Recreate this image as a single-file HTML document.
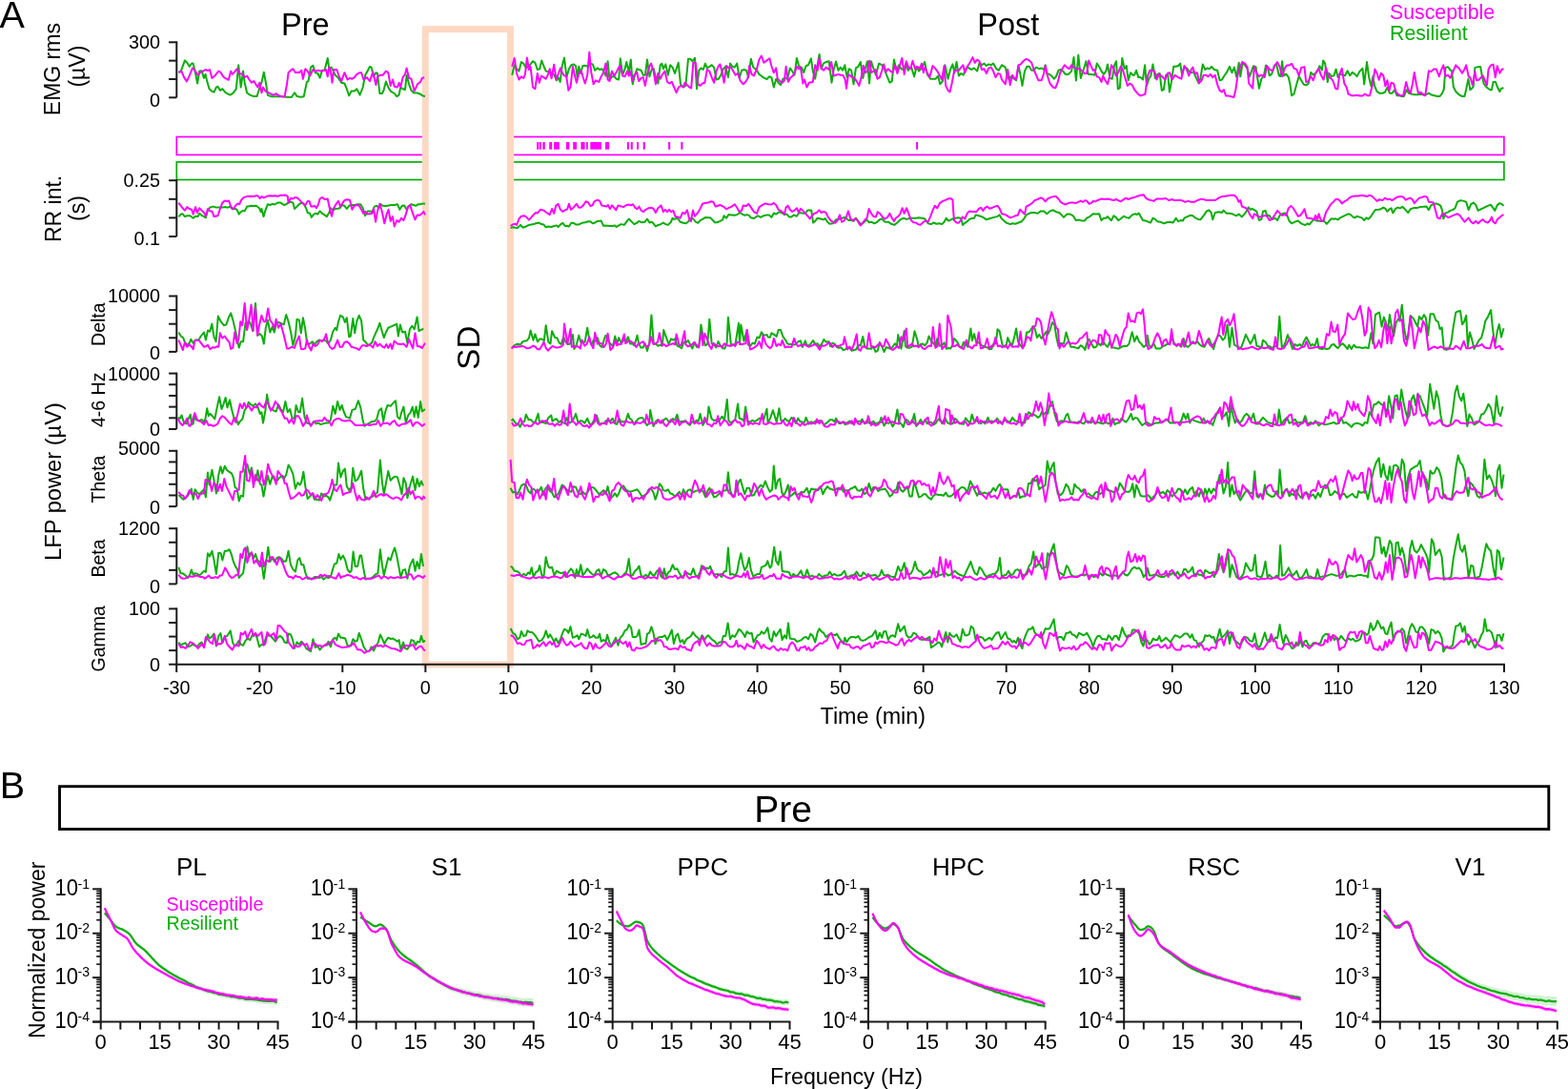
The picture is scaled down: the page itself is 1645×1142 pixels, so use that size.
<!DOCTYPE html>
<html><head><meta charset="utf-8"><title>Figure</title>
<style>html,body{margin:0;padding:0;background:#fff;}svg{display:block;}</style>
</head><body>
<svg width="1645" height="1142" viewBox="0 0 1645 1142" font-family="'Liberation Sans', Arial, sans-serif">
<rect width="1645" height="1142" fill="#fff"/>
<text x="-0.60" y="28.90" font-size="39.5" text-anchor="start" fill="#000">A</text>
<text x="320.30" y="36.50" font-size="32.5" text-anchor="middle" fill="#000">Pre</text>
<text x="1057.80" y="36.50" font-size="32.5" text-anchor="middle" fill="#000">Post</text>
<text x="1458.00" y="19.90" font-size="21.3" text-anchor="start" fill="#ff00ff">Susceptible</text>
<text x="1458.00" y="41.50" font-size="21.3" text-anchor="start" fill="#0aad0a">Resilient</text>
<text x="63.30" y="72.60" font-size="23" text-anchor="middle" fill="#000" transform="rotate(-90 63.30 72.60)">EMG rms</text>
<text x="89.30" y="69.60" font-size="23" text-anchor="middle" fill="#000" transform="rotate(-90 89.30 69.60)">(µV)</text>
<text x="63.60" y="218.90" font-size="23" text-anchor="middle" fill="#000" transform="rotate(-90 63.60 218.90)">RR int.</text>
<text x="89.30" y="218.50" font-size="23" text-anchor="middle" fill="#000" transform="rotate(-90 89.30 218.50)">(s)</text>
<text x="63.80" y="505.00" font-size="23.7" text-anchor="middle" fill="#000" transform="rotate(-90 63.80 505.00)">LFP power (µV)</text>
<rect x="185.3" y="143.5" width="1392.6" height="18.9" fill="none" stroke="#ff00ff" stroke-width="1.7"/>
<rect x="185.3" y="169.9" width="1392.6" height="18.6" fill="none" stroke="#0aad0a" stroke-width="1.7"/>
<rect x="563.1" y="149.0" width="2.1" height="7.7" fill="#ff00ff"/>
<rect x="565.7" y="149.0" width="2.2" height="7.7" fill="#ff00ff"/>
<rect x="569.3" y="149.0" width="2.5" height="7.7" fill="#ff00ff"/>
<rect x="576.2" y="149.0" width="3.0" height="7.7" fill="#ff00ff"/>
<rect x="581.0" y="149.0" width="5.9" height="7.7" fill="#ff00ff"/>
<rect x="594.0" y="149.0" width="3.4" height="7.7" fill="#ff00ff"/>
<rect x="601.2" y="149.0" width="3.9" height="7.7" fill="#ff00ff"/>
<rect x="609.4" y="149.0" width="4.2" height="7.7" fill="#ff00ff"/>
<rect x="614.9" y="149.0" width="1.9" height="7.7" fill="#ff00ff"/>
<rect x="619.3" y="149.0" width="11.7" height="7.7" fill="#ff00ff"/>
<rect x="635.0" y="149.0" width="4.2" height="7.7" fill="#ff00ff"/>
<rect x="657.9" y="149.0" width="2.1" height="7.7" fill="#ff00ff"/>
<rect x="661.7" y="149.0" width="2.1" height="7.7" fill="#ff00ff"/>
<rect x="668.1" y="149.0" width="1.9" height="7.7" fill="#ff00ff"/>
<rect x="674.7" y="149.0" width="2.1" height="7.7" fill="#ff00ff"/>
<rect x="701.1" y="149.0" width="2.1" height="7.7" fill="#ff00ff"/>
<rect x="714.3" y="149.0" width="2.1" height="7.7" fill="#ff00ff"/>
<rect x="961.1" y="149.0" width="2.0" height="7.7" fill="#ff00ff"/>
<rect x="446.3" y="30.6" width="89.3" height="666.3" fill="#fff" stroke="#fdd9c4" stroke-width="7"/>
<text x="503.40" y="364.70" font-size="33" text-anchor="middle" fill="#000" transform="rotate(-90 503.40 364.70)">SD</text>
<line x1="185.30" y1="43.30" x2="185.30" y2="102.30" stroke="#1a1a1a" stroke-width="2"/>
<line x1="177.10" y1="44.30" x2="185.30" y2="44.30" stroke="#1a1a1a" stroke-width="2"/>
<line x1="177.10" y1="63.63" x2="185.30" y2="63.63" stroke="#1a1a1a" stroke-width="2"/>
<line x1="177.10" y1="82.97" x2="185.30" y2="82.97" stroke="#1a1a1a" stroke-width="2"/>
<line x1="177.10" y1="102.30" x2="185.30" y2="102.30" stroke="#1a1a1a" stroke-width="2"/>
<text x="168.00" y="51.30" font-size="19.8" text-anchor="end" fill="#000">300</text>
<text x="168.00" y="112.40" font-size="19.8" text-anchor="end" fill="#000">0</text>
<line x1="185.30" y1="188.20" x2="185.30" y2="248.00" stroke="#1a1a1a" stroke-width="2"/>
<line x1="177.10" y1="189.20" x2="185.30" y2="189.20" stroke="#1a1a1a" stroke-width="2"/>
<line x1="177.10" y1="208.80" x2="185.30" y2="208.80" stroke="#1a1a1a" stroke-width="2"/>
<line x1="177.10" y1="228.40" x2="185.30" y2="228.40" stroke="#1a1a1a" stroke-width="2"/>
<line x1="177.10" y1="248.00" x2="185.30" y2="248.00" stroke="#1a1a1a" stroke-width="2"/>
<text x="168.00" y="195.50" font-size="19.8" text-anchor="end" fill="#000">0.25</text>
<text x="168.00" y="257.00" font-size="19.8" text-anchor="end" fill="#000">0.1</text>
<line x1="185.30" y1="309.50" x2="185.30" y2="368.90" stroke="#1a1a1a" stroke-width="2"/>
<line x1="177.10" y1="310.50" x2="185.30" y2="310.50" stroke="#1a1a1a" stroke-width="2"/>
<line x1="177.10" y1="325.10" x2="185.30" y2="325.10" stroke="#1a1a1a" stroke-width="2"/>
<line x1="177.10" y1="339.70" x2="185.30" y2="339.70" stroke="#1a1a1a" stroke-width="2"/>
<line x1="177.10" y1="354.30" x2="185.30" y2="354.30" stroke="#1a1a1a" stroke-width="2"/>
<line x1="177.10" y1="368.90" x2="185.30" y2="368.90" stroke="#1a1a1a" stroke-width="2"/>
<text x="168.00" y="316.60" font-size="19.8" text-anchor="end" fill="#000">10000</text>
<text x="168.00" y="377.00" font-size="19.8" text-anchor="end" fill="#000">0</text>
<text x="110.20" y="340.15" font-size="19.5" text-anchor="middle" fill="#000" transform="rotate(-90 110.20 340.15)">Delta</text>
<line x1="185.30" y1="390.60" x2="185.30" y2="450.00" stroke="#1a1a1a" stroke-width="2"/>
<line x1="177.10" y1="391.60" x2="185.30" y2="391.60" stroke="#1a1a1a" stroke-width="2"/>
<line x1="177.10" y1="403.28" x2="185.30" y2="403.28" stroke="#1a1a1a" stroke-width="2"/>
<line x1="177.10" y1="414.96" x2="185.30" y2="414.96" stroke="#1a1a1a" stroke-width="2"/>
<line x1="177.10" y1="426.64" x2="185.30" y2="426.64" stroke="#1a1a1a" stroke-width="2"/>
<line x1="177.10" y1="438.32" x2="185.30" y2="438.32" stroke="#1a1a1a" stroke-width="2"/>
<line x1="177.10" y1="450.00" x2="185.30" y2="450.00" stroke="#1a1a1a" stroke-width="2"/>
<text x="168.00" y="399.00" font-size="19.8" text-anchor="end" fill="#000">10000</text>
<text x="168.00" y="456.70" font-size="19.8" text-anchor="end" fill="#000">0</text>
<text x="110.20" y="419.25" font-size="19.5" text-anchor="middle" fill="#000" transform="rotate(-90 110.20 419.25)">4-6 Hz</text>
<line x1="185.30" y1="471.80" x2="185.30" y2="531.10" stroke="#1a1a1a" stroke-width="2"/>
<line x1="177.10" y1="472.80" x2="185.30" y2="472.80" stroke="#1a1a1a" stroke-width="2"/>
<line x1="177.10" y1="484.46" x2="185.30" y2="484.46" stroke="#1a1a1a" stroke-width="2"/>
<line x1="177.10" y1="496.12" x2="185.30" y2="496.12" stroke="#1a1a1a" stroke-width="2"/>
<line x1="177.10" y1="507.78" x2="185.30" y2="507.78" stroke="#1a1a1a" stroke-width="2"/>
<line x1="177.10" y1="519.44" x2="185.30" y2="519.44" stroke="#1a1a1a" stroke-width="2"/>
<line x1="177.10" y1="531.10" x2="185.30" y2="531.10" stroke="#1a1a1a" stroke-width="2"/>
<text x="168.00" y="476.80" font-size="19.8" text-anchor="end" fill="#000">5000</text>
<text x="168.00" y="539.00" font-size="19.8" text-anchor="end" fill="#000">0</text>
<text x="110.20" y="502.50" font-size="19.5" text-anchor="middle" fill="#000" transform="rotate(-90 110.20 502.50)">Theta</text>
<line x1="185.30" y1="553.20" x2="185.30" y2="612.40" stroke="#1a1a1a" stroke-width="2"/>
<line x1="177.10" y1="554.20" x2="185.30" y2="554.20" stroke="#1a1a1a" stroke-width="2"/>
<line x1="177.10" y1="568.75" x2="185.30" y2="568.75" stroke="#1a1a1a" stroke-width="2"/>
<line x1="177.10" y1="583.30" x2="185.30" y2="583.30" stroke="#1a1a1a" stroke-width="2"/>
<line x1="177.10" y1="597.85" x2="185.30" y2="597.85" stroke="#1a1a1a" stroke-width="2"/>
<line x1="177.10" y1="612.40" x2="185.30" y2="612.40" stroke="#1a1a1a" stroke-width="2"/>
<text x="168.00" y="561.30" font-size="19.8" text-anchor="end" fill="#000">1200</text>
<text x="168.00" y="622.00" font-size="19.8" text-anchor="end" fill="#000">0</text>
<text x="110.20" y="585.45" font-size="19.5" text-anchor="middle" fill="#000" transform="rotate(-90 110.20 585.45)">Beta</text>
<line x1="185.30" y1="637.40" x2="185.30" y2="696.70" stroke="#1a1a1a" stroke-width="2"/>
<line x1="177.10" y1="638.40" x2="185.30" y2="638.40" stroke="#1a1a1a" stroke-width="2"/>
<line x1="177.10" y1="652.98" x2="185.30" y2="652.98" stroke="#1a1a1a" stroke-width="2"/>
<line x1="177.10" y1="667.55" x2="185.30" y2="667.55" stroke="#1a1a1a" stroke-width="2"/>
<line x1="177.10" y1="682.12" x2="185.30" y2="682.12" stroke="#1a1a1a" stroke-width="2"/>
<line x1="177.10" y1="696.70" x2="185.30" y2="696.70" stroke="#1a1a1a" stroke-width="2"/>
<text x="168.00" y="644.60" font-size="19.8" text-anchor="end" fill="#000">100</text>
<text x="168.00" y="704.20" font-size="19.8" text-anchor="end" fill="#000">0</text>
<text x="110.20" y="669.75" font-size="19.5" text-anchor="middle" fill="#000" transform="rotate(-90 110.20 669.75)">Gamma</text>
<line x1="184.30" y1="696.70" x2="1578.90" y2="696.70" stroke="#1a1a1a" stroke-width="2"/>
<line x1="185.20" y1="696.70" x2="185.20" y2="705.00" stroke="#1a1a1a" stroke-width="2"/>
<text x="185.20" y="728.40" font-size="19.8" text-anchor="middle" fill="#000">-30</text>
<line x1="272.25" y1="696.70" x2="272.25" y2="705.00" stroke="#1a1a1a" stroke-width="2"/>
<text x="272.25" y="728.40" font-size="19.8" text-anchor="middle" fill="#000">-20</text>
<line x1="359.30" y1="696.70" x2="359.30" y2="705.00" stroke="#1a1a1a" stroke-width="2"/>
<text x="359.30" y="728.40" font-size="19.8" text-anchor="middle" fill="#000">-10</text>
<line x1="446.35" y1="696.70" x2="446.35" y2="705.00" stroke="#1a1a1a" stroke-width="2"/>
<text x="446.35" y="728.40" font-size="19.8" text-anchor="middle" fill="#000">0</text>
<line x1="533.40" y1="696.70" x2="533.40" y2="705.00" stroke="#1a1a1a" stroke-width="2"/>
<text x="533.40" y="728.40" font-size="19.8" text-anchor="middle" fill="#000">10</text>
<line x1="620.45" y1="696.70" x2="620.45" y2="705.00" stroke="#1a1a1a" stroke-width="2"/>
<text x="620.45" y="728.40" font-size="19.8" text-anchor="middle" fill="#000">20</text>
<line x1="707.50" y1="696.70" x2="707.50" y2="705.00" stroke="#1a1a1a" stroke-width="2"/>
<text x="707.50" y="728.40" font-size="19.8" text-anchor="middle" fill="#000">30</text>
<line x1="794.55" y1="696.70" x2="794.55" y2="705.00" stroke="#1a1a1a" stroke-width="2"/>
<text x="794.55" y="728.40" font-size="19.8" text-anchor="middle" fill="#000">40</text>
<line x1="881.60" y1="696.70" x2="881.60" y2="705.00" stroke="#1a1a1a" stroke-width="2"/>
<text x="881.60" y="728.40" font-size="19.8" text-anchor="middle" fill="#000">50</text>
<line x1="968.65" y1="696.70" x2="968.65" y2="705.00" stroke="#1a1a1a" stroke-width="2"/>
<text x="968.65" y="728.40" font-size="19.8" text-anchor="middle" fill="#000">60</text>
<line x1="1055.70" y1="696.70" x2="1055.70" y2="705.00" stroke="#1a1a1a" stroke-width="2"/>
<text x="1055.70" y="728.40" font-size="19.8" text-anchor="middle" fill="#000">70</text>
<line x1="1142.75" y1="696.70" x2="1142.75" y2="705.00" stroke="#1a1a1a" stroke-width="2"/>
<text x="1142.75" y="728.40" font-size="19.8" text-anchor="middle" fill="#000">80</text>
<line x1="1229.80" y1="696.70" x2="1229.80" y2="705.00" stroke="#1a1a1a" stroke-width="2"/>
<text x="1229.80" y="728.40" font-size="19.8" text-anchor="middle" fill="#000">90</text>
<line x1="1316.85" y1="696.70" x2="1316.85" y2="705.00" stroke="#1a1a1a" stroke-width="2"/>
<text x="1316.85" y="728.40" font-size="19.8" text-anchor="middle" fill="#000">100</text>
<line x1="1403.90" y1="696.70" x2="1403.90" y2="705.00" stroke="#1a1a1a" stroke-width="2"/>
<text x="1403.90" y="728.40" font-size="19.8" text-anchor="middle" fill="#000">110</text>
<line x1="1490.95" y1="696.70" x2="1490.95" y2="705.00" stroke="#1a1a1a" stroke-width="2"/>
<text x="1490.95" y="728.40" font-size="19.8" text-anchor="middle" fill="#000">120</text>
<line x1="1578.00" y1="696.70" x2="1578.00" y2="705.00" stroke="#1a1a1a" stroke-width="2"/>
<text x="1578.00" y="728.40" font-size="19.8" text-anchor="middle" fill="#000">130</text>
<text x="915.80" y="758.90" font-size="23.3" text-anchor="middle" fill="#000">Time (min)</text>
<polyline points="187.4,76.2 189.8,74.6 193.9,63.4 196.3,65.8 198.7,69.8 201.1,66.6 202.7,66.6 205.1,77.0 207.1,87.5 209.2,74.6 211.6,74.2 214.0,81.9 215.6,77.9 217.2,85.1 219.6,93.2 222.1,95.6 224.5,96.7 226.9,91.5 228.5,90.8 230.9,94.8 233.3,93.2 236.6,97.2 241.4,99.6 244.6,97.7 247.8,93.2 250.2,68.2 252.7,91.5 255.1,74.6 256.7,86.7 259.1,97.2 262.3,99.6 265.6,100.9 269.6,100.9 272.0,93.2 274.4,86.7 276.8,75.8 279.2,88.3 280.9,99.9 284.9,101.2 289.7,101.2 294.5,101.2 297.8,101.5 301.0,101.7 305.8,102.0 309.0,97.2 311.5,100.9 315.5,101.7 318.7,101.2 321.9,85.9 323.5,85.1 326.0,70.6 328.4,68.7 330.8,76.2 333.2,76.7 335.6,81.6 338.0,73.8 340.5,73.8 343.7,60.9 345.3,72.2 347.7,70.6 349.3,73.8 351.7,78.7 355.0,81.9 358.2,86.7 361.4,87.5 363.8,93.2 366.2,100.4 368.6,95.6 371.9,95.6 374.3,93.2 377.5,99.6 380.7,91.5 383.1,78.7 385.6,74.6 388.0,69.8 389.6,70.6 392.0,80.3 394.4,76.2 396.0,77.0 398.4,98.0 400.9,98.0 402.5,94.8 404.9,85.4 407.3,91.5 409.7,95.6 413.8,98.0 416.2,101.2 418.6,99.6 420.2,91.5 422.6,93.2 425.0,94.0 426.6,78.7 429.1,88.3 431.5,94.8 433.9,97.2 437.9,97.5 441.1,98.8 443.6,100.4 446.0,100.9" fill="none" stroke="#0aad0a" stroke-width="2" stroke-linejoin="round"/>
<polyline points="537.2,78.7 539.7,68.2 542.1,72.2 544.5,74.6 546.9,65.0 549.3,66.6 551.8,71.4 554.2,69.8 556.6,67.4 559.0,64.2 561.4,65.8 563.8,73.0 566.2,72.2 568.2,63.4 570.3,69.0 572.7,74.6 575.9,75.4 578.3,76.2 581.5,78.7 584.0,84.3 585.6,81.1 587.7,85.9 589.6,69.8 592.0,60.6 594.4,81.1 596.9,72.2 599.3,68.2 601.7,67.4 604.1,69.0 605.7,81.9 607.3,69.8 608.9,77.0 611.4,69.0 613.8,68.7 617.0,69.8 619.4,66.6 621.8,67.4 624.2,73.8 626.7,71.4 629.1,73.0 631.5,72.2 633.1,74.6 635.5,79.5 637.6,64.2 639.5,83.5 642.0,80.3 644.4,80.3 646.8,82.7 649.2,83.5 650.8,61.3 653.2,78.7 655.6,72.2 657.3,65.0 659.7,75.4 661.8,62.5 663.7,88.3 666.1,78.7 668.2,72.2 670.1,73.0 672.6,73.8 674.7,78.7 676.9,78.7 679.0,62.5 681.4,80.3 683.9,72.2 685.9,72.2 687.9,81.1 690.3,87.5 692.7,68.2 694.3,66.6 695.9,72.2 698.3,67.4 700.8,78.7 703.2,68.2 705.6,70.6 708.0,77.0 711.7,65.8 714.0,88.3 716.9,91.5 719.3,89.9 722.0,61.8 724.1,61.8 726.5,64.2 729.0,60.9 731.0,93.2 733.3,73.8 735.4,71.4 737.8,73.0 739.9,66.6 741.8,71.4 744.3,69.8 746.7,68.2 749.1,70.6 751.5,83.5 753.9,82.7 756.3,78.7 758.8,72.2 761.2,69.8 763.9,81.1 766.0,66.6 768.4,69.8 770.8,70.6 773.2,66.6 775.7,81.9 778.1,73.8 780.5,73.0 782.9,73.8 785.3,81.1 787.8,61.8 790.2,70.6 794.0,73.8 796.4,77.9 799.7,80.3 802.1,81.9 804.5,83.2 806.9,80.3 809.3,81.1 811.8,91.5 814.2,82.7 816.6,86.7 819.0,89.1 821.4,82.7 823.8,81.9 826.2,82.7 828.7,71.4 831.1,74.6 833.5,78.7 835.9,60.9 838.3,69.8 840.8,70.6 843.2,76.2 845.6,69.0 848.0,68.2 850.9,61.3 852.8,74.6 855.2,82.7 857.3,69.8 859.6,56.9 861.7,72.2 863.8,66.6 866.5,65.0 869.7,64.2 872.5,86.7 874.6,73.0 877.0,64.5 879.4,73.8 881.8,70.6 884.2,73.8 886.3,68.2 888.6,81.1 890.7,72.2 893.1,73.8 895.5,88.3 897.9,71.4 900.4,69.8 902.8,65.0 905.2,81.9 907.6,72.2 910.0,64.2 912.0,87.5 914.0,64.2 916.5,72.2 918.9,78.7 922.1,66.6 925.3,68.2 927.7,72.2 930.1,78.7 933.4,86.7 935.8,85.1 937.9,62.5 940.6,73.8 943.0,68.2 945.5,72.2 947.9,73.0 950.3,67.4 952.7,73.8 955.9,69.8 959.1,80.3 961.6,69.8 964.0,74.6 967.2,71.4 970.1,65.0 972.8,77.9 976.1,82.7 979.3,82.7 981.7,82.7 984.1,79.5 986.2,88.3 989.0,85.1 991.4,68.2 994.6,82.7 997.0,73.0 999.4,67.4 1001.4,76.2 1003.5,65.0 1005.9,79.5 1008.3,77.0 1010.7,78.7 1013.1,72.2 1015.5,70.6 1018.8,73.0 1022.0,71.4 1025.2,74.6 1027.6,65.8 1030.0,68.2 1032.5,66.6 1034.9,69.0 1037.3,67.4 1039.7,68.2 1042.1,66.6 1045.3,72.2 1047.8,73.8 1051.0,68.2 1054.8,70.6 1056.4,78.7 1058.0,82.7 1060.5,80.3 1062.9,81.9 1066.1,84.3 1068.5,69.0 1070.1,76.2 1072.5,89.9 1075.0,74.6 1077.4,69.8 1079.8,69.8 1082.2,73.8 1084.6,73.8 1087.0,70.6 1088.7,71.4 1090.3,72.2 1092.7,71.4 1095.1,73.0 1096.7,68.2 1098.3,77.0 1100.8,77.9 1103.2,79.5 1105.6,82.7 1108.0,80.3 1110.4,73.8 1112.8,73.0 1115.2,74.6 1117.7,77.9 1120.9,77.9 1124.1,74.6 1126.5,60.1 1128.9,84.3 1131.3,57.7 1133.8,81.9 1137.0,72.2 1139.4,64.2 1141.8,77.9 1145.0,77.9 1148.3,78.7 1150.7,66.6 1153.1,69.8 1155.5,74.6 1157.9,77.9 1160.3,74.6 1162.0,67.4 1164.4,81.9 1166.8,82.7 1169.2,68.2 1171.1,64.2 1172.8,93.2 1174.8,92.4 1177.3,60.9 1179.7,72.2 1181.8,69.0 1183.7,84.3 1186.1,76.2 1188.5,78.7 1190.2,78.7 1192.1,73.8 1194.2,81.1 1196.6,81.1 1199.0,83.5 1201.1,68.2 1203.0,89.9 1205.5,81.9 1207.1,80.3 1209.5,67.4 1211.9,81.9 1214.3,77.9 1216.7,77.0 1218.8,94.8 1220.8,94.0 1223.2,78.7 1225.3,78.7 1226.9,96.4 1228.8,86.7 1231.2,69.8 1233.7,69.8 1236.1,69.0 1238.2,66.6 1240.1,78.7 1242.5,69.8 1244.9,71.4 1247.3,74.6 1249.8,76.2 1252.2,75.4 1254.6,81.1 1257.8,87.5 1259.4,81.9 1261.8,67.4 1264.3,73.0 1266.7,71.4 1269.1,72.2 1271.0,69.8 1273.9,73.0 1277.1,73.8 1279.6,84.3 1282.0,83.5 1284.4,79.5 1286.8,76.2 1290.0,69.8 1292.5,76.2 1294.9,70.6 1297.3,81.1 1299.7,65.8 1301.3,80.3 1303.7,65.8 1306.1,68.2 1308.6,72.2 1311.0,80.3 1312.5,75.9 1315.0,69.2 1317.5,70.1 1319.2,81.8 1320.9,92.7 1323.4,82.6 1325.9,79.3 1328.0,68.4 1330.1,70.9 1331.7,79.3 1334.2,77.6 1336.8,69.2 1339.2,67.6 1341.8,79.3 1343.4,80.1 1345.1,64.2 1346.8,79.3 1349.3,77.6 1351.8,81.0 1353.5,88.5 1355.1,100.2 1357.6,98.5 1360.2,88.5 1362.7,80.1 1365.2,84.3 1367.7,88.5 1370.2,89.3 1372.7,87.6 1375.2,75.9 1377.7,78.5 1380.2,76.8 1382.7,73.4 1384.4,69.2 1386.9,73.4 1388.2,63.4 1390.2,66.8 1392.8,86.0 1394.4,76.8 1396.9,80.1 1399.4,79.3 1401.6,72.6 1403.6,81.0 1406.1,77.6 1408.6,78.5 1411.1,79.3 1413.6,74.3 1416.2,79.3 1418.7,75.9 1421.2,77.6 1423.7,80.1 1426.2,75.1 1429.5,71.8 1431.2,88.5 1434.0,65.1 1436.2,81.0 1438.4,90.2 1440.4,80.1 1442.1,90.2 1444.6,96.0 1447.1,97.7 1450.4,97.7 1452.9,96.8 1455.4,91.8 1457.9,97.7 1460.5,97.7 1463.0,94.3 1465.5,100.2 1468.0,100.2 1470.5,101.0 1473.0,101.0 1475.5,94.3 1478.0,97.7 1480.5,98.5 1483.8,99.3 1487.2,99.3 1490.5,98.8 1493.0,99.3 1495.6,99.3 1498.9,97.7 1501.4,99.3 1504.8,100.2 1508.1,101.0 1510.6,101.0 1513.1,97.7 1514.8,93.5 1516.5,70.9 1519.0,70.1 1521.5,73.4 1523.1,74.3 1524.8,91.0 1527.3,96.0 1530.7,99.3 1534.0,101.0 1536.5,101.0 1538.2,93.5 1540.4,82.6 1542.4,94.3 1544.0,92.7 1545.7,91.0 1547.4,70.9 1550.7,70.1 1553.2,70.1 1554.9,80.1 1556.6,87.6 1559.9,91.8 1563.3,94.3 1564.9,94.3 1566.6,86.0 1569.1,86.0 1570.8,91.0 1573.3,96.0 1575.0,92.7 1577.5,92.2" fill="none" stroke="#0aad0a" stroke-width="2" stroke-linejoin="round"/>
<polyline points="187.4,227.4 189.8,224.6 191.4,224.2 193.9,227.1 196.3,226.2 199.5,226.2 202.7,228.7 205.1,226.7 207.6,227.1 209.2,223.8 211.6,225.8 214.0,227.1 215.9,228.3 218.0,220.6 220.4,217.4 223.7,216.6 226.1,217.4 230.1,217.4 233.3,217.4 236.6,217.1 239.0,217.7 241.4,216.6 243.8,219.3 246.2,218.7 248.6,219.8 250.7,224.6 252.7,222.2 255.1,220.9 256.7,221.4 259.1,216.6 260.7,216.6 263.1,215.8 265.6,216.1 268.8,215.8 272.0,218.2 273.6,222.2 274.4,219.0 276.5,227.1 278.4,220.6 280.9,214.2 283.3,215.0 285.7,213.8 288.1,214.5 291.3,212.6 294.5,212.6 297.8,215.0 300.2,214.2 302.6,212.6 305.8,211.8 307.4,212.6 309.0,219.0 311.5,216.6 313.9,214.2 316.3,212.6 318.7,213.8 321.1,218.2 322.7,223.0 325.1,223.8 326.8,227.9 329.2,224.6 331.6,223.8 333.2,224.6 335.6,221.4 338.0,223.8 340.5,225.4 342.9,227.1 345.3,223.0 346.9,218.2 349.3,220.6 351.7,219.0 354.1,218.7 356.6,218.2 359.0,215.0 361.4,215.8 363.8,219.0 366.2,215.8 368.6,215.0 371.9,215.0 375.1,214.2 378.3,214.2 380.7,218.2 383.1,226.2 385.6,221.4 388.0,221.4 390.4,222.2 392.8,216.6 395.2,215.8 397.6,218.2 399.3,214.2 401.7,215.8 404.9,216.1 408.1,215.4 410.5,215.0 413.8,215.0 417.0,214.2 419.4,219.8 421.8,215.8 424.2,215.4 426.6,219.8 429.1,215.8 431.5,214.2 433.9,215.0 436.3,215.8 438.7,214.2 441.1,214.2 443.6,213.4 446.0,213.8" fill="none" stroke="#0aad0a" stroke-width="2" stroke-linejoin="round"/>
<polyline points="535.6,239.1 538.0,238.3 540.5,238.7 542.9,239.1 546.1,235.9 548.5,238.7 551.8,237.5 555.0,235.9 557.4,235.4 559.8,235.1 562.2,234.3 565.4,233.5 567.9,235.1 570.3,235.4 572.7,238.3 575.1,237.5 578.3,238.0 581.5,237.0 584.0,236.4 585.6,238.0 588.0,235.4 590.4,233.8 592.8,237.0 594.4,236.7 596.9,237.5 599.3,233.8 601.7,233.8 604.1,235.4 607.3,235.4 610.5,233.8 613.8,233.2 617.0,232.2 619.4,232.2 621.8,234.3 624.2,233.5 626.7,231.9 630.7,231.6 633.1,236.7 635.5,236.4 639.5,237.0 642.8,237.0 644.7,236.4 646.8,238.0 649.2,236.4 651.6,235.1 654.9,235.9 657.3,232.7 659.7,229.5 662.1,231.9 665.3,235.1 668.5,233.5 670.1,231.9 673.4,233.2 676.6,232.7 679.0,229.5 681.4,233.5 683.9,232.7 685.5,234.3 687.9,237.5 690.3,235.9 692.7,235.4 695.9,233.5 698.3,235.1 700.8,235.9 704.0,232.7 705.6,228.7 707.2,229.9 708.8,229.5 710.4,228.3 713.6,232.7 716.9,233.8 719.8,234.3 722.5,231.9 724.9,229.0 727.3,229.5 729.8,232.7 732.2,233.8 734.6,231.1 737.0,229.9 740.2,227.9 742.6,228.3 745.1,228.3 747.5,230.6 749.9,233.2 752.3,233.2 755.5,231.9 758.0,230.6 759.6,226.2 762.0,228.7 764.4,225.1 767.6,225.4 770.8,225.8 773.2,225.1 776.5,223.0 778.9,224.6 781.3,225.8 783.7,225.1 786.1,226.2 787.8,228.3 791.0,229.0 794.8,226.2 798.0,227.9 801.3,226.2 804.5,225.4 806.9,225.4 809.3,227.9 811.8,223.5 814.2,224.6 817.4,222.2 819.8,223.0 823.0,225.1 825.4,224.6 827.9,227.4 830.3,227.4 832.7,225.4 835.9,226.7 838.3,223.0 841.5,223.5 844.8,223.8 847.2,220.6 851.2,220.6 853.1,233.5 855.2,231.9 857.7,228.7 860.9,229.5 864.1,230.3 865.7,229.0 868.1,232.7 870.5,234.8 873.8,234.3 877.0,230.3 880.2,229.9 883.4,228.7 885.9,227.9 888.3,229.5 890.7,231.1 893.1,231.1 895.5,231.9 897.9,228.7 900.4,231.9 902.8,235.1 906.0,233.5 909.2,230.3 911.6,233.2 914.0,232.7 917.3,234.3 919.7,233.2 922.9,230.3 925.3,229.5 928.5,232.7 931.8,232.7 935.0,234.8 938.2,235.9 941.4,233.5 944.6,230.3 947.9,228.7 951.1,229.9 954.3,229.0 957.5,228.7 960.8,228.7 964.0,228.3 967.2,228.7 970.4,229.5 973.6,234.3 976.9,235.1 979.3,233.5 982.5,234.8 985.7,234.3 988.1,235.1 990.6,232.7 992.7,228.7 994.9,231.6 997.8,230.3 1001.0,229.0 1005.1,228.3 1008.3,228.7 1009.9,235.9 1012.3,233.8 1014.7,232.2 1017.1,229.9 1019.6,229.0 1022.0,228.7 1023.6,225.4 1026.8,226.2 1030.0,227.1 1032.5,228.7 1034.9,230.3 1037.3,229.5 1039.7,228.7 1042.9,227.9 1046.1,227.1 1048.6,225.4 1051.0,229.5 1055.6,233.5 1059.7,235.1 1062.1,234.3 1065.3,234.8 1068.5,233.5 1071.8,232.2 1074.2,229.5 1076.6,225.4 1079.8,223.8 1082.2,223.0 1085.4,223.0 1088.7,223.8 1091.9,221.4 1095.1,221.4 1098.3,224.2 1101.5,221.4 1104.8,220.3 1108.0,222.2 1111.2,223.0 1113.6,225.4 1116.0,227.9 1119.3,224.6 1122.5,224.6 1125.7,226.2 1128.9,231.1 1132.2,230.6 1135.4,231.6 1137.8,231.6 1140.2,228.7 1143.4,227.1 1146.7,224.2 1149.9,224.6 1153.1,224.2 1155.5,231.1 1157.9,228.7 1160.3,228.7 1162.0,227.1 1164.4,229.9 1166.0,231.1 1168.4,226.2 1170.8,227.9 1173.2,231.1 1175.7,229.5 1178.9,226.7 1181.3,227.9 1184.5,228.7 1187.7,225.4 1191.0,224.2 1192.6,225.1 1194.7,223.5 1196.9,227.4 1199.0,231.1 1202.2,231.6 1204.7,232.7 1207.1,233.5 1209.5,228.7 1211.9,229.9 1214.3,232.2 1217.5,232.7 1220.8,234.3 1224.0,233.2 1227.2,232.7 1230.4,233.5 1232.0,231.6 1233.7,228.7 1236.1,232.2 1238.5,231.1 1240.9,231.6 1242.5,228.7 1245.7,227.1 1249.0,225.8 1251.4,226.2 1253.8,228.3 1257.0,229.9 1259.4,230.3 1262.7,226.2 1265.9,221.4 1268.3,220.3 1270.7,223.0 1272.3,230.3 1274.7,223.0 1278.8,222.2 1282.0,223.0 1283.6,220.6 1286.8,223.8 1290.0,223.8 1292.5,224.2 1294.9,225.4 1297.3,226.2 1299.7,224.6 1302.9,227.4 1306.1,223.8 1307.8,221.4 1309.7,217.4 1311.8,219.8 1313.7,218.8 1315.8,220.1 1318.4,221.8 1320.9,231.0 1323.4,229.8 1325.0,221.8 1327.5,220.9 1329.2,225.9 1331.7,225.9 1334.2,230.1 1337.6,228.8 1340.1,231.0 1342.6,225.9 1345.1,224.3 1347.6,223.4 1350.1,225.1 1352.6,231.8 1355.1,234.3 1358.5,232.6 1361.8,231.5 1364.3,233.8 1366.8,235.1 1369.3,236.0 1371.8,234.3 1373.5,235.5 1376.0,232.6 1378.5,230.1 1381.0,231.5 1384.4,231.8 1386.9,232.1 1389.4,232.1 1391.9,234.8 1394.4,231.8 1396.9,229.3 1399.4,229.8 1401.1,229.3 1403.6,230.4 1406.1,228.4 1408.6,227.1 1411.1,225.9 1414.5,224.3 1417.0,225.1 1419.5,227.6 1421.2,228.4 1423.7,226.8 1426.2,227.6 1428.7,228.4 1431.2,231.0 1433.4,228.4 1435.4,229.8 1437.9,227.6 1440.4,223.4 1442.9,220.1 1446.2,219.8 1448.8,219.2 1451.3,217.6 1453.8,219.2 1455.4,221.8 1457.9,219.2 1459.6,218.4 1461.3,223.4 1463.8,219.2 1466.3,217.6 1468.8,218.4 1471.3,216.8 1473.8,219.2 1477.2,223.1 1479.7,219.2 1483.0,218.1 1486.4,218.1 1489.7,217.1 1493.0,216.8 1496.4,216.4 1498.9,220.1 1501.4,215.1 1503.9,214.2 1506.4,213.4 1508.9,214.2 1511.4,215.9 1513.1,220.9 1514.3,229.3 1516.5,223.4 1519.0,222.6 1521.5,220.9 1524.0,220.1 1526.5,218.4 1529.0,211.7 1532.3,210.1 1535.7,210.9 1538.2,211.7 1540.7,220.1 1543.2,214.2 1545.7,212.6 1548.2,214.7 1550.7,220.9 1554.1,219.2 1557.4,217.6 1560.8,215.9 1564.1,214.7 1566.6,218.4 1568.3,220.9 1570.8,215.1 1573.3,213.1 1575.8,214.2 1577.5,215.9" fill="none" stroke="#0aad0a" stroke-width="2" stroke-linejoin="round"/>
<polyline points="187.4,348.5 189.8,352.5 192.2,354.1 193.9,359.0 196.3,361.4 198.7,359.8 200.3,355.8 202.7,359.8 205.1,356.6 208.4,356.6 210.8,352.5 214.0,348.5 215.9,356.6 218.0,346.6 220.1,347.7 222.4,339.6 224.5,353.3 226.6,358.2 228.8,331.6 231.7,337.2 234.9,341.2 237.4,340.4 239.8,333.2 242.2,328.4 244.6,336.4 247.0,346.9 249.1,356.6 250.7,364.6 252.7,358.2 255.1,358.2 257.5,338.8 259.9,338.0 262.3,338.0 265.2,346.9 268.0,317.9 270.1,351.7 272.8,350.1 274.9,352.5 276.8,360.6 278.8,343.7 280.9,335.6 283.3,348.5 285.7,342.9 287.8,348.5 289.7,339.6 292.1,338.0 294.5,338.8 297.8,340.4 300.2,330.0 302.6,337.2 305.0,347.7 307.4,362.2 309.9,352.5 311.5,334.8 313.9,335.6 315.8,349.3 317.9,333.2 320.0,343.7 322.2,360.6 325.1,360.6 327.6,358.2 330.0,361.4 332.4,358.2 334.8,356.6 337.2,357.4 339.6,356.6 342.1,357.4 344.5,360.6 346.9,356.6 349.3,347.7 351.7,343.7 353.3,346.1 355.0,337.2 357.1,330.8 359.8,332.4 361.9,338.0 363.8,333.2 366.2,353.3 367.8,352.5 370.3,334.0 372.2,349.3 374.3,337.2 376.7,330.8 379.1,336.4 381.2,356.6 383.1,358.2 385.6,361.4 388.0,361.4 390.4,359.0 392.0,354.1 394.1,349.3 396.0,345.3 398.4,338.8 400.9,347.7 402.8,354.1 404.9,348.5 407.3,343.7 410.5,342.4 413.8,340.8 416.2,339.6 417.8,352.5 419.9,340.4 422.1,348.5 425.0,347.7 427.4,359.8 429.9,345.3 432.3,341.7 434.7,345.3 437.6,332.4 439.5,347.2 442.8,345.3 444.4,345.3" fill="none" stroke="#0aad0a" stroke-width="2" stroke-linejoin="round"/>
<polyline points="537.0,364.6 539.2,362.5 541.5,361.1 543.7,360.7 546.0,361.6 548.2,358.4 550.5,357.5 552.8,357.2 555.0,354.4 556.6,346.6 559.5,356.7 561.4,350.4 564.0,358.4 566.3,355.4 568.5,355.5 570.8,357.3 572.7,341.2 575.3,358.7 577.5,360.4 579.1,347.2 582.1,353.9 584.3,354.2 586.6,359.4 588.8,361.0 591.2,353.3 593.3,358.5 595.6,361.0 597.9,360.8 600.9,350.9 602.4,366.0 604.6,362.5 607.3,351.7 609.1,358.5 611.4,358.5 613.6,358.8 616.2,343.7 618.1,355.3 620.4,361.6 622.7,356.5 624.9,357.8 626.7,354.1 629.4,362.4 631.7,364.2 633.9,355.5 635.5,351.7 638.5,358.0 640.7,360.8 643.0,363.1 645.2,352.6 647.5,360.3 649.2,354.1 652.0,360.3 654.2,355.9 656.5,358.9 658.9,353.3 661.0,360.4 663.3,360.3 665.5,362.4 668.5,351.7 670.0,359.9 672.3,364.5 674.5,364.5 676.8,360.3 679.0,368.0 681.3,359.4 683.4,330.4 685.8,360.5 688.1,360.6 690.3,362.7 692.6,361.8 694.8,362.6 696.2,346.1 699.3,354.8 701.6,360.9 704.0,355.3 706.1,356.6 708.4,355.2 710.6,362.7 712.9,363.6 715.1,365.2 717.4,358.8 719.6,359.4 721.9,356.9 724.1,361.4 726.4,365.4 728.7,358.9 730.9,363.8 733.2,364.3 735.4,340.4 737.7,354.1 739.9,362.3 742.2,360.9 744.3,334.8 746.7,360.5 749.0,361.4 751.2,364.5 753.5,358.1 755.7,362.2 758.0,365.2 760.2,365.5 762.5,360.8 763.9,332.7 767.0,362.6 769.3,361.6 771.5,360.9 774.9,338.8 776.0,361.1 777.3,340.4 780.5,357.7 783.7,346.1 785.0,361.7 787.3,362.7 789.6,359.7 791.8,360.7 794.4,353.5 796.7,354.3 798.9,348.2 801.2,351.9 804.5,350.9 805.7,353.4 807.9,353.7 809.3,349.3 812.5,351.0 814.7,352.9 816.6,346.1 819.0,346.1 821.5,353.2 824.6,357.4 826.0,360.4 828.2,361.0 830.5,361.0 832.8,361.4 835.0,360.9 837.3,358.3 839.9,357.4 841.8,364.1 844.8,357.4 846.3,361.6 848.5,362.7 850.8,360.1 853.0,357.1 855.3,361.0 857.6,360.2 859.8,363.4 862.1,360.6 864.3,356.0 866.6,358.6 869.7,358.2 871.1,363.2 873.3,359.8 875.6,360.6 877.9,364.0 880.1,364.9 882.4,364.3 884.6,367.2 886.9,366.4 889.1,364.2 891.4,365.1 893.6,367.8 895.9,367.0 898.1,366.6 900.4,361.8 902.7,362.5 905.2,353.0 907.2,363.3 909.4,365.6 911.7,365.4 913.9,365.8 916.2,363.4 918.5,368.9 920.7,367.8 922.9,359.0 925.2,363.2 927.5,369.0 929.7,364.1 932.0,364.8 934.2,365.8 936.5,363.7 938.8,360.3 941.0,362.6 942.2,350.9 945.5,365.7 948.7,346.9 950.0,363.5 952.3,364.8 954.5,364.7 956.8,363.7 959.5,347.2 962.4,356.6 963.6,364.2 965.8,360.9 968.1,360.6 970.3,362.3 972.6,359.4 974.5,352.5 977.1,357.9 979.3,359.8 981.6,363.5 983.3,354.9 986.1,362.9 988.4,362.1 990.6,359.3 992.9,365.8 995.1,365.0 997.4,365.4 999.6,361.3 1001.0,354.9 1004.1,358.3 1006.4,363.0 1008.7,365.1 1010.9,358.8 1013.2,361.1 1015.4,363.8 1018.4,344.5 1019.9,357.1 1022.0,350.1 1024.5,360.2 1026.7,358.8 1029.0,361.5 1031.2,362.9 1033.5,363.9 1035.7,364.3 1038.0,366.2 1040.2,365.9 1042.5,360.1 1044.8,360.2 1046.5,345.3 1048.6,347.2 1051.5,361.3 1053.2,363.8 1055.6,363.0 1057.2,354.1 1059.7,359.8 1062.1,361.4 1064.5,351.7 1066.1,344.5 1068.0,358.2 1070.1,361.4 1072.5,364.6 1075.0,362.2 1077.1,348.5 1079.0,348.5 1081.4,346.1 1083.8,342.1 1085.8,345.3 1087.9,354.1 1090.3,350.9 1092.7,354.9 1095.1,351.7 1097.5,347.7 1099.1,350.9 1101.5,346.1 1104.0,338.0 1106.4,341.2 1108.3,353.3 1110.4,363.0 1112.8,359.8 1116.0,360.6 1118.5,348.5 1120.9,356.6 1123.3,363.8 1125.7,363.8 1128.9,364.6 1131.3,365.4 1133.8,362.2 1136.2,363.8 1138.3,367.0 1140.2,359.8 1142.6,355.8 1145.0,360.6 1147.5,364.6 1149.9,363.8 1152.3,359.8 1154.7,362.2 1157.1,357.4 1159.5,361.4 1162.0,363.8 1164.4,358.2 1166.8,364.6 1169.2,364.6 1171.6,365.4 1174.0,365.4 1176.5,363.8 1178.9,363.0 1182.1,363.0 1184.5,360.6 1187.7,348.2 1190.2,358.2 1192.6,352.5 1195.0,358.2 1197.4,360.6 1199.8,363.8 1202.2,362.2 1203.8,351.7 1205.5,362.2 1207.9,364.6 1210.3,359.8 1212.7,365.4 1215.1,365.4 1217.5,365.4 1220.0,363.0 1222.4,362.2 1224.8,360.6 1227.2,360.6 1229.6,354.9 1232.0,359.8 1234.5,363.0 1236.9,360.6 1239.3,363.8 1241.7,354.9 1244.1,363.0 1246.5,363.8 1249.0,361.4 1251.4,358.2 1253.8,360.6 1256.2,358.2 1258.6,361.4 1261.0,363.0 1263.5,363.8 1265.9,359.0 1268.3,354.9 1270.7,360.6 1273.1,366.2 1275.5,357.4 1278.0,350.9 1280.4,352.5 1282.8,356.6 1285.2,354.1 1287.6,340.4 1290.0,363.8 1292.5,343.7 1294.9,361.4 1297.3,363.0 1299.7,364.6 1302.1,364.6 1304.5,358.2 1307.0,350.9 1309.4,355.8 1311.8,360.6 1314.2,356.0 1316.3,351.0 1318.4,362.7 1320.9,363.5 1323.4,364.3 1325.0,356.8 1327.5,358.5 1330.1,362.7 1332.6,363.5 1335.1,365.2 1337.6,362.7 1340.1,363.5 1342.3,331.8 1344.8,364.3 1347.6,361.8 1351.0,351.0 1353.5,358.5 1356.0,366.0 1358.5,361.0 1361.0,362.7 1363.5,361.0 1366.0,363.5 1367.7,358.5 1370.5,353.5 1372.7,357.7 1375.2,362.7 1376.9,361.0 1379.4,362.7 1381.9,355.1 1383.5,365.2 1386.9,366.0 1389.4,365.2 1391.9,366.0 1394.4,365.5 1396.9,361.8 1399.4,361.0 1401.6,363.5 1403.6,365.2 1406.1,361.8 1408.6,360.2 1411.1,362.7 1413.6,366.0 1415.3,361.8 1417.8,366.0 1420.3,361.8 1422.8,364.3 1426.2,364.3 1429.5,364.9 1432.9,364.3 1435.7,365.2 1438.4,349.3 1440.4,360.2 1442.9,330.1 1445.4,328.4 1447.1,327.6 1449.6,342.6 1451.8,332.6 1453.8,337.6 1455.9,346.8 1457.9,330.1 1460.5,346.0 1462.1,352.6 1464.6,338.4 1467.1,334.2 1468.8,335.1 1470.8,319.7 1473.0,343.4 1475.2,356.0 1477.2,351.8 1479.7,330.9 1483.0,334.2 1485.5,339.3 1487.2,342.6 1488.9,331.8 1491.4,335.1 1493.9,330.1 1495.9,333.4 1498.1,351.8 1500.6,329.2 1503.9,329.2 1506.4,335.9 1508.9,337.6 1510.6,345.1 1512.6,343.4 1514.8,366.0 1517.3,366.9 1519.8,366.0 1522.3,360.2 1524.8,341.8 1527.3,327.6 1529.8,326.4 1532.0,325.9 1534.0,340.1 1536.0,337.6 1538.2,330.9 1539.9,363.5 1542.0,348.5 1544.0,355.1 1546.5,366.0 1549.0,361.8 1551.6,356.8 1554.1,354.3 1556.6,345.1 1558.2,336.8 1560.8,332.6 1564.1,325.1 1565.8,342.6 1568.3,362.7 1570.8,347.6 1572.8,340.1 1575.0,353.5 1577.5,344.3" fill="none" stroke="#0aad0a" stroke-width="2" stroke-linejoin="round"/>
<polyline points="186.6,437.9 189.0,438.7 190.6,435.5 193.1,443.5 195.5,444.4 197.9,438.7 199.8,434.7 201.1,445.1 202.7,444.4 204.0,436.3 205.9,440.3 209.2,441.1 211.6,440.0 214.0,442.7 215.6,438.7 217.2,428.2 218.8,436.3 220.4,433.9 222.9,436.3 225.3,439.5 227.7,427.4 230.1,416.2 232.5,429.0 234.1,425.0 236.6,417.0 238.5,427.4 241.1,419.4 243.0,429.0 245.4,437.9 247.8,438.7 249.8,445.1 251.8,441.9 254.3,439.5 256.7,429.9 259.1,427.4 260.7,421.8 263.1,424.2 265.6,425.8 268.0,423.4 270.4,426.6 272.8,433.9 274.4,432.3 276.0,443.5 278.4,430.6 280.1,413.7 282.5,427.4 284.9,429.0 287.3,430.6 289.7,431.5 292.1,424.2 294.5,429.0 297.0,432.3 299.4,421.0 301.8,432.3 304.2,429.0 306.6,438.7 309.0,438.7 310.6,425.0 313.1,432.3 314.7,432.3 317.1,417.8 319.5,437.1 321.9,443.5 324.4,444.4 326.8,445.1 329.2,441.9 331.6,444.4 334.0,443.5 336.4,445.1 338.9,444.4 342.1,443.5 344.5,443.5 346.9,440.3 349.3,425.8 351.7,433.9 354.1,421.0 356.6,429.9 358.7,425.0 360.6,431.5 363.0,437.1 365.4,437.9 367.0,438.7 369.4,429.9 372.7,429.0 375.9,420.2 378.3,427.4 380.7,441.1 382.3,446.8 384.8,445.1 388.0,443.5 390.4,441.9 392.8,441.9 395.2,439.5 397.6,430.6 400.1,428.2 402.2,441.9 404.1,432.3 406.5,425.0 409.7,425.8 412.5,422.6 415.0,420.2 417.0,437.1 419.4,439.5 421.0,433.1 423.4,426.6 425.8,443.5 428.2,435.5 430.7,432.3 432.8,426.6 434.7,437.1 436.6,426.6 438.7,437.9 441.1,421.0 442.8,431.5 446.0,429.0" fill="none" stroke="#0aad0a" stroke-width="2" stroke-linejoin="round"/>
<polyline points="536.6,441.3 538.0,439.5 541.1,444.0 543.4,444.3 545.6,447.8 547.9,442.4 550.1,442.1 551.8,434.7 554.6,440.2 556.9,440.1 559.2,442.6 561.4,443.0 564.6,433.9 565.9,442.2 568.2,443.1 570.4,442.8 572.7,444.2 575.0,438.6 578.3,435.5 579.5,441.7 581.7,440.0 584.0,439.2 586.2,443.0 588.5,441.2 590.7,443.2 593.0,444.3 594.4,437.9 597.5,443.5 599.8,442.3 602.0,438.9 604.1,433.9 606.5,443.1 608.8,441.2 611.0,441.5 613.3,443.7 616.2,438.7 617.8,442.9 620.1,446.6 622.3,442.0 624.6,441.9 625.9,435.5 629.1,445.3 631.3,443.7 633.6,444.2 635.9,441.0 638.1,441.4 640.4,441.9 642.8,438.7 644.9,444.0 647.1,444.9 649.4,438.6 651.6,442.4 653.9,442.1 656.1,442.9 658.9,433.9 660.6,438.8 662.9,440.4 665.2,445.1 667.4,441.6 669.7,439.2 671.9,438.2 674.2,438.3 676.4,441.9 678.7,446.0 681.0,444.0 682.2,429.9 685.5,447.1 687.7,442.3 690.0,440.1 692.2,442.7 694.5,443.5 696.7,440.0 699.1,438.7 701.2,441.8 703.5,442.7 705.8,439.1 708.0,440.6 710.4,434.7 712.5,442.6 714.8,442.0 717.0,441.7 719.3,441.1 721.5,444.1 723.8,445.8 726.1,442.0 728.3,443.6 730.6,440.8 732.8,441.6 734.6,433.9 737.3,445.9 739.6,442.1 741.9,441.5 743.5,426.6 746.4,438.7 748.6,440.9 750.9,440.4 753.1,442.3 755.4,439.6 757.6,436.7 759.9,440.7 762.8,419.1 764.4,440.9 766.7,443.6 768.9,441.9 771.2,440.4 774.1,423.4 775.7,438.7 777.9,439.3 780.2,441.4 782.1,426.6 784.7,442.1 787.0,442.5 789.2,440.7 791.5,442.2 794.4,440.6 796.6,438.7 798.9,438.7 801.1,440.3 804.5,428.7 805.6,443.4 807.9,439.1 810.9,430.3 812.4,435.1 814.7,442.7 817.4,428.2 819.2,440.5 821.4,442.1 823.7,438.9 826.0,441.4 828.2,441.5 830.5,437.8 832.7,440.9 835.0,444.0 837.2,438.6 839.5,442.1 841.7,442.5 844.0,442.7 845.6,437.9 848.5,444.6 850.8,442.2 853.0,443.5 855.3,441.7 857.5,443.2 859.8,440.9 862.0,441.5 864.3,445.5 866.5,444.1 868.8,442.3 870.5,440.3 873.3,440.2 875.6,442.4 877.0,438.7 880.1,444.0 882.3,443.9 884.6,442.9 886.9,445.3 889.1,442.8 891.4,441.6 893.6,444.3 895.9,443.6 898.1,442.5 900.4,441.8 902.6,442.3 904.4,439.5 907.1,444.3 909.4,441.2 911.7,443.5 913.9,444.0 916.2,441.6 918.4,444.4 920.7,443.4 922.9,442.7 924.5,437.9 927.4,446.5 929.7,442.9 932.0,443.9 934.2,442.0 936.5,447.3 938.7,443.7 941.4,429.4 943.2,442.8 945.5,444.5 947.7,448.0 950.0,439.6 952.2,440.9 954.5,443.9 956.8,443.3 959.1,433.9 961.3,446.9 963.5,444.5 965.8,440.0 968.0,443.8 971.2,440.3 972.5,444.3 974.8,442.6 977.1,442.9 979.3,445.5 981.6,443.9 983.8,440.3 986.1,438.8 988.3,444.2 991.4,437.9 992.9,441.7 995.1,444.0 997.4,444.3 999.6,444.3 1001.9,438.8 1004.1,440.8 1006.4,444.3 1008.6,444.6 1010.9,444.8 1013.1,438.4 1015.4,441.5 1017.7,443.7 1019.6,434.7 1022.2,442.2 1024.4,441.4 1026.7,442.4 1028.9,444.2 1031.2,442.1 1033.4,444.4 1036.5,437.9 1038.0,442.5 1040.2,441.5 1042.5,442.4 1044.7,441.1 1046.1,438.7 1049.2,443.5 1051.5,443.5 1054.8,440.3 1057.2,441.6 1059.7,442.7 1062.1,437.9 1064.5,441.1 1066.9,441.9 1069.3,442.7 1072.5,442.7 1075.0,443.5 1077.4,436.3 1079.0,432.3 1081.4,433.9 1083.8,434.7 1086.2,435.5 1088.7,437.9 1091.1,436.3 1093.2,431.5 1095.1,434.7 1097.0,432.3 1099.1,433.9 1101.5,424.2 1104.0,421.0 1106.4,433.9 1108.8,441.9 1111.2,442.7 1113.6,441.1 1116.0,441.9 1118.5,435.5 1120.1,433.9 1122.5,441.9 1124.9,442.7 1127.3,442.7 1129.7,443.5 1132.2,441.9 1134.6,443.5 1137.0,444.4 1139.4,441.1 1141.8,441.9 1144.2,443.5 1146.7,441.9 1149.1,444.4 1151.5,442.7 1153.9,443.5 1157.1,444.4 1160.3,442.7 1162.8,444.4 1165.2,443.5 1167.3,438.7 1169.5,445.1 1172.1,443.5 1174.0,443.5 1176.5,438.7 1178.9,441.1 1181.3,442.7 1183.7,439.5 1186.6,433.9 1188.5,440.3 1191.0,437.9 1193.4,438.7 1195.8,442.7 1198.2,446.0 1200.6,444.4 1203.0,442.7 1205.5,444.4 1207.9,446.0 1210.3,444.4 1212.7,443.5 1215.1,443.5 1217.5,442.7 1220.0,441.9 1222.4,441.1 1224.8,439.5 1227.2,443.5 1229.6,443.2 1232.0,443.5 1234.5,442.7 1236.9,443.5 1239.3,441.1 1241.7,433.6 1244.1,439.5 1246.2,433.9 1248.2,443.5 1250.6,439.5 1253.0,441.1 1255.4,441.9 1257.8,442.7 1260.2,443.2 1262.7,438.7 1265.1,443.5 1267.5,441.9 1269.9,442.7 1272.3,446.0 1274.7,438.7 1277.1,432.3 1279.6,428.2 1282.0,437.1 1284.4,436.3 1286.8,432.3 1289.2,446.8 1291.3,425.0 1293.2,433.9 1295.7,443.5 1298.1,439.5 1300.5,443.5 1302.9,441.1 1305.3,436.3 1307.8,433.9 1310.2,436.3 1312.5,440.4 1315.0,433.7 1317.5,444.6 1320.0,444.6 1322.5,441.2 1325.0,437.9 1327.5,440.4 1330.1,442.9 1332.6,443.8 1335.1,443.8 1337.6,445.4 1340.1,445.4 1341.8,429.5 1344.3,445.4 1346.8,441.2 1350.1,437.9 1352.6,443.8 1355.1,442.9 1358.5,439.6 1361.0,443.8 1363.5,442.9 1366.8,442.9 1369.3,436.2 1371.8,444.6 1375.2,442.9 1377.7,444.6 1380.2,441.2 1383.5,446.3 1386.9,443.8 1390.2,445.4 1393.6,444.6 1396.9,443.8 1399.4,442.9 1401.9,444.6 1404.5,443.8 1407.0,437.9 1409.5,443.8 1412.0,442.9 1415.3,445.4 1417.8,447.9 1420.3,444.6 1423.7,443.8 1427.0,444.6 1429.5,446.3 1432.0,442.9 1434.5,443.8 1436.7,432.1 1438.7,435.4 1441.2,424.5 1443.7,423.7 1446.2,421.2 1448.8,423.7 1451.3,425.4 1453.4,428.7 1455.4,432.1 1457.1,415.3 1459.6,427.0 1461.3,438.7 1463.5,415.3 1465.8,414.5 1468.0,429.5 1470.2,408.6 1472.5,422.0 1474.7,432.1 1476.8,438.7 1478.8,435.4 1480.8,418.7 1483.0,414.5 1485.2,425.4 1487.2,413.7 1489.7,415.3 1492.2,422.0 1494.7,428.7 1497.2,436.2 1500.2,402.8 1502.2,415.3 1504.4,428.7 1506.9,410.3 1509.3,418.7 1511.4,435.4 1513.6,445.4 1516.5,446.3 1519.0,447.1 1521.5,445.4 1524.0,432.1 1526.5,412.0 1528.7,404.5 1530.7,415.3 1533.2,420.4 1535.3,412.8 1537.3,428.7 1539.3,447.1 1541.5,434.6 1544.0,438.7 1546.5,445.4 1549.0,443.8 1551.6,442.1 1554.1,434.6 1556.6,433.7 1559.1,429.5 1561.6,423.7 1564.1,427.9 1567.4,444.6 1570.0,415.3 1572.1,432.1 1574.1,436.2 1576.6,426.2" fill="none" stroke="#0aad0a" stroke-width="2" stroke-linejoin="round"/>
<polyline points="187.4,519.0 189.8,521.4 192.2,523.8 194.7,522.2 197.1,519.8 199.5,515.8 200.8,512.5 202.7,523.8 204.7,513.3 206.8,516.5 209.2,518.2 211.6,515.8 214.0,513.3 215.9,521.4 218.0,495.6 219.6,508.5 222.4,492.7 224.5,503.7 226.9,517.4 229.3,498.0 231.4,489.2 233.3,496.4 235.8,488.8 238.2,493.2 240.6,494.8 243.0,496.4 244.9,501.2 246.5,510.9 248.6,512.5 250.7,525.4 252.7,519.8 255.1,520.6 257.2,492.4 259.4,486.8 262.0,497.2 263.9,490.4 266.4,502.9 268.4,503.7 270.4,493.2 272.8,507.7 274.4,508.5 276.5,520.6 278.8,507.7 280.9,498.8 283.3,507.7 285.7,499.6 288.1,502.9 290.5,504.5 292.9,501.2 295.4,499.6 297.8,502.1 300.2,498.0 302.6,487.6 305.0,491.6 307.4,497.2 309.9,512.5 312.3,506.1 314.7,508.5 316.3,505.3 318.4,494.8 320.3,510.1 322.7,523.0 325.1,520.6 327.6,517.4 330.0,523.8 332.4,523.8 334.8,524.6 337.2,517.4 339.6,520.6 342.1,519.8 344.5,521.4 346.1,524.6 348.5,517.4 350.9,508.5 353.3,508.5 355.0,485.6 357.4,500.4 359.8,494.0 361.9,491.6 363.8,510.1 366.2,514.1 368.6,510.9 370.3,490.8 372.7,504.5 375.1,502.9 377.5,498.0 379.1,493.7 381.2,512.5 383.5,523.8 386.4,523.0 388.8,521.4 391.2,520.6 393.6,518.2 396.0,516.5 398.9,482.4 400.9,505.3 402.8,518.2 404.9,506.9 407.3,494.0 409.7,503.7 412.1,501.2 414.6,499.6 417.0,500.4 419.4,509.3 421.5,518.2 423.4,501.2 425.8,506.9 427.4,522.2 429.9,510.1 433.1,499.6 435.5,514.1 437.6,502.1 439.9,510.1 441.9,504.5 444.0,509.3" fill="none" stroke="#0aad0a" stroke-width="2" stroke-linejoin="round"/>
<polyline points="535.6,511.7 538.0,516.5 540.5,515.8 542.9,518.2 545.3,513.3 546.9,509.3 549.3,507.7 551.8,508.5 554.2,514.9 556.6,517.4 558.2,512.5 560.6,513.3 563.0,516.5 565.4,514.9 567.9,510.9 570.0,519.0 572.2,512.5 574.3,510.1 576.7,514.9 579.1,516.5 581.5,521.4 584.0,519.8 586.4,516.5 589.6,508.5 592.0,510.1 594.4,513.3 596.9,514.9 599.3,515.8 601.7,510.1 604.1,510.9 606.5,516.5 608.9,518.2 611.4,515.8 613.8,518.2 616.2,516.5 618.6,512.5 621.0,510.9 623.4,511.7 625.9,514.9 628.3,518.2 630.7,516.5 633.1,514.1 635.5,518.2 637.6,510.1 640.4,523.0 642.8,520.6 645.2,517.4 647.3,520.6 649.2,517.4 651.6,510.9 654.0,509.3 656.5,513.3 658.9,514.9 661.3,515.8 663.7,514.9 666.1,514.1 668.5,513.3 671.0,516.5 673.4,520.6 675.8,519.8 678.2,518.2 680.6,513.3 683.0,512.5 685.5,516.5 687.5,523.8 689.5,518.2 691.9,507.2 694.3,510.1 695.9,514.1 698.3,514.9 700.8,513.3 703.2,517.4 705.6,518.2 708.0,520.6 710.4,518.2 712.8,515.8 715.3,520.6 716.9,513.3 719.3,518.2 721.7,514.1 724.1,513.3 726.5,516.5 729.8,514.9 733.0,514.1 735.4,513.3 737.8,515.8 740.2,521.4 742.3,514.9 744.3,511.7 746.7,516.5 749.1,521.4 751.5,520.6 753.9,518.2 756.3,516.5 758.8,514.9 762.0,514.1 763.9,495.3 766.0,514.1 768.4,519.8 770.8,519.0 773.2,511.7 774.9,505.3 776.8,502.9 778.9,510.1 781.3,518.2 783.7,511.7 786.1,511.7 788.6,519.8 791.0,519.0 794.0,513.3 796.4,510.9 798.0,508.5 800.5,510.9 802.9,504.5 805.3,510.9 807.7,515.8 810.1,513.3 811.8,488.4 813.8,512.5 816.1,503.7 818.2,502.1 820.3,516.5 822.2,519.8 824.6,514.9 826.7,508.5 828.7,520.6 831.1,519.0 833.5,516.5 835.9,519.0 838.3,518.2 840.8,515.8 843.2,516.5 846.4,511.7 848.8,518.2 851.2,512.5 853.6,513.3 856.0,513.3 858.5,514.1 860.9,510.1 863.3,518.2 865.7,513.3 868.1,510.1 870.5,512.5 873.0,513.3 875.4,514.1 877.8,512.5 880.2,511.7 882.6,511.7 885.0,515.8 887.5,514.1 889.9,514.9 892.3,512.5 894.7,511.7 897.1,510.1 899.5,514.1 902.0,514.9 904.4,512.5 906.8,518.2 909.2,516.5 911.6,506.9 914.0,514.9 916.5,510.9 918.9,510.9 921.3,514.9 923.7,513.3 926.1,513.3 928.5,512.5 931.0,515.8 933.4,520.6 935.8,519.0 938.2,514.1 940.6,513.3 942.2,506.1 944.6,513.3 947.1,515.8 949.5,513.3 951.9,510.1 954.3,520.6 956.7,520.6 959.1,505.3 961.6,513.3 964.0,521.4 966.4,520.6 968.8,518.2 971.2,518.2 973.6,521.4 976.9,523.8 979.3,519.8 981.7,518.2 984.9,519.0 987.3,519.0 989.8,519.8 992.2,516.5 994.6,520.6 997.0,520.6 999.4,519.0 1001.8,516.5 1004.3,516.5 1006.7,512.5 1009.1,510.9 1012.0,511.7 1014.7,516.5 1018.0,504.5 1020.4,509.3 1022.8,514.9 1025.2,519.8 1027.6,514.9 1030.0,518.2 1032.5,516.5 1034.9,517.4 1037.3,518.2 1039.7,515.8 1042.1,511.7 1044.5,514.9 1047.0,510.1 1049.0,507.7 1051.8,513.3 1054.8,513.3 1057.2,513.3 1059.7,523.0 1062.1,521.4 1064.5,519.8 1066.1,520.6 1068.5,515.8 1070.1,522.2 1072.5,520.6 1075.0,520.6 1077.4,517.4 1079.0,506.9 1081.4,506.9 1083.5,502.1 1085.8,504.5 1087.9,502.9 1090.3,513.3 1092.7,510.9 1095.1,510.1 1096.7,508.5 1098.7,483.5 1101.2,495.6 1103.5,489.2 1105.6,485.1 1107.7,506.9 1109.9,518.2 1112.8,519.0 1115.2,516.5 1118.5,507.7 1120.9,510.9 1123.3,518.2 1125.4,518.2 1127.3,507.7 1129.7,510.9 1132.2,512.5 1134.6,515.8 1137.0,513.3 1139.4,518.2 1141.8,517.4 1144.2,519.8 1146.7,520.6 1149.1,516.5 1151.5,515.8 1153.9,518.2 1156.3,516.5 1158.7,513.3 1161.2,512.5 1163.6,514.1 1166.0,514.9 1168.4,516.5 1170.8,513.3 1172.8,514.1 1174.8,506.6 1177.3,510.1 1179.7,514.9 1182.1,515.8 1184.5,515.8 1186.6,513.3 1188.2,507.2 1190.2,521.4 1192.1,508.5 1194.2,513.3 1196.6,519.8 1199.0,520.6 1201.4,520.6 1203.8,519.0 1205.9,520.6 1207.9,523.8 1210.3,520.6 1212.7,518.2 1215.1,513.3 1217.5,517.4 1220.0,515.8 1222.4,518.2 1224.8,514.1 1227.2,516.5 1229.6,520.6 1232.0,518.2 1233.7,516.5 1236.1,512.5 1238.5,513.3 1240.9,518.2 1243.3,513.3 1245.7,518.2 1248.2,513.3 1251.0,510.9 1253.0,518.2 1255.4,514.9 1257.8,520.6 1260.2,513.3 1262.3,520.6 1264.3,512.5 1266.2,518.2 1268.3,512.5 1270.7,517.4 1273.1,512.5 1275.2,514.9 1277.1,508.5 1279.6,498.0 1282.0,506.9 1283.6,517.4 1286.0,510.1 1288.1,485.1 1290.3,520.6 1292.5,508.5 1294.5,518.2 1296.5,514.9 1298.9,519.8 1301.3,524.6 1303.7,520.6 1306.1,516.5 1308.6,513.3 1311.0,516.5 1314.2,517.7 1316.3,494.2 1318.4,520.2 1320.4,521.8 1322.5,518.5 1325.0,520.2 1327.0,508.5 1329.2,517.7 1331.7,519.3 1334.2,521.0 1336.8,520.2 1339.2,515.1 1340.9,518.5 1342.6,492.6 1345.1,519.3 1347.6,515.1 1350.1,512.6 1352.6,520.2 1355.1,517.7 1357.6,519.3 1359.8,513.5 1362.2,518.5 1364.8,521.8 1367.7,519.3 1370.2,516.0 1372.7,518.5 1375.2,520.2 1377.7,518.5 1380.2,522.7 1382.7,516.8 1385.2,521.0 1387.7,513.5 1390.2,508.5 1392.8,510.1 1395.3,519.3 1397.8,518.5 1400.3,515.1 1402.8,516.8 1405.3,519.3 1407.8,518.5 1410.3,517.7 1412.8,521.8 1415.3,520.2 1418.7,517.7 1421.2,521.0 1423.7,521.8 1425.3,515.1 1427.8,516.8 1430.4,516.0 1432.9,515.1 1435.0,523.5 1437.0,515.1 1438.7,504.3 1441.2,492.6 1443.7,485.1 1446.7,480.4 1448.8,500.1 1451.3,486.7 1453.4,498.4 1455.8,503.4 1457.9,489.2 1460.1,503.4 1462.1,488.4 1464.6,487.6 1467.1,490.1 1468.8,500.1 1470.8,481.7 1473.0,486.7 1475.2,515.1 1477.2,500.9 1479.7,492.6 1482.2,490.9 1484.7,489.2 1486.9,488.4 1489.7,483.1 1491.4,495.1 1493.9,498.4 1496.4,503.4 1498.6,513.5 1500.6,493.4 1502.6,496.8 1504.8,495.9 1507.3,490.1 1509.8,493.4 1512.3,501.8 1514.3,520.2 1517.3,522.7 1520.6,522.7 1523.1,523.5 1525.7,504.3 1527.7,488.4 1529.8,477.5 1532.0,485.1 1534.3,487.6 1536.5,494.2 1538.7,511.8 1540.4,520.2 1542.4,506.0 1544.9,508.5 1547.4,513.5 1549.9,520.2 1552.4,521.8 1554.9,518.5 1557.4,481.7 1559.9,502.6 1562.4,498.4 1564.9,503.4 1567.1,510.1 1569.1,520.2 1571.1,493.4 1573.3,487.6 1575.5,511.8 1577.5,497.6" fill="none" stroke="#0aad0a" stroke-width="2" stroke-linejoin="round"/>
<polyline points="187.4,594.7 189.5,601.1 192.2,601.6 194.7,603.5 197.1,606.0 199.5,601.9 200.8,597.4 202.7,602.7 204.7,601.1 206.8,601.6 209.2,603.5 211.6,601.1 214.0,598.7 215.9,600.0 218.0,580.2 220.1,583.4 222.4,577.8 224.5,587.4 226.9,601.9 229.3,579.7 231.7,580.2 233.3,587.4 235.8,577.8 238.2,577.8 240.6,576.2 242.7,581.0 244.9,589.0 247.0,593.9 249.1,597.1 250.7,606.0 252.7,603.5 255.1,601.1 257.5,584.2 259.4,573.3 261.5,584.2 263.9,579.4 266.4,585.0 268.0,581.0 270.1,587.4 272.0,589.0 274.4,589.9 276.8,606.8 278.8,592.3 281.3,573.7 283.3,589.0 285.7,585.0 288.1,589.0 290.5,585.0 292.9,584.2 295.4,585.8 297.8,589.0 300.2,588.2 302.6,577.8 305.0,592.3 307.4,597.1 309.9,599.5 312.3,587.4 314.2,585.0 316.3,592.3 318.4,592.3 320.3,600.3 322.7,606.8 325.1,606.8 327.6,606.8 330.0,605.1 332.4,605.1 334.8,606.0 337.2,605.1 339.6,607.6 342.1,605.1 344.5,606.0 346.9,605.1 349.3,596.3 350.9,591.5 353.3,590.6 355.4,581.0 357.4,586.6 359.8,582.6 362.2,587.4 364.6,597.1 367.0,600.3 368.6,598.7 370.6,578.6 372.7,593.9 375.1,593.9 377.5,582.6 379.1,582.6 381.2,595.5 383.5,607.6 386.4,606.8 388.8,606.8 391.2,605.1 393.6,602.7 396.4,601.1 398.9,576.2 400.9,592.3 402.8,603.5 405.4,592.3 407.3,585.0 409.7,587.4 412.1,579.4 414.1,574.5 416.2,582.6 418.6,595.5 420.5,606.0 422.6,597.9 425.0,597.1 427.4,606.8 429.9,593.9 431.5,589.9 433.4,586.6 435.5,598.7 437.6,589.0 439.9,596.3 441.9,581.0 444.0,593.9" fill="none" stroke="#0aad0a" stroke-width="2" stroke-linejoin="round"/>
<polyline points="535.6,593.9 537.2,594.7 539.7,598.7 542.1,599.0 544.5,600.3 546.9,604.4 549.3,601.9 551.8,603.5 554.2,600.3 555.8,601.9 557.7,595.2 559.8,605.1 562.2,600.0 564.6,598.7 566.2,593.1 568.7,604.4 570.6,603.5 572.7,584.2 575.1,593.9 576.7,595.5 579.1,594.7 581.5,603.5 584.0,598.7 586.4,600.3 588.8,601.1 591.2,600.3 593.6,605.1 596.0,600.3 599.0,596.3 600.9,598.7 603.3,606.0 604.9,597.1 607.0,603.5 609.3,592.3 611.4,603.5 613.8,600.3 616.2,596.3 618.6,599.5 621.0,601.9 623.4,603.5 625.9,598.7 628.3,597.1 630.7,603.5 633.1,597.1 635.5,598.7 637.9,603.5 640.4,602.7 642.8,601.1 645.2,600.3 647.6,601.9 650.0,605.1 652.4,605.1 654.9,601.9 657.3,599.5 659.7,586.1 661.8,603.5 663.7,603.2 666.1,598.7 668.2,597.1 670.5,593.5 672.6,603.5 675.0,605.1 677.4,602.7 679.8,605.1 682.2,599.5 684.3,602.7 686.6,603.5 688.7,599.5 691.1,597.1 693.0,603.5 695.1,606.0 696.7,596.3 698.8,605.1 701.1,600.3 703.2,598.7 705.6,592.3 708.0,597.1 710.4,596.3 712.8,601.1 715.3,605.1 717.7,603.5 720.1,600.3 722.5,601.9 724.9,602.7 727.3,596.3 729.8,603.5 732.2,604.4 734.6,599.5 736.2,593.1 738.6,597.1 741.0,595.5 743.5,596.3 745.1,593.9 747.5,600.3 749.9,602.7 752.3,601.9 754.7,602.7 757.1,605.1 759.6,599.5 762.0,598.7 763.9,574.5 766.0,602.7 768.4,601.9 770.8,603.5 773.2,600.3 775.2,589.0 777.3,580.2 779.4,591.5 781.3,597.9 783.7,593.9 785.8,585.0 787.8,597.9 790.2,604.4 794.8,601.9 797.2,601.9 798.9,594.7 801.3,593.9 803.7,592.3 805.3,588.2 807.7,595.5 809.3,593.9 812.2,573.7 814.2,588.2 816.6,592.3 818.7,578.6 820.6,598.7 823.0,599.5 825.4,599.5 827.9,600.3 830.3,606.0 832.2,601.9 834.3,603.5 836.7,603.9 840.3,598.4 842.4,604.4 844.8,603.5 846.7,597.4 849.3,605.1 852.0,603.5 854.4,605.1 856.9,605.1 859.3,601.9 862.5,605.1 865.7,603.5 868.1,603.5 870.5,599.5 873.0,603.5 875.4,601.9 877.8,603.5 880.2,603.5 882.6,602.7 885.9,598.7 888.3,605.1 890.7,604.4 893.1,603.5 896.3,602.7 898.7,599.5 901.2,603.5 903.6,604.4 905.7,600.3 908.4,602.7 910.8,604.4 913.2,603.5 915.6,603.5 918.1,602.7 920.5,605.1 922.9,603.5 925.0,597.9 926.9,602.7 929.4,603.5 931.8,602.7 934.2,604.4 936.6,605.1 939.0,605.1 942.2,593.9 944.3,598.7 946.3,597.9 948.7,590.3 950.8,601.1 953.5,602.7 955.9,601.1 957.9,596.8 960.0,589.0 962.0,596.3 964.0,598.7 966.4,599.5 968.8,603.5 971.2,601.9 973.6,600.3 975.6,597.9 977.7,601.9 980.1,601.1 982.5,599.5 984.9,603.5 987.3,602.7 989.8,601.9 992.2,601.1 994.6,603.5 997.0,602.7 999.4,600.3 1001.8,598.7 1004.3,601.1 1006.7,602.7 1009.1,603.5 1011.5,604.4 1013.9,598.7 1016.3,593.9 1018.4,589.0 1020.7,596.3 1022.8,601.1 1025.2,602.7 1027.6,594.7 1030.0,597.1 1032.5,601.9 1034.9,605.1 1037.3,603.5 1039.7,602.7 1042.1,601.9 1044.5,601.1 1047.0,597.9 1049.0,585.0 1051.0,606.0 1053.2,603.5 1055.6,602.7 1058.0,598.7 1060.5,603.5 1062.9,601.9 1065.3,597.9 1067.7,597.1 1070.1,599.5 1072.5,602.7 1075.0,603.5 1077.4,599.5 1079.8,593.1 1081.9,590.6 1084.2,578.6 1086.2,594.7 1088.7,592.3 1091.1,591.5 1093.2,596.3 1095.4,595.5 1097.5,594.7 1099.1,580.2 1101.2,582.6 1103.5,576.2 1105.6,570.5 1108.0,587.4 1109.9,599.5 1112.8,601.1 1116.0,603.5 1119.0,593.1 1120.9,595.5 1123.3,601.9 1125.7,604.4 1128.1,604.4 1130.5,604.4 1133.0,603.5 1135.4,602.7 1137.8,603.5 1140.2,601.9 1142.6,604.4 1145.0,603.5 1147.5,605.1 1149.9,604.4 1152.3,603.5 1154.4,601.1 1156.7,603.5 1158.7,601.1 1161.2,602.7 1163.6,603.5 1166.0,604.4 1168.4,603.5 1170.8,603.5 1173.2,605.1 1175.7,602.7 1178.1,600.3 1180.5,602.7 1182.9,603.5 1185.3,600.3 1187.7,596.3 1190.2,594.7 1192.6,596.3 1195.0,595.5 1197.4,598.7 1199.8,605.1 1202.2,601.9 1203.8,595.5 1205.9,603.5 1208.7,603.5 1211.1,602.7 1213.5,602.7 1215.9,604.4 1218.3,605.1 1220.8,605.1 1223.2,603.5 1225.6,601.9 1228.0,602.7 1230.4,600.3 1232.8,603.5 1235.3,599.5 1237.7,603.5 1240.1,602.7 1242.0,597.1 1244.1,597.1 1246.2,600.3 1248.5,598.7 1251.0,594.7 1253.0,603.5 1255.4,601.1 1257.8,602.7 1260.2,602.7 1262.3,604.4 1264.3,597.9 1266.7,599.5 1269.1,601.1 1271.5,600.3 1273.9,605.1 1276.3,597.9 1278.8,581.0 1281.2,592.3 1283.6,600.3 1286.0,592.3 1288.4,576.2 1290.3,605.1 1292.5,592.3 1294.9,598.7 1297.3,605.1 1299.7,606.8 1302.1,605.1 1304.5,601.9 1307.0,590.6 1309.4,594.7 1311.8,598.7 1314.2,597.9 1316.7,582.0 1318.7,604.6 1320.9,604.6 1323.4,605.4 1325.4,599.6 1327.5,588.7 1329.7,605.4 1331.7,602.9 1334.2,605.4 1336.8,606.3 1339.2,603.8 1341.4,604.6 1343.1,572.0 1345.1,603.8 1347.6,602.9 1350.1,598.7 1351.8,595.4 1353.8,599.6 1356.0,603.8 1358.5,601.2 1360.2,598.7 1362.7,605.4 1365.2,606.3 1367.7,602.9 1370.5,597.1 1372.7,604.6 1375.2,604.6 1377.7,606.3 1380.2,605.4 1382.2,597.1 1384.4,605.4 1386.9,604.6 1389.4,604.6 1391.9,603.8 1394.4,602.9 1396.9,602.1 1399.4,602.9 1401.9,603.8 1404.5,603.8 1407.0,602.1 1409.5,598.7 1411.1,597.1 1412.8,605.4 1415.3,603.8 1417.8,603.8 1420.3,604.6 1422.8,603.8 1425.3,602.9 1427.8,602.9 1430.4,603.8 1432.9,603.8 1435.0,605.4 1437.0,587.9 1439.0,587.0 1441.2,582.0 1442.9,563.6 1445.4,563.6 1447.4,564.0 1449.6,580.4 1451.8,573.7 1453.8,583.7 1455.8,576.2 1457.9,567.0 1460.1,570.3 1462.5,597.1 1464.6,569.5 1466.8,568.6 1468.8,582.0 1470.8,574.5 1473.0,582.0 1475.5,600.4 1477.2,598.7 1479.2,576.2 1481.3,567.0 1483.8,577.0 1486.4,579.5 1488.9,576.2 1490.9,571.1 1493.0,575.3 1495.6,580.4 1497.6,585.4 1499.2,600.4 1501.9,565.3 1503.9,569.5 1505.9,582.0 1508.1,578.7 1510.3,576.2 1512.6,583.7 1514.8,607.9 1517.3,607.1 1519.8,606.3 1522.3,605.4 1524.8,585.4 1527.3,572.0 1529.8,560.3 1532.0,575.3 1534.3,578.7 1536.5,572.0 1538.7,585.4 1540.7,606.3 1543.2,592.9 1545.4,593.7 1547.4,606.3 1549.9,605.4 1552.4,604.6 1554.9,593.7 1557.4,579.5 1559.4,570.3 1561.6,575.3 1564.1,577.8 1566.6,595.4 1568.8,606.3 1570.8,577.0 1572.8,578.7 1575.0,597.1 1577.5,584.5" fill="none" stroke="#0aad0a" stroke-width="2" stroke-linejoin="round"/>
<polyline points="187.4,673.5 189.8,676.7 192.2,675.1 194.7,674.3 197.1,678.3 199.5,677.5 201.9,675.9 204.3,676.7 206.8,678.3 209.2,675.1 211.6,673.5 214.0,678.3 215.9,671.9 218.0,665.4 219.6,669.5 222.1,667.9 224.5,664.6 226.9,677.5 229.3,667.0 231.4,664.1 233.3,674.3 235.8,667.4 238.2,667.0 239.8,664.6 241.7,661.4 244.3,674.3 246.2,677.5 248.6,675.1 250.7,671.9 252.7,675.9 255.1,676.7 257.5,671.9 259.9,669.5 262.3,671.1 264.7,666.2 267.2,664.6 269.6,668.7 272.0,678.3 274.4,675.9 276.8,675.9 279.2,667.9 281.7,666.2 284.1,667.0 286.2,669.5 288.9,672.7 291.3,668.7 293.7,666.7 296.2,668.7 298.6,673.5 301.0,674.3 302.6,664.6 305.0,665.4 307.1,671.1 309.0,679.9 311.5,673.5 313.9,675.9 316.3,672.7 318.7,675.1 321.1,679.9 323.5,681.5 326.0,683.2 328.4,670.3 330.8,679.1 333.2,677.5 335.6,681.5 338.0,678.3 340.5,676.7 342.9,676.7 344.5,672.7 346.9,678.3 349.3,670.3 351.7,668.7 353.3,671.1 355.0,664.6 357.4,668.7 359.8,668.7 362.2,669.5 364.6,676.7 367.8,677.5 370.3,670.3 372.7,672.7 374.8,671.9 376.7,663.8 379.1,670.3 381.5,678.3 384.8,683.2 387.7,682.4 389.6,678.3 392.0,682.4 394.4,677.5 396.8,673.5 398.9,665.4 400.9,669.5 403.3,675.1 404.9,671.9 407.3,668.7 409.7,670.0 412.1,669.5 414.6,671.1 417.0,672.7 418.6,671.1 420.5,681.5 423.1,673.5 425.0,679.9 427.4,680.8 429.9,676.7 431.5,671.1 433.9,671.9 436.0,676.7 437.9,672.7 440.3,673.5 441.9,666.7 444.0,673.2 446.0,671.6" fill="none" stroke="#0aad0a" stroke-width="2" stroke-linejoin="round"/>
<polyline points="535.6,659.0 538.0,663.8 540.5,665.4 542.9,670.3 545.3,668.7 546.9,661.9 549.3,667.0 551.8,666.2 553.4,661.4 555.8,663.0 558.2,663.0 560.6,665.4 563.0,668.7 565.4,672.7 568.7,671.1 571.1,667.0 572.7,661.4 575.1,668.7 577.0,665.4 579.1,668.7 581.2,673.2 583.2,669.5 585.6,674.3 587.7,671.1 589.9,664.6 592.0,659.8 594.4,660.6 596.4,663.8 598.5,657.1 600.9,668.7 603.3,667.9 605.7,666.2 607.3,670.3 609.7,664.6 612.2,665.4 614.6,667.0 616.2,660.3 618.6,668.7 621.0,667.9 622.6,666.2 625.0,668.7 627.5,668.7 629.1,664.6 630.7,672.7 633.1,671.1 635.5,672.7 637.1,665.8 639.5,674.3 641.5,677.5 643.6,673.5 646.0,668.7 648.4,676.7 650.8,668.7 653.2,666.2 655.6,661.4 658.1,659.8 659.7,655.0 662.1,658.2 663.7,667.9 666.9,667.9 668.5,667.0 670.5,660.6 672.6,675.9 675.0,675.1 677.4,675.1 679.0,664.6 681.1,663.8 683.4,657.4 685.5,663.8 687.5,675.1 690.3,668.7 692.7,667.9 695.1,667.9 697.5,666.2 700.0,671.1 702.4,666.2 704.8,660.6 706.9,675.1 709.1,667.0 711.2,664.6 713.6,673.5 716.1,671.1 717.7,675.1 720.1,670.3 722.5,668.7 724.9,667.0 726.9,663.0 729.8,667.0 732.2,668.7 734.3,672.2 736.5,666.2 738.6,671.9 741.0,667.9 743.0,666.2 745.1,668.7 747.5,671.1 749.9,672.7 752.3,675.9 754.7,673.5 757.1,673.5 758.8,667.0 761.2,667.0 763.6,653.4 766.0,670.3 768.4,666.2 770.8,667.9 773.2,663.8 775.2,659.8 777.3,661.4 779.7,664.6 781.6,667.9 783.7,662.2 786.1,664.6 788.6,663.8 790.6,673.5 794.8,666.2 797.2,665.4 798.9,662.2 801.0,664.6 802.9,663.0 805.3,658.2 807.4,669.5 809.6,672.7 811.8,662.2 814.2,667.0 816.1,663.8 818.7,659.8 820.6,671.1 823.0,666.2 825.1,669.5 827.0,653.4 828.7,669.5 831.1,670.0 833.5,670.3 835.9,672.7 838.3,672.2 840.8,671.1 843.2,668.7 845.6,667.9 848.0,670.3 850.4,664.6 852.8,667.0 855.2,673.5 857.7,663.0 859.6,659.3 861.7,662.2 864.1,663.8 866.5,667.9 868.9,666.2 871.4,664.6 873.8,665.4 876.2,666.2 877.8,664.6 880.2,668.7 882.6,671.9 885.0,675.1 886.3,668.7 888.3,673.5 890.7,669.5 893.1,667.9 895.5,667.9 897.9,668.7 900.4,667.0 902.8,671.1 905.2,671.9 907.6,671.1 910.0,669.5 912.4,667.9 914.9,667.0 917.3,663.0 918.5,661.4 920.5,670.3 922.9,663.8 925.3,668.7 927.2,662.2 929.4,661.9 931.8,671.1 934.2,667.0 936.6,666.2 939.0,667.9 942.2,654.2 944.3,662.2 946.3,659.8 948.7,656.6 951.1,666.2 953.5,668.7 955.9,667.9 958.3,663.8 960.8,664.6 963.2,668.7 965.6,670.3 968.0,671.1 970.4,670.3 972.8,669.5 975.3,667.9 976.9,679.1 979.3,677.5 981.7,675.9 984.1,673.5 986.2,674.3 988.1,678.3 990.6,668.7 992.2,663.0 994.3,673.5 996.2,663.8 998.6,667.0 1001.0,667.9 1003.5,665.4 1005.9,670.3 1007.5,672.7 1009.9,659.8 1012.3,666.2 1014.7,666.2 1016.8,665.1 1018.8,656.6 1021.2,659.0 1023.6,671.1 1026.0,667.4 1028.4,667.9 1030.8,668.7 1033.2,671.9 1035.7,670.3 1038.1,668.7 1040.5,671.1 1042.9,667.0 1045.3,663.8 1047.8,663.0 1050.2,670.3 1054.8,663.0 1057.2,669.5 1059.7,670.3 1062.1,673.5 1063.7,671.9 1066.1,674.3 1068.0,668.7 1070.1,675.9 1072.5,679.9 1074.2,671.1 1076.6,664.6 1079.0,659.8 1081.4,659.8 1083.5,657.4 1085.4,663.0 1087.4,665.4 1089.5,666.2 1091.9,668.7 1094.3,665.4 1096.7,659.0 1099.1,659.8 1101.2,659.0 1103.5,654.2 1105.6,649.3 1107.2,662.2 1108.8,670.3 1111.2,667.9 1113.6,667.9 1116.0,671.1 1118.5,663.8 1120.9,663.8 1122.8,662.2 1124.9,665.4 1127.3,666.2 1129.7,668.7 1131.8,663.8 1133.8,664.6 1136.2,666.2 1138.6,665.4 1140.2,663.8 1142.6,667.9 1145.0,672.7 1146.7,678.3 1149.1,671.1 1151.5,667.0 1153.9,667.0 1156.3,670.3 1158.7,670.3 1161.2,671.1 1162.8,666.2 1164.7,667.9 1166.8,671.1 1169.2,667.0 1171.6,667.0 1173.7,671.1 1175.7,664.6 1177.3,658.2 1179.7,664.6 1181.8,667.9 1183.7,666.2 1186.1,667.0 1188.2,660.6 1190.5,660.6 1192.6,662.2 1195.0,663.8 1197.4,673.5 1199.5,677.5 1201.4,669.5 1203.8,671.9 1205.9,675.9 1207.9,673.5 1209.8,669.5 1211.9,671.1 1214.3,671.1 1216.2,667.0 1218.3,672.7 1220.8,671.1 1223.2,668.7 1225.6,671.1 1228.0,673.5 1230.4,669.5 1232.8,666.2 1235.3,667.0 1237.7,668.7 1240.1,667.0 1242.5,664.6 1245.7,664.6 1248.5,668.7 1250.6,665.4 1252.7,671.1 1254.9,671.9 1257.8,678.3 1260.2,674.3 1262.7,671.9 1264.3,666.2 1266.7,667.0 1269.1,666.2 1271.5,668.7 1273.1,667.9 1275.5,674.3 1277.5,667.9 1279.6,659.8 1281.7,668.7 1283.6,667.0 1286.0,664.6 1288.1,661.4 1290.0,675.1 1292.0,663.8 1294.5,670.3 1296.5,672.7 1298.9,674.3 1301.3,676.7 1303.7,671.9 1306.1,667.9 1308.6,668.7 1311.0,671.9 1312.5,672.6 1314.2,672.6 1316.3,664.3 1318.4,675.1 1320.4,679.3 1322.5,676.8 1325.0,669.3 1327.0,663.4 1329.2,671.8 1331.7,671.0 1333.4,665.9 1335.9,672.6 1338.1,668.5 1340.1,669.3 1342.6,655.1 1344.8,668.5 1346.4,675.1 1348.8,665.9 1351.0,670.1 1353.5,676.8 1355.5,680.1 1357.6,679.3 1359.8,673.5 1362.2,676.8 1364.3,671.0 1366.5,678.5 1368.5,672.6 1370.5,671.8 1372.7,676.8 1375.2,677.6 1377.7,674.3 1380.2,674.3 1382.7,675.1 1385.2,674.3 1387.7,667.6 1390.2,665.1 1392.8,665.1 1395.3,669.3 1397.8,666.8 1399.9,671.0 1402.3,668.5 1404.5,671.0 1407.0,666.8 1409.5,670.1 1412.0,672.6 1414.5,669.3 1417.0,671.0 1419.5,669.8 1422.0,672.6 1424.5,671.8 1427.0,670.1 1429.5,662.6 1431.7,663.4 1433.7,665.9 1435.7,664.3 1437.9,653.4 1440.4,660.9 1442.9,657.6 1445.1,650.9 1447.1,654.2 1449.1,659.2 1451.3,657.6 1453.4,664.3 1455.4,665.1 1457.4,658.4 1459.6,652.6 1461.8,671.8 1463.8,664.3 1466.3,662.6 1468.8,662.6 1470.8,659.2 1473.0,661.8 1475.2,674.3 1477.2,667.6 1479.2,658.4 1481.3,654.2 1483.5,657.6 1485.5,662.6 1487.5,663.4 1489.7,657.6 1492.2,657.6 1494.7,660.9 1497.2,666.8 1499.2,675.1 1501.4,660.1 1503.9,660.9 1505.9,664.3 1508.1,661.8 1510.6,664.3 1512.6,669.3 1514.3,683.5 1516.5,679.3 1519.0,679.3 1521.5,678.5 1524.0,676.8 1525.7,665.1 1527.3,656.8 1529.8,655.9 1532.0,653.4 1534.3,662.6 1536.5,656.8 1538.7,670.1 1540.7,676.0 1543.2,671.0 1545.4,675.1 1547.4,679.3 1549.4,675.1 1551.6,672.6 1554.1,665.9 1556.1,662.6 1557.7,649.2 1559.9,661.8 1562.4,660.9 1564.9,663.4 1567.4,671.8 1569.1,679.3 1570.8,665.9 1573.3,665.9 1575.5,671.8 1577.5,664.3" fill="none" stroke="#0aad0a" stroke-width="2" stroke-linejoin="round"/>
<polyline points="187.4,75.4 190.6,75.1 193.1,81.1 195.9,85.4 198.7,79.5 201.9,71.4 204.3,73.8 207.6,78.7 210.0,76.2 213.2,74.6 215.6,73.0 218.0,74.2 220.1,73.0 222.4,81.9 226.1,78.7 229.3,74.6 231.7,76.2 234.1,80.3 236.6,82.2 239.8,83.8 242.2,74.6 243.8,77.9 246.2,75.4 248.6,72.2 251.1,77.0 254.3,77.4 256.7,81.1 259.1,79.5 261.5,83.5 263.9,86.7 266.4,85.1 268.8,89.1 270.4,91.5 272.3,86.7 274.4,97.2 276.0,91.5 278.4,95.6 281.7,97.2 284.1,98.3 286.5,99.6 289.7,98.3 292.9,100.4 296.2,101.2 298.6,101.2 301.0,88.3 302.6,76.2 305.0,73.8 307.4,72.2 309.9,76.2 312.3,75.8 313.9,76.2 316.3,73.8 317.9,82.7 320.3,72.2 322.7,74.6 325.1,79.5 328.4,73.0 330.8,74.6 334.0,73.8 337.2,74.6 340.5,73.8 342.1,73.0 343.7,80.3 345.3,70.6 346.9,74.6 348.5,86.7 350.1,73.0 353.3,73.0 355.8,80.3 358.2,85.1 361.4,76.2 364.6,83.5 367.0,81.9 369.4,82.7 371.9,81.1 374.3,77.9 377.5,76.2 379.1,76.2 381.5,83.5 384.8,81.1 388.0,85.1 391.2,75.4 394.4,89.1 396.0,80.3 399.3,78.7 401.7,78.7 404.9,74.6 407.3,76.2 409.7,89.9 412.1,83.5 413.8,90.8 417.0,91.5 418.6,86.7 420.2,91.5 422.6,81.1 425.0,77.9 426.6,71.4 429.1,81.9 431.5,82.7 434.7,95.6 437.9,88.3 441.1,85.9 442.8,81.9 445.2,81.1" fill="none" stroke="#ff00ff" stroke-width="2" stroke-linejoin="round"/>
<polyline points="537.2,69.8 539.7,60.9 542.1,77.0 544.5,83.5 546.9,80.3 549.3,81.9 550.9,77.9 552.9,60.6 555.0,73.0 556.6,69.8 559.0,91.5 561.4,93.2 563.8,77.0 565.8,86.7 567.9,79.5 570.3,81.1 572.7,82.7 575.1,77.9 576.7,72.2 578.6,82.2 581.2,67.7 583.5,83.5 585.6,77.9 588.0,71.4 589.9,76.2 592.0,79.5 594.1,79.5 596.4,94.8 598.5,91.5 600.9,69.8 603.3,80.3 604.9,86.7 607.3,77.0 609.7,73.8 611.4,80.3 613.8,87.5 616.2,78.7 618.3,54.8 620.2,75.4 622.6,88.3 625.0,84.3 628.3,85.9 630.7,80.3 633.1,76.2 635.5,66.6 637.6,83.5 639.5,85.1 642.0,74.6 644.4,79.5 646.8,75.4 649.2,70.6 650.8,69.0 653.2,79.5 655.6,80.3 658.1,74.6 659.7,79.5 661.3,74.6 663.4,85.1 665.3,78.7 668.2,75.8 670.1,85.1 672.6,81.9 674.7,81.1 676.9,89.9 679.0,77.9 681.4,69.8 683.0,66.6 685.5,73.8 687.9,88.3 690.3,77.0 692.7,82.7 695.1,77.9 697.5,74.6 700.0,85.9 702.4,87.5 704.8,85.9 707.2,91.5 709.6,97.2 712.0,91.5 714.5,89.9 716.9,91.5 718.5,86.7 720.9,89.1 723.3,91.5 725.2,92.4 727.3,65.8 729.8,65.8 732.2,88.3 734.6,89.9 737.0,87.5 739.4,86.7 741.8,73.0 744.3,74.6 746.7,81.1 749.1,86.7 751.5,74.6 753.9,69.0 755.5,67.4 757.5,75.4 759.6,86.7 762.0,69.0 764.4,71.4 766.8,70.6 769.2,74.6 771.6,78.7 774.1,77.0 776.5,84.3 779.7,88.3 782.1,85.9 784.5,81.9 786.1,69.0 788.6,77.9 791.0,79.5 794.0,72.2 796.4,62.5 798.9,58.5 801.3,65.8 804.5,63.4 807.4,61.3 809.3,69.0 811.8,76.2 814.2,71.4 815.8,82.7 818.2,85.1 820.6,86.7 823.0,84.3 824.6,69.8 827.0,85.9 829.5,81.1 831.9,79.5 834.3,74.6 835.9,69.8 838.3,72.2 839.9,70.6 842.4,87.5 844.0,83.5 846.4,91.5 848.8,86.7 852.8,85.9 855.2,68.2 857.7,73.8 859.6,60.9 861.7,71.4 864.1,73.8 866.5,70.6 869.7,73.0 872.2,65.0 874.6,79.5 877.0,78.7 879.4,77.9 881.8,78.7 884.2,78.7 886.7,83.5 888.0,92.8 889.9,77.9 893.1,80.3 896.3,81.9 898.7,85.1 901.2,89.9 903.6,81.1 905.7,68.7 907.9,76.2 910.0,74.6 912.1,63.8 914.0,76.2 916.5,74.6 918.5,73.0 920.5,82.7 922.9,81.1 925.3,73.8 927.2,67.4 929.4,75.4 931.8,72.2 934.2,74.6 936.6,76.2 939.0,68.2 941.4,77.0 943.9,69.0 946.3,60.9 948.7,77.9 950.8,64.2 953.0,70.6 955.1,72.2 957.5,63.8 960.0,72.2 962.4,69.8 964.8,72.2 966.9,66.6 968.8,76.2 970.4,70.6 972.8,76.2 975.3,81.1 978.5,69.0 980.9,71.4 983.3,74.6 985.7,78.7 988.1,83.5 990.6,69.0 992.2,89.9 994.6,94.8 996.5,96.4 998.6,87.5 1001.0,74.6 1003.5,73.8 1005.9,73.8 1008.3,70.6 1010.4,68.2 1012.3,76.2 1014.7,69.8 1017.1,66.6 1020.4,60.1 1022.8,65.8 1025.2,62.5 1027.6,64.2 1030.0,73.0 1032.5,72.2 1034.9,77.0 1037.3,71.4 1039.7,70.6 1042.1,74.6 1044.5,81.1 1047.0,77.0 1049.4,77.9 1051.0,83.5 1054.8,88.3 1057.2,73.0 1059.7,89.1 1062.1,78.7 1064.5,82.7 1066.1,82.2 1068.5,68.2 1070.9,67.4 1073.4,64.2 1076.6,61.8 1079.8,63.4 1082.2,65.8 1084.6,73.0 1087.0,78.7 1089.5,84.3 1092.7,84.3 1095.1,77.0 1096.7,69.0 1099.1,80.3 1101.5,87.5 1104.8,91.5 1107.2,92.4 1109.6,86.7 1112.0,77.0 1114.4,72.2 1116.8,68.2 1119.3,70.6 1121.7,72.2 1124.1,68.2 1126.5,70.6 1129.7,72.2 1133.0,72.2 1135.4,74.6 1137.8,77.0 1140.2,77.0 1142.2,63.4 1144.2,68.2 1146.7,73.8 1148.3,73.0 1150.7,80.3 1153.1,81.1 1155.5,85.9 1157.1,79.5 1159.5,84.3 1162.0,88.3 1164.4,78.7 1166.0,68.2 1168.4,72.2 1170.8,79.5 1173.2,76.2 1175.7,69.8 1178.1,73.8 1180.5,81.9 1182.9,89.9 1185.3,87.5 1187.7,89.1 1190.2,94.0 1194.2,98.8 1196.6,100.4 1199.0,99.6 1201.4,98.8 1203.8,80.3 1206.3,73.8 1208.7,73.8 1211.1,74.6 1213.5,83.5 1215.9,77.9 1219.2,80.3 1222.4,83.5 1224.8,77.0 1227.2,76.2 1229.6,83.5 1232.8,78.7 1236.1,81.1 1239.3,82.7 1242.5,69.0 1244.9,73.0 1247.3,79.5 1249.8,73.0 1251.4,70.6 1253.3,77.0 1255.9,76.2 1258.1,86.7 1260.2,85.1 1262.7,78.7 1265.1,78.7 1267.5,80.3 1269.9,77.9 1272.3,81.1 1274.7,78.7 1277.1,88.3 1279.6,94.8 1282.0,96.4 1283.9,94.0 1286.0,100.4 1288.4,100.4 1291.6,101.2 1294.5,102.0 1296.5,93.2 1298.9,76.2 1301.3,69.8 1303.2,65.0 1306.1,66.6 1308.6,70.6 1310.2,87.5 1314.2,92.7 1315.8,70.1 1318.4,76.8 1320.9,80.1 1323.4,78.5 1326.7,81.0 1329.2,69.2 1331.7,72.6 1335.1,74.3 1337.6,68.4 1340.1,65.1 1342.6,70.1 1345.1,80.1 1347.6,71.8 1350.1,68.4 1352.6,68.4 1355.1,66.8 1357.6,71.8 1360.2,72.6 1362.7,79.3 1365.2,70.9 1368.5,70.1 1370.2,86.0 1372.7,85.1 1375.2,80.1 1377.7,84.3 1380.2,76.8 1383.5,71.8 1386.1,79.3 1388.6,83.5 1391.1,70.9 1393.6,80.1 1396.1,81.8 1398.6,85.1 1401.1,92.7 1403.3,93.5 1405.3,77.6 1407.8,71.8 1410.3,87.6 1412.8,91.8 1414.5,98.5 1417.8,100.2 1420.3,100.2 1423.7,99.8 1427.0,100.5 1429.5,100.5 1432.0,98.5 1434.5,100.2 1437.0,100.2 1439.6,90.2 1442.4,72.6 1444.6,76.8 1446.7,83.8 1448.8,76.8 1451.3,79.3 1453.4,90.2 1455.4,84.3 1457.4,95.2 1459.6,86.8 1462.1,87.6 1464.6,96.8 1467.1,99.3 1469.7,100.2 1472.2,100.2 1475.2,86.0 1477.2,93.5 1479.7,97.7 1481.8,88.5 1483.8,75.9 1485.9,88.5 1488.0,97.7 1490.5,96.8 1493.0,99.3 1495.2,100.2 1497.2,86.8 1498.9,74.3 1501.4,75.1 1503.9,72.6 1506.9,72.6 1509.8,80.1 1512.3,72.6 1514.3,68.4 1516.5,80.1 1519.0,78.5 1521.5,81.8 1524.0,75.9 1527.3,68.4 1530.7,71.8 1534.0,76.8 1536.5,72.6 1538.2,68.4 1540.7,80.1 1542.7,81.8 1544.9,89.3 1547.4,75.1 1549.0,84.3 1551.6,83.5 1554.1,81.0 1555.7,79.3 1558.2,85.1 1559.9,89.3 1561.6,72.6 1564.1,68.4 1566.6,67.6 1568.8,81.0 1570.8,69.2 1573.3,76.8 1575.8,72.6 1577.5,72.6" fill="none" stroke="#ff00ff" stroke-width="2" stroke-linejoin="round"/>
<polyline points="187.4,212.6 189.8,215.8 192.2,219.0 193.9,220.6 196.3,217.1 198.7,219.0 201.1,219.8 202.7,224.6 205.1,217.1 206.8,223.0 209.2,218.2 211.6,220.6 214.0,223.0 215.9,226.2 218.0,219.0 220.4,221.4 222.4,221.4 224.5,227.1 228.5,226.2 230.9,219.0 233.3,212.6 235.8,210.6 238.2,210.9 240.1,210.6 242.2,216.6 244.6,219.3 247.0,215.8 249.4,213.4 251.1,214.2 253.5,209.3 255.9,206.9 259.1,206.1 262.3,205.8 265.6,206.1 268.8,205.3 270.4,205.3 272.8,208.0 274.4,206.1 276.8,207.4 280.1,205.8 283.3,205.3 286.5,205.6 288.9,205.3 291.3,205.8 294.5,204.8 297.8,204.8 299.7,204.5 301.8,206.1 302.6,212.6 305.0,207.7 307.4,208.5 309.9,206.9 312.3,207.7 314.7,210.1 317.1,212.6 320.3,215.4 322.7,210.9 324.4,210.9 326.4,216.6 328.4,216.6 330.0,215.8 331.9,218.2 334.0,214.2 335.6,208.5 338.0,206.9 340.5,209.0 343.7,208.5 345.8,218.2 348.0,226.7 350.1,218.2 352.5,214.2 355.0,210.9 357.1,216.6 359.0,213.4 361.4,210.1 363.8,209.3 367.0,209.7 369.4,219.8 371.9,215.8 374.3,215.0 376.7,215.8 379.1,219.8 381.2,223.8 383.1,221.9 385.6,224.6 388.0,224.2 390.4,223.8 392.0,219.0 394.1,232.7 396.0,221.4 398.4,213.8 400.9,222.2 403.3,234.3 405.7,224.6 407.6,219.8 409.7,231.9 411.8,227.1 413.8,237.5 416.2,231.1 418.6,232.7 421.0,228.7 423.4,231.1 425.8,224.6 428.2,216.6 430.2,215.4 433.1,223.8 435.5,230.3 437.9,225.4 440.3,225.8 442.8,223.8 444.4,221.9 446.0,225.4" fill="none" stroke="#ff00ff" stroke-width="2" stroke-linejoin="round"/>
<polyline points="535.6,237.0 538.0,235.4 540.5,234.8 542.1,235.9 544.5,229.5 546.9,226.7 550.1,226.2 552.5,227.9 555.0,230.6 557.4,227.9 559.8,225.1 562.2,223.0 563.8,223.5 567.0,219.8 570.3,220.6 573.5,223.0 576.7,225.1 579.1,219.0 581.2,223.8 583.2,215.8 585.6,213.8 588.0,219.8 590.4,221.9 592.8,220.3 595.2,219.3 596.9,213.8 599.0,219.8 601.7,217.7 604.9,213.8 607.3,217.7 609.7,217.4 612.2,215.0 614.6,211.3 617.0,212.2 619.4,216.1 621.8,215.0 623.4,211.3 626.7,209.7 629.1,210.6 631.2,215.4 633.9,216.1 636.3,216.6 637.9,215.0 639.9,219.0 642.0,215.4 644.4,218.2 646.3,220.3 648.4,215.4 650.8,216.1 654.0,217.1 657.3,215.0 659.7,214.5 662.1,215.4 664.0,214.2 666.1,217.4 668.2,219.3 670.5,216.6 672.6,220.6 675.0,222.2 677.4,219.8 680.6,218.2 683.0,217.7 685.5,218.7 687.9,223.0 690.3,218.2 693.5,215.4 695.9,222.2 697.9,219.8 700.0,222.2 702.0,219.8 704.0,222.2 706.4,220.9 708.5,227.1 710.8,227.4 713.6,228.7 716.1,223.0 718.5,224.2 720.9,220.3 723.3,230.3 724.9,232.2 726.9,220.6 729.0,226.7 732.2,223.0 734.6,218.7 737.0,213.8 739.4,212.9 742.6,212.6 745.9,211.3 748.3,211.8 750.7,216.6 753.1,215.8 755.5,215.0 758.8,216.6 762.0,219.3 765.2,217.7 767.6,216.6 770.8,214.2 773.2,217.7 775.7,222.2 778.1,220.9 779.7,215.4 782.9,216.1 785.3,213.8 787.8,217.4 791.0,222.2 794.0,223.8 796.4,217.4 799.7,215.0 802.9,213.4 806.1,214.2 809.3,214.5 811.8,212.9 814.2,215.0 816.6,219.8 819.8,221.4 823.0,224.6 824.6,217.4 826.7,215.8 828.7,219.8 831.1,221.9 833.5,220.6 835.9,218.2 838.0,223.0 839.9,218.7 842.4,220.9 844.8,223.8 847.2,226.2 849.6,229.5 852.0,226.2 854.4,223.8 856.9,223.0 859.3,220.3 861.7,223.0 864.1,221.9 866.5,223.0 868.9,227.9 871.4,231.1 873.8,232.7 876.2,233.8 878.6,231.1 881.0,225.4 883.1,232.7 885.0,231.9 887.5,228.7 889.9,221.4 892.3,229.5 894.7,231.1 897.1,229.5 899.5,231.1 901.2,234.3 902.8,236.4 905.2,233.5 907.6,230.3 909.5,228.7 911.6,219.0 914.0,223.8 916.5,227.1 918.9,227.4 920.8,222.2 923.7,224.6 926.1,227.9 928.5,229.5 931.0,227.9 933.4,223.8 935.8,228.7 937.9,231.9 939.8,228.7 943.0,226.2 944.6,223.8 946.6,218.2 948.7,223.8 951.1,218.2 953.5,224.6 955.9,231.1 958.3,233.2 960.8,233.5 963.2,235.1 965.6,235.9 968.8,232.7 971.2,231.6 973.6,232.7 976.1,227.1 978.5,220.6 980.9,215.8 983.3,218.2 985.7,213.4 989.0,210.9 992.2,209.7 994.6,208.5 997.0,208.0 999.4,209.3 1000.2,222.2 1001.0,231.1 1003.5,233.5 1005.9,233.8 1008.3,230.3 1009.9,227.4 1012.3,229.5 1014.7,223.8 1017.1,221.4 1019.6,221.9 1022.0,221.9 1024.4,222.2 1026.8,219.0 1029.2,217.7 1031.3,220.9 1033.2,218.2 1035.7,216.6 1038.1,218.7 1041.3,217.7 1043.7,216.6 1046.5,215.8 1048.6,218.7 1051.0,224.2 1054.8,225.1 1057.2,226.7 1059.7,228.3 1062.9,227.4 1065.3,226.2 1067.7,225.8 1070.1,219.8 1072.5,222.2 1075.0,224.6 1076.6,216.6 1079.8,215.0 1083.0,212.9 1085.4,210.1 1088.7,209.0 1091.9,207.4 1094.3,208.5 1096.7,211.3 1099.1,208.5 1102.4,206.9 1105.6,206.1 1108.0,206.1 1110.4,208.5 1112.8,211.8 1115.2,213.4 1117.7,214.5 1120.1,213.4 1122.5,212.6 1125.7,212.6 1128.9,212.9 1131.3,211.8 1133.8,210.6 1136.2,211.8 1138.6,210.1 1140.2,210.6 1142.6,213.8 1145.0,212.9 1146.7,210.9 1149.1,211.3 1152.3,209.7 1155.5,208.5 1158.7,209.0 1162.0,208.5 1165.2,209.3 1168.4,210.1 1170.8,209.0 1173.2,210.1 1175.7,211.3 1178.1,209.7 1181.3,207.7 1183.7,209.0 1186.9,207.7 1190.2,206.9 1193.4,205.8 1196.6,204.8 1199.8,204.2 1202.2,207.7 1204.7,209.3 1207.9,210.1 1210.3,210.9 1213.5,208.5 1216.7,208.5 1220.0,208.5 1223.2,208.0 1226.4,210.1 1229.6,209.0 1232.0,210.1 1235.3,210.1 1238.5,210.1 1240.9,210.6 1243.3,211.8 1246.5,210.9 1249.8,211.8 1253.0,211.8 1256.2,210.1 1259.4,209.0 1262.7,209.0 1265.9,210.1 1269.1,210.1 1272.3,210.1 1275.5,209.7 1278.8,207.4 1282.0,206.1 1285.2,205.8 1288.4,205.3 1291.6,204.8 1294.9,204.8 1297.3,206.9 1299.7,211.8 1301.3,210.1 1302.9,216.6 1306.1,217.7 1308.6,219.3 1311.0,224.6 1314.2,229.3 1315.8,224.3 1318.4,225.9 1320.9,227.6 1324.2,227.1 1326.7,225.9 1329.2,226.8 1331.7,231.0 1334.2,230.1 1337.6,225.1 1340.1,220.9 1342.6,223.4 1345.1,225.9 1347.6,225.1 1349.3,225.9 1351.8,218.4 1354.3,215.9 1356.8,218.4 1359.3,222.6 1361.8,226.8 1364.3,225.9 1366.0,223.4 1368.5,219.2 1371.0,228.4 1373.5,228.8 1376.0,229.3 1378.5,230.1 1380.2,225.9 1381.9,231.0 1383.5,224.3 1386.1,231.8 1388.6,231.0 1391.1,222.6 1393.6,218.4 1396.1,214.2 1398.6,212.1 1401.1,209.2 1403.6,208.7 1406.1,210.9 1407.8,213.4 1410.3,211.4 1412.8,210.1 1415.3,207.6 1418.7,205.9 1422.0,205.4 1425.3,205.4 1428.7,204.7 1432.0,205.4 1434.5,205.9 1437.0,204.7 1439.6,205.9 1442.1,208.4 1444.6,210.9 1447.1,209.2 1450.4,210.1 1452.9,207.6 1455.4,209.2 1457.9,208.7 1460.5,210.1 1463.0,208.4 1466.3,206.4 1469.7,205.9 1472.2,206.7 1474.7,209.7 1477.2,208.4 1479.7,207.6 1482.2,209.7 1483.8,213.1 1486.4,210.1 1488.9,207.6 1492.2,206.7 1494.7,205.9 1497.2,206.7 1498.9,211.7 1501.4,212.1 1503.9,212.6 1505.6,219.2 1508.1,228.4 1510.6,229.3 1513.1,224.3 1515.3,224.3 1517.3,226.8 1519.8,228.1 1522.3,226.8 1525.7,225.4 1529.0,224.3 1531.5,225.9 1534.0,229.3 1536.5,232.6 1539.0,230.1 1540.7,228.4 1543.2,232.6 1545.7,234.3 1548.2,231.8 1550.7,234.3 1553.2,231.8 1555.7,230.1 1558.2,232.6 1560.8,233.5 1563.3,231.0 1564.9,227.6 1566.6,232.6 1568.8,234.3 1570.8,230.1 1573.3,228.1 1575.8,225.9 1577.5,225.1" fill="none" stroke="#ff00ff" stroke-width="2" stroke-linejoin="round"/>
<polyline points="187.4,356.6 189.8,362.2 191.8,367.0 193.9,359.0 196.3,363.8 198.7,361.4 201.1,363.8 202.7,366.2 204.3,357.4 206.8,356.6 209.2,357.4 211.6,360.6 214.0,363.8 216.4,363.0 218.0,361.7 220.4,366.2 222.9,364.3 225.3,364.6 227.7,363.3 229.3,363.8 230.9,349.3 233.3,354.6 235.8,352.5 238.2,356.2 240.6,359.0 242.2,365.9 244.3,364.6 246.2,348.5 248.6,359.8 250.2,356.6 252.3,337.2 254.3,341.2 256.7,317.9 259.1,346.1 260.7,339.6 263.6,319.5 265.6,346.9 268.0,322.7 270.1,351.7 272.0,341.2 274.4,330.8 276.8,337.2 278.8,337.2 281.2,323.5 283.3,335.6 285.7,338.8 287.8,344.5 289.7,334.8 292.1,343.7 294.5,339.6 297.0,348.5 299.4,358.2 301.0,365.4 303.4,365.4 305.8,363.8 309.0,364.9 311.5,357.4 313.9,352.5 315.8,365.9 317.9,366.2 320.3,365.4 321.9,356.6 324.4,363.8 326.4,367.5 328.4,360.6 330.8,363.0 333.2,361.4 335.6,356.6 338.0,358.2 340.5,354.9 342.1,350.4 343.7,358.2 346.1,363.8 348.5,365.9 350.9,364.6 354.1,356.6 356.6,363.8 359.0,363.8 361.4,359.0 363.8,358.2 366.2,359.8 368.6,363.8 371.9,364.6 374.3,365.4 376.7,367.0 379.9,362.2 382.3,362.2 384.8,363.0 388.0,361.4 391.2,364.6 393.6,358.2 396.0,363.0 398.4,360.6 400.9,363.3 403.3,364.6 405.4,361.1 407.3,364.9 409.7,360.6 411.3,365.9 413.8,357.4 417.0,360.6 420.2,361.1 423.4,360.6 426.6,363.8 429.1,355.8 431.1,360.6 433.1,365.4 435.5,349.3 437.9,363.3 440.3,363.3 442.8,364.9 446.0,359.8" fill="none" stroke="#ff00ff" stroke-width="2" stroke-linejoin="round"/>
<polyline points="536.6,365.5 538.9,363.6 541.2,364.1 543.4,363.2 545.7,363.4 547.9,362.9 550.2,363.6 552.4,365.3 554.7,365.0 557.0,364.2 559.2,362.6 561.5,363.5 563.7,366.1 566.0,366.4 568.2,363.1 570.5,358.7 572.7,365.0 575.0,367.7 577.2,365.2 579.5,363.0 581.8,363.9 584.0,364.4 586.3,364.3 588.5,363.6 590.8,361.8 592.0,339.6 595.3,360.6 598.5,344.9 599.8,363.8 602.1,363.7 604.3,363.0 606.6,363.4 608.8,365.5 610.5,356.6 613.3,362.7 615.6,360.8 618.3,353.3 620.1,360.9 622.4,365.2 624.2,348.8 626.9,360.7 629.1,359.6 631.4,360.4 633.6,364.0 635.9,360.5 637.6,349.8 640.4,366.9 642.6,365.0 646.0,356.6 647.2,362.3 649.4,360.8 651.7,360.9 654.9,350.4 656.2,360.1 658.4,358.4 660.7,357.3 663.0,358.9 665.2,360.0 667.5,364.1 669.7,360.4 672.0,359.6 675.0,358.2 676.5,361.6 678.7,364.0 681.0,361.5 683.0,353.3 685.5,360.9 687.8,360.6 690.0,358.6 691.9,349.3 694.5,362.4 696.8,361.1 699.0,363.2 701.3,361.9 703.5,361.1 705.8,360.2 708.1,361.4 709.6,350.4 712.6,362.0 714.8,361.7 718.2,347.2 719.3,361.1 721.6,363.3 723.9,362.5 726.1,361.1 728.4,359.0 730.6,361.6 732.9,364.5 736.2,347.7 737.4,362.1 739.4,349.8 741.0,353.3 744.1,362.4 746.4,365.9 748.6,359.9 750.9,361.9 753.2,363.4 755.4,362.7 757.7,363.8 759.9,360.2 762.2,361.9 764.4,362.6 766.7,362.7 769.0,361.1 771.2,363.1 773.5,358.6 775.7,359.6 778.0,361.4 780.2,360.5 782.5,360.2 783.7,346.1 787.0,366.4 789.2,365.7 791.5,364.4 794.3,362.2 796.4,358.2 798.9,365.0 800.5,351.7 803.4,360.6 805.6,363.3 807.9,365.3 810.1,362.8 811.8,354.9 814.6,362.9 816.9,360.8 819.1,362.3 820.6,356.9 823.7,364.4 825.9,363.6 828.2,363.7 830.4,363.9 833.2,354.9 834.9,360.1 837.2,363.1 839.5,362.1 841.7,362.5 844.0,361.0 846.2,362.6 848.5,363.7 850.7,362.8 853.0,362.0 854.4,360.6 857.5,362.9 859.8,366.8 862.0,362.2 864.3,362.8 867.3,361.4 868.8,359.5 871.0,359.9 873.3,363.9 875.5,361.7 877.8,363.0 880.0,363.0 882.3,361.6 884.6,361.0 885.9,353.3 889.1,366.4 891.3,363.5 893.6,366.7 895.8,361.4 898.7,350.4 900.3,366.1 902.6,367.8 904.9,363.3 907.1,363.8 909.4,364.5 911.6,349.3 913.9,363.5 916.1,363.6 918.4,364.2 920.6,362.0 922.9,359.9 925.1,363.3 927.4,362.9 929.4,355.8 931.9,360.3 934.2,364.9 936.4,367.1 938.7,365.4 940.9,363.2 943.2,364.9 945.5,353.3 947.7,357.0 950.8,344.5 952.2,363.7 954.5,362.1 956.7,360.5 959.0,363.3 961.2,362.5 963.5,363.8 965.8,361.9 968.0,365.3 970.3,366.1 972.5,363.9 974.8,362.6 977.0,362.9 978.8,342.9 981.5,364.8 983.8,362.8 985.7,339.6 988.3,366.1 990.6,363.4 992.8,363.5 994.3,330.8 997.8,343.7 999.6,363.2 1001.8,363.1 1004.1,361.3 1006.4,363.6 1008.6,364.6 1010.9,366.2 1013.9,356.6 1015.4,362.1 1017.6,363.9 1019.9,365.3 1022.1,362.2 1024.4,362.2 1026.8,348.5 1028.9,365.4 1031.2,364.7 1033.4,362.5 1035.7,354.9 1037.9,365.5 1040.2,362.6 1042.4,362.9 1044.2,354.1 1046.9,363.2 1049.2,362.5 1051.5,364.2 1054.8,362.2 1057.2,365.4 1059.7,360.6 1062.1,363.8 1066.1,363.3 1068.5,363.8 1070.6,347.7 1072.9,365.4 1075.0,360.6 1077.4,353.3 1079.8,354.1 1081.4,357.4 1083.8,342.9 1086.2,342.1 1087.9,333.7 1090.3,334.8 1092.2,338.8 1094.3,353.3 1096.7,361.4 1099.1,346.9 1101.2,335.6 1103.2,327.2 1105.6,334.8 1108.0,343.7 1109.9,345.3 1111.5,365.4 1113.6,360.6 1116.0,363.8 1118.5,360.6 1120.9,358.2 1123.3,360.6 1125.7,359.8 1128.1,360.6 1130.5,359.0 1133.0,354.9 1135.4,354.1 1137.8,350.9 1140.2,348.5 1141.8,365.4 1144.2,359.8 1146.7,356.6 1149.1,357.4 1151.5,360.6 1153.1,350.9 1155.5,351.7 1157.1,361.4 1159.5,346.1 1162.0,350.9 1163.6,351.7 1166.0,364.6 1168.4,358.2 1170.5,350.9 1172.4,353.3 1174.8,363.0 1177.3,353.3 1179.7,345.3 1181.8,342.9 1183.7,328.4 1186.1,337.2 1188.5,336.4 1190.5,338.0 1192.6,328.4 1195.0,327.6 1196.9,329.2 1199.0,324.3 1200.6,338.8 1202.2,358.2 1204.7,366.2 1207.1,364.3 1209.5,361.4 1211.9,354.1 1214.3,349.3 1216.7,354.1 1219.2,363.0 1220.8,357.4 1223.2,355.8 1225.6,360.6 1227.2,361.4 1229.1,345.3 1231.2,360.6 1233.7,362.2 1236.1,360.6 1238.5,363.0 1240.6,355.8 1242.5,363.8 1244.9,356.6 1246.9,348.5 1249.0,360.6 1251.4,359.8 1253.8,359.8 1255.4,358.2 1257.8,346.9 1260.2,354.1 1262.3,362.2 1264.3,361.4 1266.7,356.6 1269.1,361.4 1271.5,363.8 1273.9,359.8 1275.5,357.4 1278.0,351.7 1280.4,338.8 1281.7,332.4 1283.3,350.9 1285.5,338.0 1288.1,334.8 1290.0,341.2 1292.5,336.4 1294.5,329.2 1296.5,346.9 1298.9,366.2 1301.3,365.4 1303.7,366.2 1306.1,365.4 1308.6,365.4 1311.0,364.6 1313.3,363.5 1316.7,365.2 1320.0,366.5 1323.4,364.3 1326.7,365.2 1330.1,364.3 1333.4,366.0 1335.9,366.9 1338.1,353.5 1340.1,365.2 1343.4,366.0 1346.8,365.2 1350.1,360.2 1353.1,354.8 1356.0,360.2 1358.5,366.0 1361.8,366.5 1365.2,364.3 1368.5,363.5 1370.5,358.2 1373.2,365.2 1376.0,364.9 1379.4,364.3 1382.7,363.8 1386.1,364.3 1389.4,363.8 1391.9,350.1 1394.4,351.8 1396.6,337.6 1398.6,347.6 1401.1,348.1 1403.3,340.4 1405.3,361.0 1407.8,355.1 1411.1,350.1 1414.0,328.4 1417.0,332.6 1419.5,335.1 1422.0,334.2 1424.5,326.7 1427.0,320.9 1429.5,335.1 1431.7,351.8 1433.7,346.8 1435.7,322.6 1437.9,326.7 1440.1,353.5 1442.4,365.2 1444.6,362.7 1446.7,356.8 1449.1,364.3 1451.3,346.8 1453.4,337.6 1455.4,360.2 1457.9,342.6 1459.6,360.2 1461.8,349.3 1464.1,328.4 1466.3,324.7 1468.5,336.8 1470.8,335.1 1473.0,357.7 1475.2,362.7 1477.2,353.5 1479.7,331.8 1481.8,346.0 1483.8,365.2 1486.4,353.5 1488.5,343.4 1490.5,348.5 1493.0,336.8 1495.6,341.8 1498.6,366.9 1501.4,365.2 1504.8,363.5 1508.1,365.2 1511.4,363.5 1514.8,365.2 1518.1,365.2 1521.5,365.5 1524.8,366.0 1527.3,362.7 1529.8,364.3 1532.3,366.5 1535.7,357.7 1538.2,365.2 1541.5,365.2 1544.0,364.3 1547.4,362.7 1551.6,362.7 1554.9,361.0 1557.4,364.3 1560.8,365.2 1563.3,365.2 1566.6,352.6 1568.8,365.2 1571.6,363.5 1573.3,362.7 1575.0,366.5 1577.5,365.5" fill="none" stroke="#ff00ff" stroke-width="2" stroke-linejoin="round"/>
<polyline points="186.6,438.7 189.0,443.5 191.4,446.0 193.9,443.2 196.3,438.7 197.9,446.0 199.5,446.8 201.9,441.1 204.3,433.1 206.8,440.3 209.2,441.6 211.6,442.7 214.0,445.1 216.4,441.1 218.8,446.0 221.2,445.5 223.7,446.8 226.1,446.0 228.5,444.4 230.9,438.7 233.3,436.3 235.8,437.9 238.2,440.6 240.6,443.5 243.0,445.1 245.4,438.7 247.0,442.7 249.4,433.9 251.8,423.4 254.3,428.2 256.2,422.6 258.3,427.4 260.7,425.0 263.9,430.6 266.4,426.6 268.8,427.4 272.0,422.6 274.4,425.8 276.8,427.4 279.2,421.0 281.7,424.2 284.1,430.6 286.5,427.4 288.9,421.0 291.3,424.2 293.7,429.0 296.2,433.1 298.6,438.7 301.0,438.7 303.4,443.5 305.8,439.5 308.2,444.4 310.6,436.3 313.1,436.3 315.5,440.3 317.9,446.8 320.3,443.5 321.9,435.5 323.5,441.1 326.0,446.8 328.4,443.5 330.8,441.6 333.2,441.6 335.6,441.1 338.0,441.6 340.5,437.9 342.9,441.1 345.3,441.6 347.7,446.4 350.1,441.1 352.5,439.5 355.8,438.7 359.0,441.1 362.2,441.6 365.4,441.1 367.8,441.1 370.3,443.5 372.7,446.0 375.1,446.0 378.3,446.0 381.5,446.0 384.8,445.1 388.0,446.0 391.2,445.1 394.4,445.1 396.8,441.1 399.3,446.8 401.7,443.5 404.1,443.9 406.5,443.5 408.9,445.5 411.3,442.7 413.8,441.1 416.2,445.1 418.6,446.8 421.0,445.1 423.4,444.4 425.8,444.4 428.2,442.7 430.7,440.3 433.1,446.8 435.5,443.5 437.9,442.7 440.3,444.4 442.8,446.8 446.0,444.4" fill="none" stroke="#ff00ff" stroke-width="2" stroke-linejoin="round"/>
<polyline points="537.0,443.1 539.2,446.6 541.5,446.1 543.7,444.6 546.1,438.7 548.2,444.2 550.5,446.8 552.8,445.8 555.0,447.0 557.3,446.9 559.5,444.5 561.8,442.8 564.0,445.0 566.3,443.4 568.5,441.3 570.8,441.7 573.5,441.1 575.3,444.5 577.5,444.8 579.8,444.2 582.1,446.7 584.3,444.2 586.6,445.8 588.8,445.2 591.2,430.6 593.3,443.8 595.6,446.3 597.7,423.4 600.1,441.5 602.4,442.8 604.6,445.7 606.9,442.8 609.1,443.8 611.4,446.6 613.6,447.0 615.9,446.0 618.1,448.6 620.4,445.4 622.7,443.9 624.2,434.7 627.2,443.8 629.4,445.8 631.7,444.0 633.9,443.6 636.2,444.9 637.9,438.7 640.7,443.8 643.0,442.9 645.2,443.1 647.6,430.6 649.7,442.0 652.0,445.6 654.2,446.6 656.5,441.1 658.8,442.6 661.0,443.4 663.3,442.5 665.5,444.9 667.8,443.1 670.0,443.5 672.3,443.8 674.5,441.9 676.8,443.3 678.2,434.7 681.3,444.4 683.5,443.1 685.8,444.6 688.1,444.1 691.1,440.3 692.6,443.6 694.8,440.6 697.1,445.4 699.3,446.9 701.6,443.6 703.9,440.0 706.1,442.2 708.4,445.0 710.6,439.4 712.9,445.9 715.1,443.4 717.4,442.4 719.6,442.1 721.9,443.8 724.1,444.4 725.7,434.7 728.7,444.3 730.9,442.6 733.2,444.4 735.4,443.4 737.7,443.3 739.4,437.9 742.2,444.8 744.5,445.3 746.7,447.3 749.0,443.7 751.2,444.3 753.1,436.3 755.7,446.3 758.0,442.7 760.2,440.7 762.5,442.2 764.8,446.0 767.0,445.3 769.3,441.4 771.6,440.3 773.8,443.2 776.0,442.5 778.3,447.0 780.5,446.0 782.9,432.3 785.0,445.5 787.3,443.5 789.6,444.7 791.8,443.9 794.4,444.1 796.6,445.0 799.7,433.9 801.1,444.4 803.4,445.1 805.7,443.8 807.9,442.9 810.2,444.2 812.4,444.9 814.7,443.9 816.9,444.3 819.2,444.1 821.4,441.1 823.7,445.1 826.0,446.4 828.2,442.6 830.5,447.0 832.7,437.9 835.0,443.2 837.2,444.5 839.5,446.5 841.7,443.4 844.0,445.8 846.2,444.9 848.5,442.8 850.8,444.5 853.0,443.6 855.3,444.4 856.9,439.5 859.8,444.1 862.0,441.3 864.3,446.2 866.5,447.6 868.8,447.5 871.1,445.0 873.3,445.3 875.6,445.4 877.8,441.4 880.1,442.4 882.3,443.7 884.6,442.2 886.9,443.4 889.1,444.6 891.4,443.4 893.6,441.2 895.9,445.5 897.1,438.7 900.4,444.4 902.6,444.8 904.9,441.4 907.1,443.3 909.4,443.8 910.8,436.3 913.9,446.0 916.2,443.9 918.4,446.2 920.7,445.6 922.9,443.1 925.2,442.7 928.5,436.3 929.7,443.8 931.8,437.9 934.2,443.0 936.5,442.2 938.7,443.4 941.0,444.1 943.2,444.4 944.6,433.9 947.1,434.7 950.0,441.1 952.2,445.0 954.5,445.1 956.8,440.4 959.0,443.6 961.3,445.7 963.5,443.8 965.8,443.5 968.0,445.2 970.3,440.4 973.6,437.9 974.8,444.8 977.1,446.5 979.3,444.1 981.6,440.4 984.9,425.8 986.1,441.4 988.3,442.1 990.6,444.5 992.2,429.0 996.2,430.6 997.4,445.0 998.6,435.5 1001.9,443.6 1004.1,442.2 1006.4,443.4 1008.6,443.7 1010.9,442.1 1013.1,442.5 1015.4,446.5 1017.7,443.9 1019.9,444.5 1022.2,443.6 1025.2,437.1 1026.7,443.9 1028.9,440.9 1031.2,442.6 1033.4,442.2 1035.7,443.3 1038.0,441.5 1040.2,443.8 1042.5,442.4 1044.7,440.5 1047.0,443.9 1049.2,441.7 1051.5,444.9 1054.0,437.9 1056.4,442.7 1058.9,443.5 1061.3,444.4 1063.7,443.5 1066.1,445.1 1067.7,443.5 1069.7,433.9 1071.8,446.4 1074.2,442.7 1076.1,433.9 1078.2,439.5 1080.6,435.5 1083.0,436.3 1085.1,429.9 1087.0,421.0 1089.5,430.6 1091.6,422.3 1093.5,429.0 1095.9,446.0 1098.0,432.3 1100.3,412.6 1102.4,425.8 1104.5,425.0 1106.4,432.3 1108.3,433.9 1110.4,446.4 1112.8,443.5 1115.2,442.7 1117.7,441.6 1120.9,442.7 1123.3,442.7 1125.7,443.2 1128.9,443.5 1131.3,443.9 1133.8,441.9 1137.0,433.1 1139.4,441.9 1141.8,443.5 1144.2,441.9 1145.8,437.9 1148.3,443.9 1150.7,442.7 1153.1,435.5 1155.5,442.7 1157.6,434.7 1159.5,443.5 1161.2,435.5 1163.6,433.9 1165.2,446.8 1167.6,441.1 1170.0,440.0 1172.4,439.5 1174.8,442.7 1177.3,439.5 1179.7,429.0 1181.8,420.7 1184.5,419.7 1186.9,429.9 1189.3,429.0 1191.4,414.5 1193.7,427.4 1195.8,425.0 1197.9,429.0 1200.1,424.2 1202.2,444.4 1204.7,446.4 1207.1,446.0 1209.5,443.9 1211.1,437.1 1213.5,439.5 1215.9,438.7 1218.3,443.5 1220.8,441.9 1223.2,439.5 1225.6,441.1 1228.5,427.4 1230.4,441.1 1232.8,443.5 1235.3,442.7 1237.7,446.0 1240.1,442.7 1242.5,442.7 1244.9,442.2 1247.3,441.9 1249.8,440.3 1253.0,437.9 1256.2,436.3 1259.4,437.9 1261.8,443.5 1264.3,443.5 1266.7,441.1 1269.1,444.4 1271.5,439.5 1273.9,437.1 1275.5,433.9 1278.0,433.1 1280.0,427.4 1282.0,439.5 1284.4,421.8 1286.8,424.2 1289.2,432.3 1291.3,416.2 1293.2,426.6 1295.7,433.9 1298.1,441.9 1300.5,444.4 1302.9,446.8 1305.3,446.0 1307.8,442.7 1310.2,437.9 1313.3,442.9 1316.7,443.8 1320.0,442.9 1323.4,445.4 1325.9,446.3 1328.4,444.6 1330.9,445.4 1333.4,446.8 1335.1,447.1 1337.1,434.6 1339.2,445.4 1341.8,446.3 1344.3,445.1 1346.8,445.4 1350.1,438.7 1352.6,435.4 1354.8,434.6 1356.8,445.4 1359.3,443.4 1361.8,447.1 1364.3,444.6 1366.8,443.8 1369.3,440.4 1371.8,446.3 1375.2,444.6 1378.5,443.4 1381.9,442.9 1385.2,443.8 1388.6,444.6 1391.1,437.1 1393.6,438.7 1395.6,429.5 1397.8,436.2 1400.3,432.1 1402.8,433.7 1404.5,443.8 1407.0,437.9 1409.5,437.1 1412.0,429.5 1413.6,420.4 1416.2,426.2 1418.7,430.4 1420.0,421.2 1422.0,429.5 1424.5,423.7 1426.2,430.4 1428.7,433.7 1431.2,436.2 1432.9,431.2 1435.0,415.3 1437.4,421.2 1439.6,437.1 1442.1,441.2 1443.7,443.8 1445.7,434.6 1447.9,446.3 1450.1,431.2 1452.1,422.0 1454.1,437.1 1456.3,429.5 1458.8,442.9 1460.8,429.5 1463.0,418.7 1465.1,418.7 1467.1,428.7 1469.7,422.0 1471.8,437.1 1473.8,446.3 1476.3,441.2 1478.5,420.4 1480.8,425.4 1483.0,435.4 1485.5,433.7 1487.5,412.8 1489.7,428.7 1492.2,436.2 1494.7,434.6 1497.2,438.7 1499.7,446.3 1502.2,442.9 1504.8,444.6 1507.3,442.9 1510.6,440.4 1514.0,445.4 1517.3,447.1 1520.6,446.3 1524.0,444.6 1527.3,440.4 1529.8,441.2 1532.3,443.8 1535.7,443.8 1539.0,444.6 1542.4,442.9 1545.7,443.8 1549.0,442.1 1552.4,442.1 1555.7,444.6 1559.1,446.3 1562.4,445.4 1565.8,446.3 1568.3,444.6 1570.8,444.6 1573.3,445.4 1575.8,447.1" fill="none" stroke="#ff00ff" stroke-width="2" stroke-linejoin="round"/>
<polyline points="187.4,515.8 189.8,519.0 192.2,519.8 194.3,523.0 196.3,519.8 198.7,514.1 201.1,518.2 203.5,517.4 205.9,518.2 207.6,523.0 210.0,518.2 212.4,517.4 214.0,517.4 215.6,502.9 218.0,503.7 220.1,504.5 222.1,514.9 224.5,506.1 226.9,509.3 228.5,514.9 230.9,507.7 233.0,514.9 235.3,502.1 237.4,510.1 239.8,514.9 242.2,519.8 244.3,524.3 246.2,514.9 248.6,514.9 250.7,513.3 252.3,494.8 254.6,494.8 257.2,477.9 259.1,503.7 261.5,504.5 263.9,492.4 265.9,510.9 268.0,498.0 270.4,503.7 272.3,505.3 274.4,494.0 276.8,508.5 279.2,500.4 281.2,486.8 283.3,494.0 285.7,498.8 287.3,499.6 289.7,507.7 291.6,494.0 294.5,498.0 297.0,499.6 298.6,506.9 300.7,506.9 302.6,514.9 305.0,523.0 307.4,522.2 310.6,519.8 313.9,516.5 316.3,519.8 318.7,519.0 321.1,513.3 323.5,514.9 326.0,519.0 328.4,517.4 330.8,523.0 332.9,519.0 334.8,521.4 337.2,524.9 339.6,518.2 342.1,518.2 344.5,516.5 346.9,510.1 348.5,502.9 350.9,513.3 353.3,514.9 355.8,510.1 357.4,508.5 359.8,519.0 362.2,517.4 365.4,516.5 367.8,515.8 370.3,506.9 372.7,517.4 374.8,524.6 376.7,519.8 379.1,523.8 382.3,524.6 384.8,521.4 387.2,523.8 389.6,520.6 392.0,514.9 394.4,521.4 397.6,519.0 400.1,518.2 402.5,519.8 405.4,518.2 408.1,520.6 410.5,522.2 412.9,523.0 415.4,521.4 418.3,522.2 421.0,524.6 423.4,519.8 426.6,516.5 428.6,511.7 430.7,518.2 433.1,514.9 435.5,523.0 437.9,520.6 440.3,521.4 442.8,523.8 444.4,520.6 446.0,523.0" fill="none" stroke="#ff00ff" stroke-width="2" stroke-linejoin="round"/>
<polyline points="535.6,481.9 537.2,505.3 539.7,506.1 541.6,522.2 544.2,522.2 546.1,516.5 548.5,523.8 550.9,509.3 552.9,502.9 555.0,508.5 557.4,510.9 559.3,524.6 561.4,518.2 563.8,513.3 566.2,523.0 568.7,518.2 571.1,514.9 572.7,523.8 574.8,508.5 577.5,513.3 579.1,514.9 581.2,502.1 583.2,519.8 585.6,523.8 588.0,516.5 590.4,510.1 592.8,511.7 596.0,519.0 598.5,506.1 600.9,513.3 603.3,519.8 605.7,521.4 607.3,516.5 609.3,510.1 611.4,519.8 613.8,523.8 616.2,515.8 618.3,506.6 620.2,513.3 622.6,526.2 625.0,520.6 627.5,521.4 629.9,518.2 632.3,519.0 634.7,514.9 637.1,519.0 639.5,525.4 642.0,514.9 644.4,513.3 646.3,508.5 648.9,506.1 651.1,508.5 653.7,512.5 656.0,514.9 658.1,515.8 660.2,520.6 661.8,517.4 663.7,526.2 666.1,522.2 668.5,522.2 671.0,523.0 673.4,521.4 675.0,523.8 677.4,518.2 679.8,516.5 681.8,512.5 683.9,510.9 686.3,512.5 688.7,510.9 691.1,512.5 693.5,514.1 695.9,522.2 699.1,523.8 702.4,523.8 705.6,522.2 708.8,520.6 711.2,518.2 713.6,523.8 716.1,516.5 718.2,523.8 720.1,516.5 722.5,520.6 724.9,521.4 726.9,510.9 729.0,503.7 731.4,508.5 733.8,516.5 736.2,513.3 737.8,508.8 739.8,516.5 741.8,520.6 744.3,516.5 746.7,513.3 749.1,517.4 752.0,516.5 754.7,514.9 757.1,520.6 759.6,508.5 762.0,508.5 764.4,516.5 766.8,518.2 769.2,521.4 770.8,520.6 772.5,503.7 774.9,519.0 777.3,517.4 779.7,521.4 781.6,524.6 783.7,519.8 786.1,520.6 788.6,516.5 791.0,506.9 794.0,511.7 796.4,519.8 798.9,512.5 801.3,519.8 803.7,523.8 806.1,522.2 809.3,520.6 812.5,519.5 815.0,520.6 816.6,523.8 819.0,521.4 821.4,519.8 823.8,521.4 826.2,522.2 827.4,524.6 829.5,510.1 831.6,514.1 833.5,511.7 835.9,519.8 838.0,523.8 840.3,516.5 842.4,520.6 844.8,520.6 847.2,521.4 848.8,519.8 851.2,527.0 852.8,523.0 854.4,515.8 856.9,514.1 859.3,511.7 861.7,510.1 864.1,507.2 866.5,506.1 868.9,506.1 871.4,504.5 873.8,505.3 875.4,511.7 877.0,519.8 879.4,512.5 881.8,513.3 883.8,508.5 885.9,514.1 887.5,520.6 889.9,514.1 892.3,521.4 894.4,523.0 896.3,520.6 898.7,521.4 901.2,520.6 903.6,521.4 906.0,514.1 908.4,510.9 910.8,518.2 913.2,520.6 915.6,514.9 918.1,510.9 920.5,512.5 922.9,511.7 925.3,510.1 927.2,502.9 929.4,505.3 931.4,510.9 934.2,513.3 936.6,515.8 939.0,516.5 941.4,516.5 943.9,505.3 946.3,507.7 948.7,511.7 951.1,510.9 953.5,511.7 955.6,504.5 957.9,503.7 960.4,508.5 962.7,504.5 965.3,504.5 967.2,508.5 969.6,506.9 972.0,509.3 974.5,508.5 976.9,519.0 978.8,510.9 980.9,518.2 983.3,508.5 985.7,495.6 987.8,503.7 990.1,507.7 992.2,504.5 994.3,499.6 996.5,503.7 998.6,510.1 1000.7,508.5 1002.3,522.2 1004.3,514.1 1007.2,525.4 1009.1,521.4 1011.5,518.2 1013.9,515.8 1016.3,518.2 1018.8,510.9 1021.2,510.1 1023.3,511.7 1025.2,509.3 1027.6,518.2 1030.0,518.2 1032.5,520.6 1034.9,523.0 1037.3,516.5 1039.4,521.4 1041.6,520.6 1043.7,519.8 1046.1,523.0 1048.6,518.2 1050.7,510.9 1054.8,522.2 1057.2,516.5 1059.7,523.0 1062.1,520.6 1064.5,519.8 1066.1,521.4 1068.5,512.5 1070.9,511.7 1073.4,514.1 1075.8,519.8 1078.2,518.2 1080.6,520.6 1083.0,506.1 1085.4,501.2 1087.9,498.8 1090.3,506.9 1092.2,499.6 1094.3,511.7 1096.7,526.2 1099.1,513.3 1101.2,498.8 1103.5,495.6 1105.6,498.0 1108.0,507.7 1109.9,515.8 1112.0,525.4 1114.4,523.8 1116.8,524.6 1119.3,523.8 1121.7,523.8 1124.1,521.4 1126.5,524.6 1128.9,523.8 1131.3,524.6 1133.8,520.6 1136.2,518.2 1138.3,513.3 1140.2,520.6 1142.6,521.4 1145.0,523.0 1147.5,521.4 1149.6,523.0 1151.5,523.8 1153.4,511.7 1155.5,508.2 1157.6,521.4 1159.5,506.1 1162.0,514.1 1164.4,514.9 1166.3,526.2 1168.4,523.0 1170.5,510.9 1172.4,516.5 1174.8,523.8 1177.3,518.2 1179.7,516.5 1181.8,504.5 1183.7,498.0 1186.1,502.1 1188.5,502.9 1190.5,498.8 1192.6,504.5 1194.7,506.1 1196.6,500.4 1199.0,498.8 1201.1,492.4 1203.0,524.6 1205.5,526.2 1207.9,524.6 1210.3,523.0 1212.4,518.2 1214.3,510.9 1216.7,519.0 1219.2,522.2 1221.6,521.4 1223.7,518.2 1225.6,525.4 1227.2,519.8 1229.6,511.7 1232.0,519.0 1234.5,522.2 1236.1,523.0 1238.2,526.2 1240.1,514.9 1242.5,523.8 1244.9,523.8 1247.3,522.2 1249.8,523.8 1252.2,519.8 1254.6,520.6 1257.0,511.7 1259.4,513.3 1261.8,518.2 1263.9,526.2 1265.9,519.8 1268.3,526.2 1270.7,524.6 1273.1,519.8 1275.2,523.0 1277.1,505.3 1279.6,506.9 1281.7,492.4 1283.6,506.1 1286.0,502.9 1288.1,506.9 1290.3,503.7 1292.5,500.4 1294.9,500.4 1297.3,516.5 1299.7,514.9 1301.3,520.6 1303.7,508.5 1306.1,511.7 1308.6,514.9 1311.0,518.2 1314.2,523.5 1316.3,505.1 1318.4,516.8 1320.4,520.2 1322.5,517.7 1324.7,523.5 1326.7,515.1 1329.2,511.0 1331.4,508.8 1333.4,508.5 1335.9,515.1 1338.4,516.0 1340.9,520.2 1343.4,522.7 1345.9,520.2 1348.5,513.5 1351.0,515.1 1353.5,516.8 1356.0,512.6 1358.1,516.8 1359.8,523.5 1362.2,510.1 1364.3,508.5 1366.5,522.7 1368.5,516.8 1371.0,517.7 1373.2,523.5 1375.5,515.1 1378.2,513.5 1380.2,515.1 1383.2,504.3 1385.6,511.0 1388.2,510.1 1391.1,511.8 1393.6,506.8 1396.1,502.6 1398.6,505.1 1401.1,499.3 1403.6,511.8 1405.6,523.5 1407.8,518.5 1410.3,508.5 1412.3,500.9 1414.5,493.4 1417.0,497.6 1418.7,504.3 1420.7,498.4 1422.8,502.6 1425.3,501.8 1427.8,495.9 1429.5,495.9 1431.7,516.8 1433.7,503.4 1435.7,490.9 1437.9,493.4 1440.1,515.1 1442.4,526.0 1444.6,526.0 1446.7,521.8 1448.8,527.7 1451.3,516.8 1453.4,504.3 1455.4,523.5 1457.4,506.8 1459.6,526.9 1461.8,510.1 1464.1,498.4 1466.3,491.8 1468.5,500.1 1470.8,505.1 1473.0,523.5 1475.2,526.9 1477.2,508.5 1479.7,496.8 1481.8,516.0 1483.8,523.5 1486.4,508.5 1488.5,494.2 1490.5,510.1 1492.2,495.1 1494.7,503.4 1496.9,513.5 1498.9,526.9 1501.4,524.3 1503.9,522.7 1505.9,511.8 1508.1,511.8 1510.6,520.2 1513.1,522.7 1515.6,518.5 1518.1,522.7 1520.6,523.5 1523.1,524.3 1525.7,518.5 1528.2,515.1 1530.7,516.8 1533.2,516.8 1535.7,516.0 1538.2,507.6 1540.4,500.9 1542.4,511.8 1544.9,513.5 1547.4,511.8 1549.9,516.0 1552.4,516.8 1554.9,521.8 1557.4,520.2 1559.9,519.3 1562.4,518.5 1564.9,516.0 1567.4,513.5 1569.5,511.0 1571.6,518.5 1574.1,522.7 1576.6,524.3" fill="none" stroke="#ff00ff" stroke-width="2" stroke-linejoin="round"/>
<polyline points="187.4,602.7 189.8,606.0 192.2,606.8 194.7,606.4 197.1,605.1 199.5,604.4 202.7,604.8 205.1,603.5 207.6,603.9 210.0,605.1 212.4,604.8 214.8,606.8 217.2,605.1 218.8,603.5 221.2,606.0 223.7,606.0 226.1,605.1 228.5,606.0 230.9,603.5 233.0,603.2 234.9,598.7 236.2,595.5 238.2,598.7 240.6,603.5 243.0,606.0 245.4,605.1 247.8,602.7 250.2,602.7 252.3,581.0 254.3,585.0 255.9,576.2 257.5,574.5 259.4,589.9 262.0,581.0 263.9,579.4 266.4,590.6 268.8,587.4 271.2,591.5 272.8,593.9 274.9,579.4 276.8,593.9 279.2,587.4 281.7,589.0 284.1,584.2 286.2,584.2 288.1,587.4 290.5,592.3 292.6,585.0 294.5,586.6 297.0,591.5 299.4,598.7 301.8,603.5 303.4,605.1 305.8,605.1 307.4,606.8 309.9,603.5 312.3,605.1 314.7,605.1 317.1,607.6 319.5,606.4 321.9,605.1 324.4,606.0 326.8,607.6 329.2,606.8 331.6,606.0 334.0,605.1 336.4,602.7 338.9,604.4 340.5,602.7 342.9,604.4 345.3,603.9 347.7,605.1 350.1,606.0 352.5,606.8 355.4,601.1 357.4,606.0 359.8,604.4 362.2,603.9 364.6,602.7 367.0,603.5 369.4,604.4 371.1,606.0 373.5,605.1 375.9,606.8 378.3,607.6 380.7,606.0 383.1,606.8 385.6,606.8 388.0,606.8 390.4,606.4 392.8,605.5 395.2,604.4 397.6,603.5 400.1,606.8 402.5,604.4 404.9,605.1 407.3,606.8 409.7,605.1 412.1,606.0 414.6,606.0 417.0,605.1 420.2,606.0 423.4,605.5 426.6,605.1 429.1,601.9 431.5,602.7 433.9,607.6 436.3,605.1 438.7,603.5 441.1,604.4 443.6,606.0 446.0,603.5" fill="none" stroke="#ff00ff" stroke-width="2" stroke-linejoin="round"/>
<polyline points="535.6,603.2 539.7,603.9 542.9,602.7 546.1,603.5 549.3,605.1 552.5,606.0 555.8,606.8 559.0,605.1 562.2,606.4 565.4,605.1 568.7,606.0 571.9,605.1 575.1,606.4 578.3,605.1 581.5,604.4 584.8,605.1 588.0,606.4 590.4,605.1 592.8,599.5 595.2,605.1 597.7,603.5 600.1,602.7 602.5,604.4 605.7,603.5 608.9,604.4 612.2,605.1 615.4,605.1 618.6,604.8 621.8,605.1 625.0,602.7 627.5,601.9 629.9,603.5 632.3,606.8 634.7,605.1 637.9,603.9 641.2,606.0 644.4,607.6 647.6,605.1 650.8,605.1 654.0,603.9 657.3,601.9 660.5,603.5 663.7,606.8 666.9,606.8 670.1,605.1 673.4,605.1 676.6,606.8 679.8,605.1 683.0,606.0 686.3,605.1 689.5,606.8 691.9,595.5 694.3,601.1 696.7,606.8 699.1,606.8 702.4,604.4 705.6,605.1 708.8,603.5 711.2,606.8 713.6,605.1 716.9,606.0 718.8,598.7 720.9,604.4 723.3,606.8 725.7,605.1 728.1,605.1 730.6,604.4 733.3,606.8 735.4,598.7 737.8,593.9 739.4,595.5 741.8,600.3 744.3,602.7 746.7,597.9 749.1,603.5 751.5,606.0 753.9,602.7 757.1,601.9 759.6,603.5 762.0,605.1 764.4,606.0 766.8,606.8 770.0,605.1 773.2,603.5 775.7,604.8 778.1,605.1 780.5,601.1 782.1,605.1 784.2,598.7 786.1,606.8 788.6,606.8 791.0,606.0 794.3,605.3 796.6,605.8 799.7,602.7 801.1,607.3 803.4,606.3 805.6,605.4 807.9,603.7 810.1,604.3 811.8,601.9 814.6,606.7 816.9,606.8 819.1,606.9 820.6,601.9 823.6,604.6 825.9,605.0 828.2,606.6 830.4,604.9 832.7,604.7 834.9,604.8 837.2,604.4 839.4,605.1 841.7,605.7 843.2,606.0 846.2,604.5 848.5,605.6 850.7,607.6 853.0,606.5 855.2,604.5 857.5,605.9 859.7,607.0 862.0,606.5 864.2,606.2 866.5,605.4 868.8,605.8 871.0,604.5 873.3,605.9 875.5,607.5 877.8,606.6 880.0,607.5 882.3,607.2 884.5,606.3 886.8,604.5 889.0,606.7 891.3,606.6 893.6,604.0 895.8,607.1 897.9,602.7 900.3,608.0 902.6,608.2 904.8,606.4 907.1,606.1 909.4,605.3 910.8,601.9 913.9,606.1 916.1,608.3 918.4,606.0 920.6,606.7 922.9,607.9 925.1,606.8 927.4,605.9 929.6,604.8 931.0,603.5 934.2,607.7 936.4,608.4 938.7,606.2 940.9,607.9 943.2,607.4 945.5,600.3 947.7,606.9 950.0,605.7 951.1,595.5 954.5,607.2 956.7,606.1 959.0,606.1 961.2,606.2 963.5,606.5 965.7,607.6 968.0,605.6 970.2,606.2 972.5,605.5 974.8,605.8 977.0,605.3 979.3,595.5 981.5,605.0 983.8,604.2 986.2,584.2 989.0,598.7 990.5,604.8 992.2,586.6 994.6,595.5 997.0,588.2 999.6,606.1 1001.8,604.1 1004.1,606.5 1006.3,605.7 1008.6,609.0 1010.8,605.7 1013.1,604.9 1015.4,605.6 1017.6,604.5 1019.9,606.1 1022.1,607.5 1024.4,608.1 1026.6,606.8 1028.9,605.7 1031.1,607.2 1033.4,607.5 1035.7,605.9 1037.9,605.0 1040.2,604.5 1042.4,605.6 1043.7,602.7 1046.9,606.4 1049.2,607.0 1051.4,604.6 1053.2,606.0 1056.4,606.0 1058.9,603.5 1061.3,606.0 1063.7,604.4 1066.1,606.0 1068.5,605.1 1070.6,597.4 1072.9,607.6 1075.0,603.5 1077.4,601.9 1079.8,597.1 1082.2,602.7 1084.6,593.9 1087.0,583.4 1089.5,590.6 1091.6,587.4 1093.2,580.2 1095.1,597.1 1097.0,607.6 1099.1,595.5 1101.2,583.4 1103.5,579.4 1105.6,581.0 1108.0,590.6 1109.9,598.7 1112.0,607.6 1114.4,605.1 1117.7,606.0 1120.9,605.1 1124.1,604.4 1127.3,605.1 1130.5,605.1 1133.8,602.7 1136.2,602.7 1138.3,593.1 1140.2,601.1 1142.6,607.6 1145.0,602.7 1147.5,603.5 1149.9,602.7 1151.8,606.0 1153.9,596.3 1156.0,593.9 1157.9,602.7 1160.3,595.5 1162.8,596.3 1164.7,598.7 1166.8,607.6 1168.9,598.7 1170.8,593.9 1172.8,606.8 1175.3,603.5 1178.1,599.5 1180.5,598.7 1182.4,584.2 1184.0,578.6 1186.1,589.0 1188.5,588.2 1191.0,581.0 1193.0,589.0 1195.0,583.4 1196.9,588.2 1199.0,582.6 1201.1,583.4 1203.0,606.8 1205.5,608.4 1207.9,606.8 1210.3,605.1 1212.7,601.9 1214.6,597.9 1216.7,602.7 1219.2,602.7 1221.6,601.9 1223.2,598.7 1225.6,605.1 1227.2,599.5 1229.6,597.9 1231.2,599.5 1233.7,603.5 1236.1,606.8 1238.2,604.4 1240.1,603.5 1242.5,601.1 1244.9,605.1 1247.3,606.8 1249.8,604.4 1252.2,603.5 1254.6,604.4 1257.0,598.7 1259.4,597.9 1261.8,601.1 1264.3,606.8 1266.7,605.1 1269.1,605.1 1271.5,603.5 1273.1,599.5 1275.5,601.9 1278.0,597.1 1279.6,589.9 1282.0,583.4 1283.9,599.5 1286.0,587.4 1288.4,576.2 1290.8,577.8 1292.9,582.6 1294.9,584.2 1297.3,595.5 1299.4,606.8 1301.3,607.6 1303.7,606.0 1306.1,605.1 1308.6,604.4 1311.0,606.8 1313.3,607.1 1316.7,606.3 1320.0,607.9 1323.4,606.8 1326.7,607.1 1330.1,606.3 1333.4,607.1 1336.8,605.8 1340.1,605.4 1343.4,607.9 1346.8,607.1 1350.1,604.6 1352.6,602.1 1355.1,604.6 1357.6,607.1 1360.2,607.9 1363.5,607.1 1366.8,606.8 1370.2,605.4 1373.5,606.3 1376.9,606.3 1380.2,606.8 1383.5,606.3 1386.9,607.9 1389.4,605.4 1391.9,596.2 1394.4,586.2 1396.6,591.2 1398.6,592.0 1401.1,588.7 1403.3,592.0 1405.6,606.3 1407.8,605.4 1410.3,598.7 1412.3,589.5 1414.5,582.0 1417.0,585.4 1419.0,587.0 1421.2,575.3 1423.3,589.5 1425.3,586.2 1427.8,582.0 1430.0,587.0 1432.0,599.6 1434.0,594.6 1435.7,587.9 1437.9,589.5 1440.1,597.1 1442.1,605.4 1444.6,607.1 1447.1,600.1 1449.6,607.9 1451.8,602.1 1453.8,589.5 1455.8,600.4 1457.9,582.0 1460.5,607.9 1462.5,595.4 1464.6,585.4 1467.1,584.5 1469.7,586.2 1471.8,592.0 1473.8,605.4 1476.3,604.6 1478.8,588.7 1480.5,582.0 1482.5,591.2 1484.7,606.3 1486.9,593.7 1488.5,582.9 1490.5,595.4 1492.2,584.5 1494.7,590.4 1497.2,597.1 1499.7,607.9 1502.2,607.1 1505.6,606.3 1508.9,606.3 1512.3,606.8 1515.6,606.3 1519.0,607.1 1522.3,607.4 1525.7,606.3 1529.0,606.3 1532.3,606.8 1535.7,606.3 1539.0,605.8 1542.4,606.3 1545.7,606.3 1549.0,607.1 1552.4,606.8 1555.7,607.4 1559.1,607.4 1562.4,607.9 1565.8,607.1 1569.1,607.4 1571.6,605.4 1574.1,607.1 1576.6,607.9" fill="none" stroke="#ff00ff" stroke-width="2" stroke-linejoin="round"/>
<polyline points="187.4,675.1 189.8,679.1 192.2,678.3 194.7,679.9 197.1,676.7 199.5,673.2 202.7,674.8 205.1,676.7 207.6,679.9 210.0,677.5 211.6,675.1 214.0,679.1 215.9,667.9 218.0,670.3 220.4,673.5 222.9,675.1 224.9,665.4 227.2,676.7 229.3,675.1 231.7,675.4 233.7,673.2 235.8,667.0 238.2,675.1 240.6,678.3 243.8,681.5 246.2,676.7 248.6,676.7 250.7,677.5 252.7,663.8 255.1,665.4 257.2,662.2 259.4,669.5 261.5,664.6 263.9,659.8 265.9,667.0 268.0,663.8 270.4,667.0 272.8,664.6 274.4,663.0 276.5,676.7 278.4,675.1 280.4,663.0 283.3,667.0 285.7,665.4 287.3,664.1 289.7,671.1 291.6,656.1 293.7,656.1 296.2,659.0 298.6,662.2 300.7,663.8 302.6,673.5 305.0,676.7 307.4,679.9 309.9,676.7 312.3,678.3 314.7,677.5 317.1,674.3 319.5,676.7 321.9,675.1 324.4,681.5 326.8,679.1 328.7,674.3 330.8,675.1 333.2,677.5 335.6,676.7 338.0,678.3 340.5,676.7 342.9,675.1 345.3,675.9 347.7,672.7 349.3,671.1 351.7,675.9 355.0,677.5 359.0,679.1 363.0,678.6 365.4,678.3 368.6,676.7 371.1,674.3 373.5,678.3 375.1,681.2 377.5,681.2 379.9,682.4 382.3,684.8 384.8,683.2 387.2,682.8 389.6,680.8 392.0,678.3 394.4,676.7 396.8,677.5 399.3,676.7 401.7,678.3 404.1,676.7 407.3,678.3 410.5,679.9 413.8,680.3 417.0,681.5 420.2,683.2 423.4,678.3 426.6,676.7 429.9,677.5 433.1,675.9 436.3,681.2 439.5,678.3 441.9,677.5 444.4,681.2 446.0,682.4" fill="none" stroke="#ff00ff" stroke-width="2" stroke-linejoin="round"/>
<polyline points="535.6,666.2 538.0,667.0 540.5,670.3 542.9,675.1 545.3,674.3 547.7,675.9 550.1,675.9 552.5,671.9 555.0,671.6 557.4,671.1 559.3,679.9 561.9,678.3 563.8,675.9 565.8,678.0 568.3,675.1 570.3,673.2 572.7,677.5 575.1,674.3 577.0,672.7 579.1,675.9 581.2,673.5 583.2,678.3 585.6,677.5 587.7,673.5 589.9,668.7 592.0,673.5 594.4,676.7 596.4,675.9 598.5,672.7 600.9,675.9 603.3,678.3 605.7,676.7 608.1,675.9 609.7,674.3 611.8,678.3 613.8,679.9 616.2,679.9 618.3,673.5 620.2,675.1 622.3,680.8 624.7,675.1 626.7,679.1 629.1,679.9 631.5,678.3 633.9,675.9 636.3,673.5 638.7,677.5 640.8,678.3 642.8,675.9 645.2,673.5 647.3,672.2 649.5,671.1 651.6,673.5 654.0,675.1 656.5,672.7 658.5,678.3 660.5,673.5 662.9,681.5 665.3,682.4 667.7,679.1 670.1,679.9 672.6,679.9 675.0,679.1 677.4,678.3 679.8,676.7 681.8,674.3 683.9,671.9 685.9,672.2 687.9,669.5 690.3,671.9 692.7,671.1 695.1,673.5 696.7,678.3 699.1,678.3 701.6,680.8 704.0,680.8 706.4,680.3 708.8,679.9 711.2,681.2 713.6,676.7 716.1,679.1 718.5,678.3 720.1,680.8 722.5,681.5 724.9,682.4 727.3,675.9 729.8,673.5 732.2,672.2 733.8,676.7 735.4,670.3 737.5,667.4 739.4,673.5 741.8,677.5 744.3,674.3 746.7,676.7 749.1,677.5 751.5,677.5 753.9,677.5 756.3,676.7 758.8,672.7 761.2,673.5 763.6,676.7 766.0,678.3 768.4,678.3 770.8,676.7 772.5,671.9 774.5,678.3 776.5,676.7 778.9,678.3 781.3,680.8 783.7,675.1 786.1,677.5 788.6,678.3 791.0,679.9 794.0,671.9 796.4,675.1 798.9,679.9 801.0,675.9 802.9,678.3 805.3,679.9 807.7,680.8 810.1,678.3 811.8,677.5 814.2,680.8 816.6,682.4 819.0,679.9 821.4,681.5 823.8,680.8 826.2,682.4 828.7,675.9 831.1,673.5 833.5,675.9 835.9,681.5 838.0,682.4 839.9,679.1 842.4,679.1 844.5,677.5 846.4,681.5 848.3,679.1 850.4,682.4 852.8,681.5 855.2,678.3 857.7,676.7 860.1,674.3 862.5,675.1 864.9,672.7 867.3,671.9 869.7,666.2 872.2,663.8 874.6,670.3 877.0,675.9 878.9,679.9 881.0,673.5 883.4,672.7 885.9,675.1 888.3,675.9 890.7,675.9 893.1,679.1 895.5,679.9 897.9,678.3 900.4,678.3 902.8,680.8 905.2,677.5 907.6,676.7 910.0,675.9 912.4,674.3 914.4,679.1 916.5,678.3 918.5,673.5 920.5,675.1 922.9,672.7 925.3,672.7 927.7,673.5 930.1,674.3 932.6,672.7 935.0,674.3 937.4,675.1 939.8,676.7 942.2,675.9 944.3,671.9 946.3,669.5 948.7,676.7 951.1,672.7 953.5,671.1 955.9,672.7 958.3,670.3 960.8,668.7 962.7,667.0 964.8,670.3 966.9,667.9 969.1,669.5 971.2,671.1 973.6,671.1 976.1,671.9 978.2,674.3 980.1,669.5 982.5,671.9 984.9,661.4 987.3,668.7 989.8,673.5 992.2,668.7 994.6,667.9 997.0,669.5 999.1,675.1 1001.8,675.9 1004.3,677.5 1006.7,677.5 1009.1,679.1 1011.5,678.3 1013.9,678.3 1016.3,679.1 1018.8,676.7 1021.2,674.3 1023.6,672.7 1025.2,665.4 1027.6,673.5 1030.0,677.5 1032.5,679.9 1034.9,679.1 1037.3,678.3 1039.7,676.7 1042.1,680.8 1044.5,679.9 1047.0,679.9 1049.4,676.7 1051.8,672.7 1054.8,675.9 1057.2,672.7 1059.7,676.7 1062.1,678.3 1064.5,677.5 1066.1,679.9 1068.5,676.7 1070.1,670.3 1072.5,676.7 1075.0,673.5 1077.4,675.1 1079.0,676.7 1081.4,674.3 1083.8,670.3 1086.2,666.2 1088.7,665.4 1090.6,667.9 1092.2,663.0 1094.3,674.3 1096.7,679.9 1099.1,671.9 1101.2,663.8 1103.2,664.6 1105.6,667.0 1107.7,663.0 1109.9,673.5 1112.0,682.4 1114.4,679.1 1116.8,679.9 1119.3,679.9 1121.7,679.1 1124.1,680.8 1126.5,677.5 1128.9,681.5 1131.3,679.9 1133.8,675.9 1136.2,675.9 1138.6,673.2 1141.0,675.1 1143.4,678.3 1145.8,680.8 1148.3,679.1 1150.7,681.5 1153.1,675.9 1155.5,676.7 1157.6,681.5 1159.5,674.3 1162.0,675.1 1164.4,674.3 1166.3,682.4 1168.4,678.3 1170.8,675.9 1173.2,677.5 1175.7,678.3 1178.1,676.7 1180.5,673.5 1182.9,668.7 1185.3,666.2 1187.7,665.4 1190.2,663.0 1192.6,661.4 1194.2,660.6 1196.6,666.2 1199.0,671.9 1201.1,662.2 1203.0,679.1 1205.5,679.9 1207.9,678.3 1210.3,676.7 1212.7,676.7 1215.1,675.9 1217.5,679.1 1220.0,678.3 1222.4,675.9 1224.8,679.9 1227.2,679.1 1228.8,674.3 1231.2,679.1 1233.7,681.5 1236.1,681.5 1238.5,681.5 1240.1,676.7 1242.5,678.3 1244.9,677.5 1247.3,676.7 1249.8,679.1 1252.2,677.5 1254.6,679.1 1256.2,676.7 1258.6,674.3 1261.0,676.7 1263.5,681.5 1265.9,679.9 1268.3,682.4 1270.7,679.1 1273.1,679.1 1275.5,679.9 1277.1,672.7 1279.6,670.3 1282.0,670.3 1283.9,676.7 1286.0,668.7 1288.4,664.6 1290.8,663.0 1293.2,663.8 1295.7,671.9 1298.1,678.3 1300.5,679.9 1302.9,671.1 1305.3,667.9 1307.8,672.7 1310.2,675.1 1312.5,676.8 1314.2,678.5 1316.3,675.1 1318.4,680.1 1320.9,681.0 1323.4,680.1 1325.0,681.0 1327.5,677.6 1330.1,673.5 1332.6,672.6 1333.7,665.1 1335.9,671.8 1338.4,672.6 1340.1,679.3 1342.6,680.1 1345.1,681.0 1347.6,676.0 1350.1,675.1 1352.6,676.0 1355.1,673.5 1357.6,678.5 1360.2,676.8 1362.2,674.3 1363.8,663.1 1366.0,674.3 1368.5,676.0 1371.0,677.6 1373.5,680.1 1376.0,677.6 1378.5,675.1 1381.0,674.3 1383.5,676.0 1386.1,676.8 1388.6,676.0 1390.2,671.0 1392.8,673.5 1393.9,665.1 1396.1,671.8 1398.6,665.9 1401.1,667.6 1403.3,671.0 1405.3,681.8 1407.8,679.3 1410.3,678.5 1412.3,673.5 1414.5,665.9 1416.7,662.6 1418.7,663.4 1421.2,662.6 1423.7,669.3 1426.2,662.6 1428.7,661.8 1431.2,664.3 1432.9,674.3 1435.0,674.3 1437.0,666.8 1439.0,673.5 1441.2,680.1 1443.7,681.0 1445.7,681.8 1447.4,677.6 1449.6,681.8 1451.3,681.0 1453.4,672.6 1455.4,678.5 1457.4,671.0 1459.6,675.1 1461.8,670.1 1464.1,665.1 1466.3,661.8 1468.8,661.8 1470.8,663.4 1473.0,678.5 1475.2,682.7 1477.2,674.3 1479.2,666.8 1481.3,673.5 1483.8,679.3 1486.4,678.5 1488.0,663.4 1490.2,670.1 1492.2,663.4 1494.7,665.1 1496.9,671.8 1498.9,681.8 1501.4,681.8 1503.9,676.8 1505.9,672.6 1508.1,673.5 1510.6,674.3 1513.1,676.0 1515.6,679.3 1518.1,677.6 1520.6,680.1 1523.1,680.1 1525.7,679.3 1528.2,676.8 1530.7,674.3 1533.2,671.8 1535.7,673.5 1537.7,670.1 1539.9,665.1 1542.4,668.5 1544.9,672.6 1547.4,670.1 1549.9,674.3 1552.4,677.6 1554.9,678.5 1557.4,679.3 1559.9,681.0 1562.4,681.0 1564.9,680.1 1567.4,677.6 1569.1,672.6 1571.1,678.5 1573.3,676.8 1575.8,680.1 1577.5,679.3" fill="none" stroke="#ff00ff" stroke-width="2" stroke-linejoin="round"/>
<text x="-0.30" y="836.80" font-size="39.5" text-anchor="start" fill="#000">B</text>
<rect x="62.5" y="824.7" width="1562.3" height="44.8" fill="none" stroke="#000" stroke-width="2.9"/>
<text x="821.50" y="862.20" font-size="39" text-anchor="middle" fill="#000">Pre</text>
<line x1="105.70" y1="931.40" x2="105.70" y2="1072.50" stroke="#1a1a1a" stroke-width="2"/>
<line x1="97.10" y1="932.30" x2="105.70" y2="932.30" stroke="#1a1a1a" stroke-width="2"/>
<text transform="translate(81.90 938.90) scale(1 1.1)" font-size="22" text-anchor="end">10</text>
<text transform="translate(81.50 931.50) scale(1 1.04)" font-size="14">-1</text>
<line x1="97.10" y1="978.73" x2="105.70" y2="978.73" stroke="#1a1a1a" stroke-width="2"/>
<text transform="translate(81.90 985.33) scale(1 1.1)" font-size="22" text-anchor="end">10</text>
<text transform="translate(81.50 977.93) scale(1 1.04)" font-size="14">-2</text>
<line x1="97.10" y1="1025.17" x2="105.70" y2="1025.17" stroke="#1a1a1a" stroke-width="2"/>
<text transform="translate(81.90 1031.77) scale(1 1.1)" font-size="22" text-anchor="end">10</text>
<text transform="translate(81.50 1024.37) scale(1 1.04)" font-size="14">-3</text>
<line x1="97.10" y1="1071.60" x2="105.70" y2="1071.60" stroke="#1a1a1a" stroke-width="2"/>
<text transform="translate(81.90 1078.20) scale(1 1.1)" font-size="22" text-anchor="end">10</text>
<text transform="translate(81.50 1070.80) scale(1 1.04)" font-size="14">-4</text>
<line x1="101.20" y1="964.76" x2="105.70" y2="964.76" stroke="#1a1a1a" stroke-width="1.7"/>
<line x1="101.20" y1="956.58" x2="105.70" y2="956.58" stroke="#1a1a1a" stroke-width="1.7"/>
<line x1="101.20" y1="950.78" x2="105.70" y2="950.78" stroke="#1a1a1a" stroke-width="1.7"/>
<line x1="101.20" y1="946.28" x2="105.70" y2="946.28" stroke="#1a1a1a" stroke-width="1.7"/>
<line x1="101.20" y1="942.60" x2="105.70" y2="942.60" stroke="#1a1a1a" stroke-width="1.7"/>
<line x1="101.20" y1="939.49" x2="105.70" y2="939.49" stroke="#1a1a1a" stroke-width="1.7"/>
<line x1="101.20" y1="936.80" x2="105.70" y2="936.80" stroke="#1a1a1a" stroke-width="1.7"/>
<line x1="101.20" y1="934.42" x2="105.70" y2="934.42" stroke="#1a1a1a" stroke-width="1.7"/>
<line x1="101.20" y1="1011.19" x2="105.70" y2="1011.19" stroke="#1a1a1a" stroke-width="1.7"/>
<line x1="101.20" y1="1003.01" x2="105.70" y2="1003.01" stroke="#1a1a1a" stroke-width="1.7"/>
<line x1="101.20" y1="997.21" x2="105.70" y2="997.21" stroke="#1a1a1a" stroke-width="1.7"/>
<line x1="101.20" y1="992.71" x2="105.70" y2="992.71" stroke="#1a1a1a" stroke-width="1.7"/>
<line x1="101.20" y1="989.03" x2="105.70" y2="989.03" stroke="#1a1a1a" stroke-width="1.7"/>
<line x1="101.20" y1="985.93" x2="105.70" y2="985.93" stroke="#1a1a1a" stroke-width="1.7"/>
<line x1="101.20" y1="983.23" x2="105.70" y2="983.23" stroke="#1a1a1a" stroke-width="1.7"/>
<line x1="101.20" y1="980.86" x2="105.70" y2="980.86" stroke="#1a1a1a" stroke-width="1.7"/>
<line x1="101.20" y1="1057.62" x2="105.70" y2="1057.62" stroke="#1a1a1a" stroke-width="1.7"/>
<line x1="101.20" y1="1049.45" x2="105.70" y2="1049.45" stroke="#1a1a1a" stroke-width="1.7"/>
<line x1="101.20" y1="1043.64" x2="105.70" y2="1043.64" stroke="#1a1a1a" stroke-width="1.7"/>
<line x1="101.20" y1="1039.14" x2="105.70" y2="1039.14" stroke="#1a1a1a" stroke-width="1.7"/>
<line x1="101.20" y1="1035.47" x2="105.70" y2="1035.47" stroke="#1a1a1a" stroke-width="1.7"/>
<line x1="101.20" y1="1032.36" x2="105.70" y2="1032.36" stroke="#1a1a1a" stroke-width="1.7"/>
<line x1="101.20" y1="1029.67" x2="105.70" y2="1029.67" stroke="#1a1a1a" stroke-width="1.7"/>
<line x1="101.20" y1="1027.29" x2="105.70" y2="1027.29" stroke="#1a1a1a" stroke-width="1.7"/>
<line x1="97.10" y1="1071.60" x2="292.40" y2="1071.60" stroke="#1a1a1a" stroke-width="2"/>
<line x1="105.70" y1="1071.60" x2="105.70" y2="1079.60" stroke="#1a1a1a" stroke-width="2"/>
<line x1="126.34" y1="1071.60" x2="126.34" y2="1079.60" stroke="#1a1a1a" stroke-width="2"/>
<line x1="146.99" y1="1071.60" x2="146.99" y2="1079.60" stroke="#1a1a1a" stroke-width="2"/>
<line x1="167.63" y1="1071.60" x2="167.63" y2="1079.60" stroke="#1a1a1a" stroke-width="2"/>
<line x1="188.28" y1="1071.60" x2="188.28" y2="1079.60" stroke="#1a1a1a" stroke-width="2"/>
<line x1="208.92" y1="1071.60" x2="208.92" y2="1079.60" stroke="#1a1a1a" stroke-width="2"/>
<line x1="229.57" y1="1071.60" x2="229.57" y2="1079.60" stroke="#1a1a1a" stroke-width="2"/>
<line x1="250.21" y1="1071.60" x2="250.21" y2="1079.60" stroke="#1a1a1a" stroke-width="2"/>
<line x1="270.86" y1="1071.60" x2="270.86" y2="1079.60" stroke="#1a1a1a" stroke-width="2"/>
<line x1="291.50" y1="1071.60" x2="291.50" y2="1079.60" stroke="#1a1a1a" stroke-width="2"/>
<text x="105.70" y="1100.20" font-size="22" text-anchor="middle" fill="#000">0</text>
<text x="167.63" y="1100.20" font-size="22" text-anchor="middle" fill="#000">15</text>
<text x="229.57" y="1100.20" font-size="22" text-anchor="middle" fill="#000">30</text>
<text x="291.50" y="1100.20" font-size="22" text-anchor="middle" fill="#000">45</text>
<text x="200.80" y="918.20" font-size="26" text-anchor="middle" fill="#000">PL</text>
<polygon points="109.8,956.1 110.8,957.3 111.8,958.5 112.9,959.7 113.9,960.9 114.9,962.1 115.9,963.3 116.9,964.6 117.9,965.9 118.9,967.3 119.9,968.6 120.9,969.7 122.0,970.5 123.0,971.1 124.0,971.5 125.0,971.9 126.0,972.3 127.0,972.7 128.0,973.0 129.0,973.5 130.0,974.0 131.0,974.5 132.1,975.2 133.1,975.8 134.1,976.6 135.1,977.4 136.1,978.3 137.1,979.5 138.1,980.9 139.1,982.5 140.1,984.1 141.1,985.6 142.2,987.0 143.2,988.1 144.2,989.0 145.2,989.8 146.2,990.5 147.2,991.2 148.2,991.9 149.2,992.7 150.2,993.4 151.3,994.3 152.3,995.2 153.3,996.1 154.3,997.1 155.3,998.2 156.3,999.3 157.3,1000.4 158.3,1001.5 159.3,1002.6 160.3,1003.7 161.4,1004.7 162.4,1005.8 163.4,1006.9 164.4,1007.9 165.4,1008.9 166.4,1009.8 167.4,1010.7 168.4,1011.4 169.4,1012.1 170.4,1012.9 171.5,1013.6 172.5,1014.3 173.5,1015.0 174.5,1015.7 175.5,1016.4 176.5,1017.0 177.5,1017.6 178.5,1018.3 179.5,1018.7 180.6,1019.4 181.6,1020.0 182.6,1020.6 183.6,1021.0 184.6,1021.6 185.6,1022.1 186.6,1022.7 187.6,1023.3 188.6,1023.8 189.6,1024.4 190.7,1024.8 191.7,1025.3 192.7,1025.8 193.7,1026.3 194.7,1026.8 195.7,1027.3 196.7,1028.0 197.7,1028.6 198.7,1029.0 199.7,1029.3 200.8,1029.8 201.8,1030.3 202.8,1030.9 203.8,1031.4 204.8,1031.9 205.8,1032.4 206.8,1032.9 207.8,1033.2 208.8,1033.5 209.8,1033.9 210.9,1034.4 211.9,1034.7 212.9,1035.1 213.9,1035.6 214.9,1036.0 215.9,1036.1 216.9,1036.3 217.9,1036.8 218.9,1037.1 220.0,1037.3 221.0,1037.3 222.0,1037.7 223.0,1038.1 224.0,1038.4 225.0,1038.4 226.0,1038.5 227.0,1038.7 228.0,1039.2 229.0,1039.7 230.1,1040.1 231.1,1040.1 232.1,1040.2 233.1,1040.3 234.1,1040.5 235.1,1040.6 236.1,1040.8 237.1,1041.1 238.1,1041.3 239.1,1041.4 240.2,1041.3 241.2,1041.9 242.2,1042.2 243.2,1042.3 244.2,1042.1 245.2,1042.2 246.2,1042.6 247.2,1042.7 248.2,1042.7 249.3,1043.3 250.3,1043.4 251.3,1043.7 252.3,1043.6 253.3,1043.6 254.3,1043.6 255.3,1043.8 256.3,1044.2 257.3,1044.7 258.3,1044.7 259.4,1044.7 260.4,1044.6 261.4,1044.6 262.4,1044.8 263.4,1044.8 264.4,1044.8 265.4,1044.9 266.4,1044.9 267.4,1044.9 268.4,1045.1 269.5,1045.2 270.5,1045.5 271.5,1045.6 272.5,1045.8 273.5,1045.8 274.5,1045.8 275.5,1046.0 276.5,1046.4 277.5,1046.4 278.6,1046.3 279.6,1046.2 280.6,1046.5 281.6,1046.6 282.6,1046.4 283.6,1046.5 284.6,1046.3 285.6,1046.2 286.6,1045.9 287.6,1046.5 288.7,1047.0 289.7,1047.5 290.7,1047.4 290.7,1054.4 289.7,1054.5 288.7,1053.9 287.6,1053.4 286.6,1052.8 285.6,1053.0 284.6,1053.1 283.6,1053.3 282.6,1053.2 281.6,1053.3 280.6,1053.3 279.6,1052.9 278.6,1053.0 277.5,1053.1 276.5,1053.0 275.5,1052.6 274.5,1052.4 273.5,1052.3 272.5,1052.4 271.5,1052.1 270.5,1051.9 269.5,1051.7 268.4,1051.5 267.4,1051.3 266.4,1051.3 265.4,1051.2 264.4,1051.1 263.4,1051.1 262.4,1051.1 261.4,1050.9 260.4,1050.8 259.4,1051.0 258.3,1050.9 257.3,1050.8 256.3,1050.3 255.3,1049.9 254.3,1049.7 253.3,1049.7 252.3,1049.6 251.3,1049.7 250.3,1049.4 249.3,1049.3 248.2,1048.6 247.2,1048.6 246.2,1048.4 245.2,1048.1 244.2,1047.9 243.2,1048.1 242.2,1048.0 241.2,1047.7 240.2,1047.0 239.1,1047.1 238.1,1047.0 237.1,1046.8 236.1,1046.4 235.1,1046.2 234.1,1046.1 233.1,1045.8 232.1,1045.7 231.1,1045.6 230.1,1045.6 229.0,1045.1 228.0,1044.6 227.0,1044.1 226.0,1043.9 225.0,1043.8 224.0,1043.7 223.0,1043.4 222.0,1043.0 221.0,1042.6 220.0,1042.5 218.9,1042.3 217.9,1041.9 216.9,1041.5 215.9,1041.3 214.9,1041.1 213.9,1040.7 212.9,1040.2 211.9,1039.8 210.9,1039.4 209.8,1038.9 208.8,1038.5 207.8,1038.1 206.8,1037.8 205.8,1037.3 204.8,1036.8 203.8,1036.2 202.8,1035.7 201.8,1035.1 200.8,1034.6 199.7,1034.1 198.7,1033.7 197.7,1033.2 196.7,1032.7 195.7,1032.0 194.7,1031.4 193.7,1030.9 192.7,1030.3 191.7,1029.9 190.7,1029.3 189.6,1028.9 188.6,1028.3 187.6,1027.7 186.6,1027.1 185.6,1026.5 184.6,1025.9 183.6,1025.3 182.6,1024.9 181.6,1024.2 180.6,1023.7 179.5,1022.9 178.5,1022.5 177.5,1021.8 176.5,1021.2 175.5,1020.5 174.5,1019.8 173.5,1019.1 172.5,1018.4 171.5,1017.7 170.4,1016.9 169.4,1016.1 168.4,1015.3 167.4,1014.6 166.4,1013.7 165.4,1012.8 164.4,1011.8 163.4,1010.7 162.4,1009.6 161.4,1008.5 160.3,1007.4 159.3,1006.3 158.3,1005.2 157.3,1004.0 156.3,1002.9 155.3,1001.8 154.3,1000.7 153.3,999.7 152.3,998.7 151.3,997.8 150.2,996.9 149.2,996.1 148.2,995.4 147.2,994.7 146.2,993.9 145.2,993.2 144.2,992.3 143.2,991.4 142.2,990.3 141.1,988.9 140.1,987.4 139.1,985.7 138.1,984.1 137.1,982.7 136.1,981.5 135.1,980.5 134.1,979.7 133.1,978.9 132.1,978.2 131.0,977.6 130.0,977.0 129.0,976.4 128.0,976.0 127.0,975.6 126.0,975.2 125.0,974.8 124.0,974.4 123.0,973.9 122.0,973.3 120.9,972.5 119.9,971.3 118.9,970.0 117.9,968.6 116.9,967.3 115.9,966.0 114.9,964.7 113.9,963.5 112.9,962.3 111.8,961.1 110.8,959.8 109.8,958.6" fill="#0aad0a" fill-opacity="0.18" stroke="none"/>
<polyline points="109.8,957.4 110.8,958.6 111.8,959.8 112.9,961.0 113.9,962.2 114.9,963.4 115.9,964.6 116.9,965.9 117.9,967.3 118.9,968.7 119.9,970.0 120.9,971.1 122.0,971.9 123.0,972.5 124.0,973.0 125.0,973.4 126.0,973.8 127.0,974.1 128.0,974.5 129.0,975.0 130.0,975.5 131.0,976.1 132.1,976.7 133.1,977.4 134.1,978.1 135.1,979.0 136.1,979.9 137.1,981.1 138.1,982.5 139.1,984.1 140.1,985.7 141.1,987.3 142.2,988.6 143.2,989.7 144.2,990.6 145.2,991.5 146.2,992.2 147.2,993.0 148.2,993.7 149.2,994.4 150.2,995.2 151.3,996.0 152.3,997.0 153.3,997.9 154.3,998.9 155.3,1000.0 156.3,1001.1 157.3,1002.2 158.3,1003.3 159.3,1004.4 160.3,1005.5 161.4,1006.6 162.4,1007.7 163.4,1008.8 164.4,1009.8 165.4,1010.8 166.4,1011.8 167.4,1012.6 168.4,1013.4 169.4,1014.1 170.4,1014.9 171.5,1015.7 172.5,1016.3 173.5,1017.0 174.5,1017.7 175.5,1018.4 176.5,1019.1 177.5,1019.7 178.5,1020.4 179.5,1020.8 180.6,1021.5 181.6,1022.1 182.6,1022.7 183.6,1023.2 184.6,1023.7 185.6,1024.3 186.6,1024.9 187.6,1025.5 188.6,1026.1 189.6,1026.6 190.7,1027.0 191.7,1027.6 192.7,1028.0 193.7,1028.6 194.7,1029.1 195.7,1029.7 196.7,1030.4 197.7,1030.9 198.7,1031.4 199.7,1031.7 200.8,1032.2 201.8,1032.7 202.8,1033.3 203.8,1033.8 204.8,1034.4 205.8,1034.9 206.8,1035.4 207.8,1035.6 208.8,1036.0 209.8,1036.4 210.9,1036.9 211.9,1037.2 212.9,1037.6 213.9,1038.1 214.9,1038.5 215.9,1038.7 216.9,1038.9 217.9,1039.4 218.9,1039.7 220.0,1039.9 221.0,1040.0 222.0,1040.3 223.0,1040.8 224.0,1041.1 225.0,1041.1 226.0,1041.2 227.0,1041.4 228.0,1041.9 229.0,1042.4 230.1,1042.9 231.1,1042.9 232.1,1042.9 233.1,1043.1 234.1,1043.3 235.1,1043.4 236.1,1043.6 237.1,1044.0 238.1,1044.2 239.1,1044.2 240.2,1044.2 241.2,1044.8 242.2,1045.1 243.2,1045.2 244.2,1045.0 245.2,1045.1 246.2,1045.5 247.2,1045.7 248.2,1045.7 249.3,1046.3 250.3,1046.4 251.3,1046.7 252.3,1046.6 253.3,1046.6 254.3,1046.7 255.3,1046.9 256.3,1047.2 257.3,1047.8 258.3,1047.8 259.4,1047.9 260.4,1047.7 261.4,1047.8 262.4,1047.9 263.4,1047.9 264.4,1048.0 265.4,1048.0 266.4,1048.1 267.4,1048.1 268.4,1048.3 269.5,1048.4 270.5,1048.7 271.5,1048.8 272.5,1049.1 273.5,1049.0 274.5,1049.1 275.5,1049.3 276.5,1049.7 277.5,1049.7 278.6,1049.6 279.6,1049.5 280.6,1049.9 281.6,1049.9 282.6,1049.8 283.6,1049.9 284.6,1049.7 285.6,1049.6 286.6,1049.3 287.6,1050.0 288.7,1050.5 289.7,1051.0 290.7,1050.9" fill="none" stroke="#0aad0a" stroke-width="2.2" stroke-linejoin="round"/>
<polygon points="109.8,951.0 110.8,953.1 111.8,955.2 112.9,957.2 113.9,959.3 114.9,961.3 115.9,963.3 116.9,965.3 117.9,967.5 118.9,969.7 119.9,971.8 120.9,973.5 122.0,974.8 123.0,975.8 124.0,976.6 125.0,977.3 126.0,977.9 127.0,978.6 128.0,979.2 129.0,979.9 130.0,980.5 131.0,981.1 132.1,981.7 133.1,982.6 134.1,983.7 135.1,985.2 136.1,987.0 137.1,988.8 138.1,990.6 139.1,992.3 140.1,993.8 141.1,995.0 142.2,996.2 143.2,997.4 144.2,998.5 145.2,999.6 146.2,1000.6 147.2,1001.6 148.2,1002.6 149.2,1003.6 150.2,1004.5 151.3,1005.5 152.3,1006.4 153.3,1007.2 154.3,1008.0 155.3,1008.8 156.3,1009.5 157.3,1010.2 158.3,1010.9 159.3,1011.6 160.3,1012.2 161.4,1012.9 162.4,1013.5 163.4,1014.1 164.4,1014.7 165.4,1015.3 166.4,1015.9 167.4,1016.4 168.4,1017.0 169.4,1017.5 170.4,1018.1 171.5,1018.7 172.5,1019.3 173.5,1019.9 174.5,1020.4 175.5,1020.9 176.5,1021.5 177.5,1022.0 178.5,1022.5 179.5,1023.1 180.6,1023.6 181.6,1024.2 182.6,1024.7 183.6,1025.3 184.6,1025.7 185.6,1026.2 186.6,1026.7 187.6,1027.2 188.6,1027.6 189.6,1028.0 190.7,1028.4 191.7,1028.9 192.7,1029.3 193.7,1029.7 194.7,1030.0 195.7,1030.3 196.7,1030.6 197.7,1031.0 198.7,1031.3 199.7,1031.7 200.8,1032.0 201.8,1032.3 202.8,1032.7 203.8,1032.8 204.8,1033.3 205.8,1033.6 206.8,1034.0 207.8,1034.2 208.8,1034.5 209.8,1034.6 210.9,1034.8 211.9,1035.1 212.9,1035.5 213.9,1035.8 214.9,1035.9 215.9,1036.2 216.9,1036.5 217.9,1036.7 218.9,1036.8 220.0,1036.8 221.0,1037.2 222.0,1037.4 223.0,1037.6 224.0,1037.6 225.0,1038.2 226.0,1038.8 227.0,1039.0 228.0,1039.2 229.0,1039.2 230.1,1039.7 231.1,1039.8 232.1,1040.0 233.1,1040.1 234.1,1040.2 235.1,1040.5 236.1,1040.9 237.1,1041.2 238.1,1041.5 239.1,1041.5 240.2,1041.6 241.2,1041.5 242.2,1041.6 243.2,1041.9 244.2,1042.1 245.2,1042.3 246.2,1042.2 247.2,1042.6 248.2,1042.9 249.3,1043.1 250.3,1043.2 251.3,1043.1 252.3,1043.2 253.3,1043.4 254.3,1043.6 255.3,1043.6 256.3,1043.9 257.3,1044.0 258.3,1044.7 259.4,1044.2 260.4,1044.1 261.4,1043.5 262.4,1044.1 263.4,1044.6 264.4,1044.8 265.4,1044.8 266.4,1044.8 267.4,1044.6 268.4,1044.4 269.5,1044.2 270.5,1044.6 271.5,1045.3 272.5,1045.5 273.5,1045.5 274.5,1045.0 275.5,1045.0 276.5,1045.2 277.5,1045.6 278.6,1046.0 279.6,1045.8 280.6,1045.8 281.6,1045.8 282.6,1045.9 283.6,1045.9 284.6,1046.0 285.6,1046.2 286.6,1046.3 287.6,1046.3 288.7,1046.2 289.7,1046.1 290.7,1046.2 290.7,1051.2 289.7,1051.1 288.7,1051.2 287.6,1051.3 286.6,1051.2 285.6,1051.1 284.6,1050.9 283.6,1050.8 282.6,1050.8 281.6,1050.6 280.6,1050.7 279.6,1050.6 278.6,1050.8 277.5,1050.4 276.5,1050.0 275.5,1049.8 274.5,1049.8 273.5,1050.3 272.5,1050.2 271.5,1050.1 270.5,1049.3 269.5,1048.9 268.4,1049.1 267.4,1049.3 266.4,1049.5 265.4,1049.4 264.4,1049.5 263.4,1049.2 262.4,1048.7 261.4,1048.1 260.4,1048.7 259.4,1048.8 258.3,1049.2 257.3,1048.5 256.3,1048.4 255.3,1048.1 254.3,1048.0 253.3,1047.9 252.3,1047.7 251.3,1047.5 250.3,1047.6 249.3,1047.5 248.2,1047.3 247.2,1047.0 246.2,1046.6 245.2,1046.6 244.2,1046.4 243.2,1046.2 242.2,1045.9 241.2,1045.8 240.2,1045.8 239.1,1045.8 238.1,1045.7 237.1,1045.5 236.1,1045.1 235.1,1044.7 234.1,1044.4 233.1,1044.3 232.1,1044.1 231.1,1044.0 230.1,1043.8 229.0,1043.4 228.0,1043.3 227.0,1043.1 226.0,1042.9 225.0,1042.3 224.0,1041.7 223.0,1041.7 222.0,1041.4 221.0,1041.2 220.0,1040.8 218.9,1040.7 217.9,1040.7 216.9,1040.4 215.9,1040.1 214.9,1039.9 213.9,1039.7 212.9,1039.4 211.9,1039.0 210.9,1038.6 209.8,1038.4 208.8,1038.3 207.8,1038.0 206.8,1037.8 205.8,1037.4 204.8,1037.1 203.8,1036.6 202.8,1036.4 201.8,1036.0 200.8,1035.7 199.7,1035.4 198.7,1035.0 197.7,1034.7 196.7,1034.3 195.7,1034.0 194.7,1033.6 193.7,1033.3 192.7,1032.9 191.7,1032.5 190.7,1031.9 189.6,1031.5 188.6,1031.2 187.6,1030.8 186.6,1030.3 185.6,1029.7 184.6,1029.2 183.6,1028.8 182.6,1028.2 181.6,1027.7 180.6,1027.0 179.5,1026.5 178.5,1026.0 177.5,1025.4 176.5,1024.8 175.5,1024.3 174.5,1023.8 173.5,1023.2 172.5,1022.6 171.5,1022.0 170.4,1021.4 169.4,1020.8 168.4,1020.2 167.4,1019.7 166.4,1019.1 165.4,1018.6 164.4,1017.9 163.4,1017.3 162.4,1016.7 161.4,1016.1 160.3,1015.4 159.3,1014.8 158.3,1014.1 157.3,1013.4 156.3,1012.6 155.3,1011.9 154.3,1011.1 153.3,1010.3 152.3,1009.4 151.3,1008.5 150.2,1007.6 149.2,1006.6 148.2,1005.6 147.2,1004.6 146.2,1003.6 145.2,1002.5 144.2,1001.4 143.2,1000.3 142.2,999.2 141.1,997.9 140.1,996.6 139.1,995.2 138.1,993.5 137.1,991.7 136.1,989.8 135.1,988.1 134.1,986.5 133.1,985.3 132.1,984.5 131.0,983.8 130.0,983.2 129.0,982.6 128.0,982.0 127.0,981.3 126.0,980.6 125.0,980.0 124.0,979.2 123.0,978.4 122.0,977.4 120.9,976.1 119.9,974.4 118.9,972.3 117.9,970.1 116.9,967.9 115.9,965.8 114.9,963.8 113.9,961.8 112.9,959.7 111.8,957.7 110.8,955.6 109.8,953.5" fill="#ff00ff" fill-opacity="0.18" stroke="none"/>
<polyline points="109.8,952.3 110.8,954.4 111.8,956.4 112.9,958.5 113.9,960.5 114.9,962.5 115.9,964.5 116.9,966.6 117.9,968.8 118.9,971.0 119.9,973.1 120.9,974.8 122.0,976.1 123.0,977.1 124.0,977.9 125.0,978.6 126.0,979.3 127.0,979.9 128.0,980.6 129.0,981.3 130.0,981.8 131.0,982.4 132.1,983.1 133.1,983.9 134.1,985.1 135.1,986.7 136.1,988.4 137.1,990.2 138.1,992.1 139.1,993.8 140.1,995.2 141.1,996.5 142.2,997.7 143.2,998.9 144.2,1000.0 145.2,1001.0 146.2,1002.1 147.2,1003.1 148.2,1004.1 149.2,1005.1 150.2,1006.0 151.3,1007.0 152.3,1007.9 153.3,1008.7 154.3,1009.6 155.3,1010.3 156.3,1011.1 157.3,1011.8 158.3,1012.5 159.3,1013.2 160.3,1013.8 161.4,1014.5 162.4,1015.1 163.4,1015.7 164.4,1016.3 165.4,1017.0 166.4,1017.5 167.4,1018.0 168.4,1018.6 169.4,1019.2 170.4,1019.8 171.5,1020.3 172.5,1020.9 173.5,1021.5 174.5,1022.1 175.5,1022.6 176.5,1023.2 177.5,1023.7 178.5,1024.3 179.5,1024.8 180.6,1025.3 181.6,1025.9 182.6,1026.5 183.6,1027.0 184.6,1027.4 185.6,1028.0 186.6,1028.5 187.6,1029.0 188.6,1029.4 189.6,1029.8 190.7,1030.1 191.7,1030.7 192.7,1031.1 193.7,1031.5 194.7,1031.8 195.7,1032.2 196.7,1032.5 197.7,1032.8 198.7,1033.2 199.7,1033.5 200.8,1033.9 201.8,1034.1 202.8,1034.5 203.8,1034.7 204.8,1035.2 205.8,1035.5 206.8,1035.9 207.8,1036.1 208.8,1036.4 209.8,1036.5 210.9,1036.7 211.9,1037.1 212.9,1037.5 213.9,1037.8 214.9,1037.9 215.9,1038.1 216.9,1038.4 217.9,1038.7 218.9,1038.7 220.0,1038.8 221.0,1039.2 222.0,1039.4 223.0,1039.7 224.0,1039.6 225.0,1040.3 226.0,1040.8 227.0,1041.1 228.0,1041.2 229.0,1041.3 230.1,1041.7 231.1,1041.9 232.1,1042.0 233.1,1042.2 234.1,1042.3 235.1,1042.6 236.1,1043.0 237.1,1043.4 238.1,1043.6 239.1,1043.6 240.2,1043.7 241.2,1043.6 242.2,1043.8 243.2,1044.0 244.2,1044.2 245.2,1044.4 246.2,1044.4 247.2,1044.8 248.2,1045.1 249.3,1045.3 250.3,1045.4 251.3,1045.3 252.3,1045.4 253.3,1045.7 254.3,1045.8 255.3,1045.8 256.3,1046.1 257.3,1046.3 258.3,1046.9 259.4,1046.5 260.4,1046.4 261.4,1045.8 262.4,1046.4 263.4,1046.9 264.4,1047.2 265.4,1047.1 266.4,1047.2 267.4,1046.9 268.4,1046.7 269.5,1046.5 270.5,1047.0 271.5,1047.7 272.5,1047.8 273.5,1047.9 274.5,1047.4 275.5,1047.4 276.5,1047.6 277.5,1048.0 278.6,1048.4 279.6,1048.2 280.6,1048.3 281.6,1048.2 282.6,1048.3 283.6,1048.4 284.6,1048.4 285.6,1048.6 286.6,1048.7 287.6,1048.8 288.7,1048.7 289.7,1048.6 290.7,1048.7" fill="none" stroke="#ff00ff" stroke-width="2.2" stroke-linejoin="round"/>
<line x1="374.00" y1="931.40" x2="374.00" y2="1072.50" stroke="#1a1a1a" stroke-width="2"/>
<line x1="365.40" y1="932.30" x2="374.00" y2="932.30" stroke="#1a1a1a" stroke-width="2"/>
<text transform="translate(350.20 938.90) scale(1 1.1)" font-size="22" text-anchor="end">10</text>
<text transform="translate(349.80 931.50) scale(1 1.04)" font-size="14">-1</text>
<line x1="365.40" y1="978.73" x2="374.00" y2="978.73" stroke="#1a1a1a" stroke-width="2"/>
<text transform="translate(350.20 985.33) scale(1 1.1)" font-size="22" text-anchor="end">10</text>
<text transform="translate(349.80 977.93) scale(1 1.04)" font-size="14">-2</text>
<line x1="365.40" y1="1025.17" x2="374.00" y2="1025.17" stroke="#1a1a1a" stroke-width="2"/>
<text transform="translate(350.20 1031.77) scale(1 1.1)" font-size="22" text-anchor="end">10</text>
<text transform="translate(349.80 1024.37) scale(1 1.04)" font-size="14">-3</text>
<line x1="365.40" y1="1071.60" x2="374.00" y2="1071.60" stroke="#1a1a1a" stroke-width="2"/>
<text transform="translate(350.20 1078.20) scale(1 1.1)" font-size="22" text-anchor="end">10</text>
<text transform="translate(349.80 1070.80) scale(1 1.04)" font-size="14">-4</text>
<line x1="369.50" y1="964.76" x2="374.00" y2="964.76" stroke="#1a1a1a" stroke-width="1.7"/>
<line x1="369.50" y1="956.58" x2="374.00" y2="956.58" stroke="#1a1a1a" stroke-width="1.7"/>
<line x1="369.50" y1="950.78" x2="374.00" y2="950.78" stroke="#1a1a1a" stroke-width="1.7"/>
<line x1="369.50" y1="946.28" x2="374.00" y2="946.28" stroke="#1a1a1a" stroke-width="1.7"/>
<line x1="369.50" y1="942.60" x2="374.00" y2="942.60" stroke="#1a1a1a" stroke-width="1.7"/>
<line x1="369.50" y1="939.49" x2="374.00" y2="939.49" stroke="#1a1a1a" stroke-width="1.7"/>
<line x1="369.50" y1="936.80" x2="374.00" y2="936.80" stroke="#1a1a1a" stroke-width="1.7"/>
<line x1="369.50" y1="934.42" x2="374.00" y2="934.42" stroke="#1a1a1a" stroke-width="1.7"/>
<line x1="369.50" y1="1011.19" x2="374.00" y2="1011.19" stroke="#1a1a1a" stroke-width="1.7"/>
<line x1="369.50" y1="1003.01" x2="374.00" y2="1003.01" stroke="#1a1a1a" stroke-width="1.7"/>
<line x1="369.50" y1="997.21" x2="374.00" y2="997.21" stroke="#1a1a1a" stroke-width="1.7"/>
<line x1="369.50" y1="992.71" x2="374.00" y2="992.71" stroke="#1a1a1a" stroke-width="1.7"/>
<line x1="369.50" y1="989.03" x2="374.00" y2="989.03" stroke="#1a1a1a" stroke-width="1.7"/>
<line x1="369.50" y1="985.93" x2="374.00" y2="985.93" stroke="#1a1a1a" stroke-width="1.7"/>
<line x1="369.50" y1="983.23" x2="374.00" y2="983.23" stroke="#1a1a1a" stroke-width="1.7"/>
<line x1="369.50" y1="980.86" x2="374.00" y2="980.86" stroke="#1a1a1a" stroke-width="1.7"/>
<line x1="369.50" y1="1057.62" x2="374.00" y2="1057.62" stroke="#1a1a1a" stroke-width="1.7"/>
<line x1="369.50" y1="1049.45" x2="374.00" y2="1049.45" stroke="#1a1a1a" stroke-width="1.7"/>
<line x1="369.50" y1="1043.64" x2="374.00" y2="1043.64" stroke="#1a1a1a" stroke-width="1.7"/>
<line x1="369.50" y1="1039.14" x2="374.00" y2="1039.14" stroke="#1a1a1a" stroke-width="1.7"/>
<line x1="369.50" y1="1035.47" x2="374.00" y2="1035.47" stroke="#1a1a1a" stroke-width="1.7"/>
<line x1="369.50" y1="1032.36" x2="374.00" y2="1032.36" stroke="#1a1a1a" stroke-width="1.7"/>
<line x1="369.50" y1="1029.67" x2="374.00" y2="1029.67" stroke="#1a1a1a" stroke-width="1.7"/>
<line x1="369.50" y1="1027.29" x2="374.00" y2="1027.29" stroke="#1a1a1a" stroke-width="1.7"/>
<line x1="365.40" y1="1071.60" x2="560.70" y2="1071.60" stroke="#1a1a1a" stroke-width="2"/>
<line x1="374.00" y1="1071.60" x2="374.00" y2="1079.60" stroke="#1a1a1a" stroke-width="2"/>
<line x1="394.64" y1="1071.60" x2="394.64" y2="1079.60" stroke="#1a1a1a" stroke-width="2"/>
<line x1="415.29" y1="1071.60" x2="415.29" y2="1079.60" stroke="#1a1a1a" stroke-width="2"/>
<line x1="435.93" y1="1071.60" x2="435.93" y2="1079.60" stroke="#1a1a1a" stroke-width="2"/>
<line x1="456.58" y1="1071.60" x2="456.58" y2="1079.60" stroke="#1a1a1a" stroke-width="2"/>
<line x1="477.22" y1="1071.60" x2="477.22" y2="1079.60" stroke="#1a1a1a" stroke-width="2"/>
<line x1="497.87" y1="1071.60" x2="497.87" y2="1079.60" stroke="#1a1a1a" stroke-width="2"/>
<line x1="518.51" y1="1071.60" x2="518.51" y2="1079.60" stroke="#1a1a1a" stroke-width="2"/>
<line x1="539.16" y1="1071.60" x2="539.16" y2="1079.60" stroke="#1a1a1a" stroke-width="2"/>
<line x1="559.80" y1="1071.60" x2="559.80" y2="1079.60" stroke="#1a1a1a" stroke-width="2"/>
<text x="374.00" y="1100.20" font-size="22" text-anchor="middle" fill="#000">0</text>
<text x="435.93" y="1100.20" font-size="22" text-anchor="middle" fill="#000">15</text>
<text x="497.87" y="1100.20" font-size="22" text-anchor="middle" fill="#000">30</text>
<text x="559.80" y="1100.20" font-size="22" text-anchor="middle" fill="#000">45</text>
<text x="468.50" y="918.20" font-size="26" text-anchor="middle" fill="#000">S1</text>
<polygon points="378.1,960.3 379.1,961.0 380.2,961.7 381.2,962.4 382.2,963.1 383.2,963.8 384.2,964.4 385.2,965.0 386.2,965.6 387.2,966.2 388.3,966.9 389.3,967.6 390.3,968.3 391.3,968.9 392.3,969.4 393.3,969.7 394.3,969.7 395.3,969.4 396.4,968.9 397.4,968.3 398.4,967.9 399.4,967.9 400.4,968.2 401.4,968.9 402.4,969.7 403.4,970.7 404.5,971.8 405.5,973.1 406.5,975.0 407.5,977.2 408.5,979.6 409.5,982.0 410.5,984.1 411.5,985.9 412.6,987.4 413.6,989.0 414.6,990.4 415.6,991.8 416.6,993.1 417.6,994.3 418.6,995.4 419.6,996.5 420.7,997.4 421.7,998.3 422.7,999.2 423.7,1000.0 424.7,1000.8 425.7,1001.5 426.7,1002.3 427.7,1003.0 428.8,1003.7 429.8,1004.4 430.8,1005.0 431.8,1005.7 432.8,1006.4 433.8,1007.2 434.8,1007.9 435.8,1008.8 436.9,1009.6 437.9,1010.4 438.9,1011.2 439.9,1012.1 440.9,1013.0 441.9,1013.9 442.9,1014.7 443.9,1015.7 445.0,1016.6 446.0,1017.4 447.0,1018.2 448.0,1019.0 449.0,1019.9 450.0,1020.7 451.0,1021.4 452.0,1022.0 453.1,1022.6 454.1,1023.2 455.1,1023.8 456.1,1024.4 457.1,1025.0 458.1,1025.7 459.1,1026.3 460.2,1026.7 461.2,1027.3 462.2,1027.8 463.2,1028.4 464.2,1028.8 465.2,1029.4 466.2,1030.0 467.2,1030.6 468.3,1031.1 469.3,1031.6 470.3,1032.1 471.3,1032.7 472.3,1033.2 473.3,1033.4 474.3,1033.5 475.3,1034.0 476.4,1034.4 477.4,1034.7 478.4,1034.8 479.4,1035.1 480.4,1035.3 481.4,1035.5 482.4,1035.8 483.4,1036.1 484.5,1036.5 485.5,1036.8 486.5,1037.1 487.5,1037.3 488.5,1037.6 489.5,1038.0 490.5,1038.2 491.5,1038.3 492.6,1038.4 493.6,1038.6 494.6,1038.9 495.6,1039.0 496.6,1039.4 497.6,1039.5 498.6,1039.7 499.6,1039.6 500.7,1039.7 501.7,1039.8 502.7,1040.1 503.7,1040.1 504.7,1040.7 505.7,1041.0 506.7,1041.5 507.7,1041.5 508.8,1041.8 509.8,1041.9 510.8,1041.7 511.8,1041.7 512.8,1041.9 513.8,1042.3 514.8,1042.4 515.8,1042.7 516.9,1042.9 517.9,1043.1 518.9,1043.1 519.9,1043.3 520.9,1043.2 521.9,1043.1 522.9,1043.3 523.9,1043.5 525.0,1043.8 526.0,1043.6 527.0,1043.8 528.0,1044.0 529.0,1044.4 530.0,1044.3 531.0,1043.9 532.0,1044.0 533.1,1044.2 534.1,1044.7 535.1,1044.7 536.1,1045.2 537.1,1045.3 538.1,1045.3 539.1,1045.3 540.1,1045.6 541.2,1045.5 542.2,1045.8 543.2,1045.9 544.2,1046.7 545.2,1046.4 546.2,1046.6 547.2,1046.4 548.2,1047.0 549.3,1046.8 550.3,1046.8 551.3,1046.5 552.3,1046.7 553.3,1046.5 554.3,1046.8 555.3,1046.6 556.3,1046.6 557.4,1046.8 558.4,1047.1 559.4,1047.3 559.4,1056.3 558.4,1056.0 557.4,1055.7 556.3,1055.5 555.3,1055.5 554.3,1055.6 553.3,1055.3 552.3,1055.4 551.3,1055.2 550.3,1055.5 549.3,1055.4 548.2,1055.6 547.2,1055.0 546.2,1055.1 545.2,1054.9 544.2,1055.1 543.2,1054.3 542.2,1054.2 541.2,1053.9 540.1,1053.9 539.1,1053.6 538.1,1053.6 537.1,1053.4 536.1,1053.3 535.1,1052.9 534.1,1052.8 533.1,1052.3 532.0,1052.0 531.0,1051.9 530.0,1052.2 529.0,1052.3 528.0,1051.9 527.0,1051.6 526.0,1051.4 525.0,1051.5 523.9,1051.2 522.9,1051.0 521.9,1050.7 520.9,1050.8 519.9,1050.8 518.9,1050.6 517.9,1050.6 516.9,1050.4 515.8,1050.2 514.8,1049.9 513.8,1049.7 512.8,1049.2 511.8,1049.0 510.8,1049.0 509.8,1049.2 508.8,1049.0 507.7,1048.7 506.7,1048.6 505.7,1048.1 504.7,1047.7 503.7,1047.1 502.7,1047.1 501.7,1046.7 500.7,1046.6 499.6,1046.4 498.6,1046.5 497.6,1046.3 496.6,1046.2 495.6,1045.8 494.6,1045.6 493.6,1045.2 492.6,1045.0 491.5,1044.8 490.5,1044.7 489.5,1044.5 488.5,1044.1 487.5,1043.8 486.5,1043.5 485.5,1043.2 484.5,1042.8 483.4,1042.4 482.4,1042.1 481.4,1041.7 480.4,1041.5 479.4,1041.2 478.4,1040.9 477.4,1040.8 476.4,1040.4 475.3,1040.0 474.3,1039.4 473.3,1039.3 472.3,1039.1 471.3,1038.5 470.3,1037.9 469.3,1037.3 468.3,1036.9 467.2,1036.3 466.2,1035.7 465.2,1035.0 464.2,1034.4 463.2,1034.0 462.2,1033.3 461.2,1032.8 460.2,1032.2 459.1,1031.7 458.1,1031.0 457.1,1030.4 456.1,1029.7 455.1,1029.1 454.1,1028.4 453.1,1027.8 452.0,1027.2 451.0,1026.5 450.0,1025.8 449.0,1025.0 448.0,1024.0 447.0,1023.2 446.0,1022.3 445.0,1021.5 443.9,1020.6 442.9,1019.6 441.9,1018.7 440.9,1017.8 439.9,1016.9 438.9,1015.9 437.9,1015.1 436.9,1014.2 435.8,1013.4 434.8,1012.5 433.8,1011.7 432.8,1010.9 431.8,1010.2 430.8,1009.5 429.8,1008.7 428.8,1008.0 427.7,1007.3 426.7,1006.5 425.7,1005.8 424.7,1005.0 423.7,1004.2 422.7,1003.3 421.7,1002.4 420.7,1001.5 419.6,1000.5 418.6,999.4 417.6,998.2 416.6,997.0 415.6,995.7 414.6,994.2 413.6,992.8 412.6,991.2 411.5,989.6 410.5,987.8 409.5,985.7 408.5,983.3 407.5,980.8 406.5,978.5 405.5,976.6 404.5,975.3 403.4,974.2 402.4,973.2 401.4,972.3 400.4,971.6 399.4,971.2 398.4,971.1 397.4,971.5 396.4,972.1 395.3,972.6 394.3,972.9 393.3,972.7 392.3,972.4 391.3,971.9 390.3,971.3 389.3,970.6 388.3,969.8 387.2,969.1 386.2,968.4 385.2,967.8 384.2,967.2 383.2,966.5 382.2,965.8 381.2,965.1 380.2,964.3 379.1,963.6 378.1,962.8" fill="#0aad0a" fill-opacity="0.18" stroke="none"/>
<polyline points="378.1,961.6 379.1,962.3 380.2,963.0 381.2,963.7 382.2,964.4 383.2,965.1 384.2,965.8 385.2,966.4 386.2,967.0 387.2,967.7 388.3,968.4 389.3,969.1 390.3,969.8 391.3,970.4 392.3,970.9 393.3,971.2 394.3,971.3 395.3,971.0 396.4,970.5 397.4,969.9 398.4,969.5 399.4,969.5 400.4,969.9 401.4,970.6 402.4,971.5 403.4,972.5 404.5,973.5 405.5,974.9 406.5,976.8 407.5,979.0 408.5,981.4 409.5,983.8 410.5,986.0 411.5,987.7 412.6,989.3 413.6,990.9 414.6,992.3 415.6,993.7 416.6,995.0 417.6,996.3 418.6,997.4 419.6,998.5 420.7,999.5 421.7,1000.4 422.7,1001.3 423.7,1002.1 424.7,1002.9 425.7,1003.7 426.7,1004.4 427.7,1005.1 428.8,1005.8 429.8,1006.5 430.8,1007.2 431.8,1008.0 432.8,1008.7 433.8,1009.4 434.8,1010.2 435.8,1011.1 436.9,1011.9 437.9,1012.8 438.9,1013.6 439.9,1014.5 440.9,1015.4 441.9,1016.3 442.9,1017.2 443.9,1018.1 445.0,1019.1 446.0,1019.9 447.0,1020.7 448.0,1021.5 449.0,1022.4 450.0,1023.3 451.0,1024.0 452.0,1024.6 453.1,1025.2 454.1,1025.8 455.1,1026.4 456.1,1027.0 457.1,1027.7 458.1,1028.4 459.1,1029.0 460.2,1029.5 461.2,1030.1 462.2,1030.6 463.2,1031.2 464.2,1031.6 465.2,1032.2 466.2,1032.8 467.2,1033.5 468.3,1034.0 469.3,1034.4 470.3,1035.0 471.3,1035.6 472.3,1036.1 473.3,1036.4 474.3,1036.5 475.3,1037.0 476.4,1037.4 477.4,1037.8 478.4,1037.9 479.4,1038.2 480.4,1038.4 481.4,1038.6 482.4,1039.0 483.4,1039.2 484.5,1039.6 485.5,1040.0 486.5,1040.3 487.5,1040.5 488.5,1040.9 489.5,1041.2 490.5,1041.5 491.5,1041.6 492.6,1041.7 493.6,1041.9 494.6,1042.2 495.6,1042.4 496.6,1042.8 497.6,1042.9 498.6,1043.1 499.6,1043.0 500.7,1043.2 501.7,1043.2 502.7,1043.6 503.7,1043.6 504.7,1044.2 505.7,1044.6 506.7,1045.0 507.7,1045.1 508.8,1045.4 509.8,1045.5 510.8,1045.4 511.8,1045.3 512.8,1045.5 513.8,1046.0 514.8,1046.1 515.8,1046.4 516.9,1046.6 517.9,1046.8 518.9,1046.9 519.9,1047.0 520.9,1047.0 521.9,1046.9 522.9,1047.1 523.9,1047.3 525.0,1047.6 526.0,1047.5 527.0,1047.7 528.0,1048.0 529.0,1048.3 530.0,1048.2 531.0,1047.9 532.0,1048.0 533.1,1048.2 534.1,1048.7 535.1,1048.8 536.1,1049.3 537.1,1049.3 538.1,1049.5 539.1,1049.5 540.1,1049.8 541.2,1049.7 542.2,1050.0 543.2,1050.1 544.2,1050.9 545.2,1050.6 546.2,1050.8 547.2,1050.7 548.2,1051.3 549.3,1051.1 550.3,1051.1 551.3,1050.8 552.3,1051.0 553.3,1050.9 554.3,1051.2 555.3,1051.0 556.3,1051.1 557.4,1051.3 558.4,1051.6 559.4,1051.8" fill="none" stroke="#0aad0a" stroke-width="2.2" stroke-linejoin="round"/>
<polygon points="378.1,955.2 379.1,957.5 380.2,959.6 381.2,961.7 382.2,963.6 383.2,965.4 384.2,967.1 385.2,968.7 386.2,970.3 387.2,971.8 388.3,973.2 389.3,974.3 390.3,975.0 391.3,975.4 392.3,975.7 393.3,975.9 394.3,976.0 395.3,975.6 396.4,974.8 397.4,973.9 398.4,973.0 399.4,972.4 400.4,972.2 401.4,972.3 402.4,972.4 403.4,972.5 404.5,972.7 405.5,973.4 406.5,975.4 407.5,978.2 408.5,981.4 409.5,984.6 410.5,987.5 411.5,989.6 412.6,991.6 413.6,993.6 414.6,995.5 415.6,997.2 416.6,998.8 417.6,1000.3 418.6,1001.5 419.6,1002.5 420.7,1003.3 421.7,1004.1 422.7,1004.8 423.7,1005.4 424.7,1006.0 425.7,1006.6 426.7,1007.1 427.7,1007.6 428.8,1008.0 429.8,1008.5 430.8,1009.0 431.8,1009.5 432.8,1009.9 433.8,1010.5 434.8,1011.1 435.8,1011.7 436.9,1012.3 437.9,1012.9 438.9,1013.7 439.9,1014.4 440.9,1015.2 441.9,1015.9 442.9,1016.6 443.9,1017.4 445.0,1018.0 446.0,1018.8 447.0,1019.4 448.0,1020.1 449.0,1020.8 450.0,1021.5 451.0,1022.1 452.0,1022.6 453.1,1023.3 454.1,1024.0 455.1,1024.5 456.1,1025.1 457.1,1025.7 458.1,1026.3 459.1,1027.0 460.2,1027.5 461.2,1028.1 462.2,1028.6 463.2,1029.1 464.2,1029.7 465.2,1030.3 466.2,1030.8 467.2,1031.3 468.3,1031.8 469.3,1032.2 470.3,1032.7 471.3,1033.1 472.3,1033.7 473.3,1034.0 474.3,1034.6 475.3,1034.7 476.4,1035.3 477.4,1035.6 478.4,1035.9 479.4,1036.3 480.4,1036.7 481.4,1037.1 482.4,1037.2 483.4,1037.6 484.5,1038.1 485.5,1038.4 486.5,1038.4 487.5,1038.6 488.5,1039.0 489.5,1039.2 490.5,1039.4 491.5,1039.5 492.6,1040.0 493.6,1040.3 494.6,1040.6 495.6,1040.9 496.6,1041.2 497.6,1041.3 498.6,1041.5 499.6,1041.5 500.7,1041.7 501.7,1042.1 502.7,1042.3 503.7,1042.7 504.7,1042.6 505.7,1042.7 506.7,1042.9 507.7,1043.1 508.8,1043.4 509.8,1043.5 510.8,1043.8 511.8,1043.8 512.8,1044.0 513.8,1043.9 514.8,1044.2 515.8,1044.2 516.9,1044.8 517.9,1044.9 518.9,1044.9 519.9,1044.7 520.9,1045.0 521.9,1045.3 522.9,1045.6 523.9,1045.8 525.0,1045.9 526.0,1046.0 527.0,1046.3 528.0,1046.2 529.0,1046.3 530.0,1046.1 531.0,1046.5 532.0,1046.7 533.1,1047.2 534.1,1047.3 535.1,1047.6 536.1,1047.9 537.1,1048.0 538.1,1048.3 539.1,1048.1 540.1,1048.1 541.2,1047.9 542.2,1048.5 543.2,1048.5 544.2,1049.0 545.2,1048.7 546.2,1049.2 547.2,1049.3 548.2,1049.9 549.3,1049.8 550.3,1049.8 551.3,1049.5 552.3,1050.0 553.3,1050.2 554.3,1050.4 555.3,1050.6 556.3,1050.5 557.4,1050.6 558.4,1050.8 559.4,1051.2 559.4,1056.2 558.4,1055.7 557.4,1055.6 556.3,1055.4 555.3,1055.5 554.3,1055.3 553.3,1055.1 552.3,1054.9 551.3,1054.4 550.3,1054.7 549.3,1054.7 548.2,1054.7 547.2,1054.1 546.2,1054.0 545.2,1053.5 544.2,1053.8 543.2,1053.2 542.2,1053.2 541.2,1052.6 540.1,1052.9 539.1,1052.8 538.1,1053.0 537.1,1052.6 536.1,1052.6 535.1,1052.2 534.1,1051.9 533.1,1051.8 532.0,1051.3 531.0,1051.1 530.0,1050.6 529.0,1050.9 528.0,1050.8 527.0,1050.8 526.0,1050.6 525.0,1050.4 523.9,1050.3 522.9,1050.1 521.9,1049.8 520.9,1049.4 519.9,1049.1 518.9,1049.4 517.9,1049.3 516.9,1049.2 515.8,1048.6 514.8,1048.5 513.8,1048.3 512.8,1048.3 511.8,1048.2 510.8,1048.2 509.8,1047.8 508.8,1047.7 507.7,1047.4 506.7,1047.2 505.7,1046.9 504.7,1046.8 503.7,1046.9 502.7,1046.5 501.7,1046.2 500.7,1045.9 499.6,1045.6 498.6,1045.6 497.6,1045.4 496.6,1045.3 495.6,1045.0 494.6,1044.7 493.6,1044.4 492.6,1044.1 491.5,1043.5 490.5,1043.4 489.5,1043.2 488.5,1043.0 487.5,1042.6 486.5,1042.4 485.5,1042.4 484.5,1042.0 483.4,1041.6 482.4,1041.1 481.4,1041.0 480.4,1040.6 479.4,1040.2 478.4,1039.8 477.4,1039.5 476.4,1039.1 475.3,1038.6 474.3,1038.4 473.3,1037.8 472.3,1037.5 471.3,1036.9 470.3,1036.5 469.3,1035.9 468.3,1035.5 467.2,1035.0 466.2,1034.5 465.2,1033.9 464.2,1033.4 463.2,1032.8 462.2,1032.2 461.2,1031.7 460.2,1031.1 459.1,1030.6 458.1,1029.9 457.1,1029.3 456.1,1028.6 455.1,1028.0 454.1,1027.5 453.1,1026.8 452.0,1026.1 451.0,1025.6 450.0,1024.9 449.0,1024.2 448.0,1023.6 447.0,1022.9 446.0,1022.2 445.0,1021.4 443.9,1020.7 442.9,1020.0 441.9,1019.2 440.9,1018.5 439.9,1017.7 438.9,1017.0 437.9,1016.2 436.9,1015.6 435.8,1014.9 434.8,1014.3 433.8,1013.7 432.8,1013.2 431.8,1012.7 430.8,1012.1 429.8,1011.7 428.8,1011.2 427.7,1010.7 426.7,1010.2 425.7,1009.7 424.7,1009.1 423.7,1008.5 422.7,1007.9 421.7,1007.2 420.7,1006.4 419.6,1005.5 418.6,1004.5 417.6,1003.3 416.6,1001.8 415.6,1000.2 414.6,998.4 413.6,996.5 412.6,994.6 411.5,992.6 410.5,990.4 409.5,987.5 408.5,984.3 407.5,981.1 406.5,978.3 405.5,976.3 404.5,975.5 403.4,975.3 402.4,975.2 401.4,975.1 400.4,975.0 399.4,975.1 398.4,975.7 397.4,976.6 396.4,977.6 395.3,978.3 394.3,978.7 393.3,978.6 392.3,978.4 391.3,978.0 390.3,977.6 389.3,976.9 388.3,975.8 387.2,974.4 386.2,972.8 385.2,971.2 384.2,969.6 383.2,967.9 382.2,966.1 381.2,964.2 380.2,962.1 379.1,960.0 378.1,957.7" fill="#ff00ff" fill-opacity="0.18" stroke="none"/>
<polyline points="378.1,956.4 379.1,958.7 380.2,960.9 381.2,962.9 382.2,964.9 383.2,966.7 384.2,968.3 385.2,969.9 386.2,971.6 387.2,973.1 388.3,974.5 389.3,975.6 390.3,976.3 391.3,976.7 392.3,977.0 393.3,977.3 394.3,977.3 395.3,977.0 396.4,976.2 397.4,975.2 398.4,974.3 399.4,973.7 400.4,973.6 401.4,973.7 402.4,973.8 403.4,973.9 404.5,974.1 405.5,974.9 406.5,976.8 407.5,979.6 408.5,982.8 409.5,986.1 410.5,988.9 411.5,991.1 412.6,993.1 413.6,995.1 414.6,996.9 415.6,998.7 416.6,1000.3 417.6,1001.8 418.6,1003.0 419.6,1004.0 420.7,1004.9 421.7,1005.6 422.7,1006.3 423.7,1007.0 424.7,1007.6 425.7,1008.1 426.7,1008.6 427.7,1009.1 428.8,1009.6 429.8,1010.1 430.8,1010.6 431.8,1011.1 432.8,1011.6 433.8,1012.1 434.8,1012.7 435.8,1013.3 436.9,1013.9 437.9,1014.6 438.9,1015.3 439.9,1016.1 440.9,1016.8 441.9,1017.6 442.9,1018.3 443.9,1019.0 445.0,1019.7 446.0,1020.5 447.0,1021.1 448.0,1021.9 449.0,1022.5 450.0,1023.2 451.0,1023.8 452.0,1024.4 453.1,1025.0 454.1,1025.7 455.1,1026.3 456.1,1026.8 457.1,1027.5 458.1,1028.1 459.1,1028.8 460.2,1029.3 461.2,1029.9 462.2,1030.4 463.2,1030.9 464.2,1031.6 465.2,1032.1 466.2,1032.6 467.2,1033.1 468.3,1033.6 469.3,1034.0 470.3,1034.6 471.3,1035.0 472.3,1035.6 473.3,1035.9 474.3,1036.5 475.3,1036.7 476.4,1037.2 477.4,1037.5 478.4,1037.8 479.4,1038.3 480.4,1038.7 481.4,1039.1 482.4,1039.2 483.4,1039.6 484.5,1040.1 485.5,1040.4 486.5,1040.4 487.5,1040.6 488.5,1041.0 489.5,1041.2 490.5,1041.4 491.5,1041.5 492.6,1042.0 493.6,1042.3 494.6,1042.7 495.6,1042.9 496.6,1043.3 497.6,1043.4 498.6,1043.6 499.6,1043.5 500.7,1043.8 501.7,1044.1 502.7,1044.4 503.7,1044.8 504.7,1044.7 505.7,1044.8 506.7,1045.1 507.7,1045.3 508.8,1045.6 509.8,1045.7 510.8,1046.0 511.8,1046.0 512.8,1046.1 513.8,1046.1 514.8,1046.4 515.8,1046.4 516.9,1047.0 517.9,1047.1 518.9,1047.2 519.9,1046.9 520.9,1047.2 521.9,1047.5 522.9,1047.9 523.9,1048.0 525.0,1048.2 526.0,1048.3 527.0,1048.5 528.0,1048.5 529.0,1048.6 530.0,1048.3 531.0,1048.8 532.0,1049.0 533.1,1049.5 534.1,1049.6 535.1,1049.9 536.1,1050.2 537.1,1050.3 538.1,1050.6 539.1,1050.4 540.1,1050.5 541.2,1050.2 542.2,1050.8 543.2,1050.8 544.2,1051.4 545.2,1051.1 546.2,1051.6 547.2,1051.7 548.2,1052.3 549.3,1052.2 550.3,1052.3 551.3,1052.0 552.3,1052.4 553.3,1052.6 554.3,1052.8 555.3,1053.0 556.3,1053.0 557.4,1053.1 558.4,1053.3 559.4,1053.7" fill="none" stroke="#ff00ff" stroke-width="2.2" stroke-linejoin="round"/>
<line x1="642.70" y1="931.40" x2="642.70" y2="1072.50" stroke="#1a1a1a" stroke-width="2"/>
<line x1="634.10" y1="932.30" x2="642.70" y2="932.30" stroke="#1a1a1a" stroke-width="2"/>
<text transform="translate(618.90 938.90) scale(1 1.1)" font-size="22" text-anchor="end">10</text>
<text transform="translate(618.50 931.50) scale(1 1.04)" font-size="14">-1</text>
<line x1="634.10" y1="978.73" x2="642.70" y2="978.73" stroke="#1a1a1a" stroke-width="2"/>
<text transform="translate(618.90 985.33) scale(1 1.1)" font-size="22" text-anchor="end">10</text>
<text transform="translate(618.50 977.93) scale(1 1.04)" font-size="14">-2</text>
<line x1="634.10" y1="1025.17" x2="642.70" y2="1025.17" stroke="#1a1a1a" stroke-width="2"/>
<text transform="translate(618.90 1031.77) scale(1 1.1)" font-size="22" text-anchor="end">10</text>
<text transform="translate(618.50 1024.37) scale(1 1.04)" font-size="14">-3</text>
<line x1="634.10" y1="1071.60" x2="642.70" y2="1071.60" stroke="#1a1a1a" stroke-width="2"/>
<text transform="translate(618.90 1078.20) scale(1 1.1)" font-size="22" text-anchor="end">10</text>
<text transform="translate(618.50 1070.80) scale(1 1.04)" font-size="14">-4</text>
<line x1="638.20" y1="964.76" x2="642.70" y2="964.76" stroke="#1a1a1a" stroke-width="1.7"/>
<line x1="638.20" y1="956.58" x2="642.70" y2="956.58" stroke="#1a1a1a" stroke-width="1.7"/>
<line x1="638.20" y1="950.78" x2="642.70" y2="950.78" stroke="#1a1a1a" stroke-width="1.7"/>
<line x1="638.20" y1="946.28" x2="642.70" y2="946.28" stroke="#1a1a1a" stroke-width="1.7"/>
<line x1="638.20" y1="942.60" x2="642.70" y2="942.60" stroke="#1a1a1a" stroke-width="1.7"/>
<line x1="638.20" y1="939.49" x2="642.70" y2="939.49" stroke="#1a1a1a" stroke-width="1.7"/>
<line x1="638.20" y1="936.80" x2="642.70" y2="936.80" stroke="#1a1a1a" stroke-width="1.7"/>
<line x1="638.20" y1="934.42" x2="642.70" y2="934.42" stroke="#1a1a1a" stroke-width="1.7"/>
<line x1="638.20" y1="1011.19" x2="642.70" y2="1011.19" stroke="#1a1a1a" stroke-width="1.7"/>
<line x1="638.20" y1="1003.01" x2="642.70" y2="1003.01" stroke="#1a1a1a" stroke-width="1.7"/>
<line x1="638.20" y1="997.21" x2="642.70" y2="997.21" stroke="#1a1a1a" stroke-width="1.7"/>
<line x1="638.20" y1="992.71" x2="642.70" y2="992.71" stroke="#1a1a1a" stroke-width="1.7"/>
<line x1="638.20" y1="989.03" x2="642.70" y2="989.03" stroke="#1a1a1a" stroke-width="1.7"/>
<line x1="638.20" y1="985.93" x2="642.70" y2="985.93" stroke="#1a1a1a" stroke-width="1.7"/>
<line x1="638.20" y1="983.23" x2="642.70" y2="983.23" stroke="#1a1a1a" stroke-width="1.7"/>
<line x1="638.20" y1="980.86" x2="642.70" y2="980.86" stroke="#1a1a1a" stroke-width="1.7"/>
<line x1="638.20" y1="1057.62" x2="642.70" y2="1057.62" stroke="#1a1a1a" stroke-width="1.7"/>
<line x1="638.20" y1="1049.45" x2="642.70" y2="1049.45" stroke="#1a1a1a" stroke-width="1.7"/>
<line x1="638.20" y1="1043.64" x2="642.70" y2="1043.64" stroke="#1a1a1a" stroke-width="1.7"/>
<line x1="638.20" y1="1039.14" x2="642.70" y2="1039.14" stroke="#1a1a1a" stroke-width="1.7"/>
<line x1="638.20" y1="1035.47" x2="642.70" y2="1035.47" stroke="#1a1a1a" stroke-width="1.7"/>
<line x1="638.20" y1="1032.36" x2="642.70" y2="1032.36" stroke="#1a1a1a" stroke-width="1.7"/>
<line x1="638.20" y1="1029.67" x2="642.70" y2="1029.67" stroke="#1a1a1a" stroke-width="1.7"/>
<line x1="638.20" y1="1027.29" x2="642.70" y2="1027.29" stroke="#1a1a1a" stroke-width="1.7"/>
<line x1="634.10" y1="1071.60" x2="829.40" y2="1071.60" stroke="#1a1a1a" stroke-width="2"/>
<line x1="642.70" y1="1071.60" x2="642.70" y2="1079.60" stroke="#1a1a1a" stroke-width="2"/>
<line x1="663.34" y1="1071.60" x2="663.34" y2="1079.60" stroke="#1a1a1a" stroke-width="2"/>
<line x1="683.99" y1="1071.60" x2="683.99" y2="1079.60" stroke="#1a1a1a" stroke-width="2"/>
<line x1="704.63" y1="1071.60" x2="704.63" y2="1079.60" stroke="#1a1a1a" stroke-width="2"/>
<line x1="725.28" y1="1071.60" x2="725.28" y2="1079.60" stroke="#1a1a1a" stroke-width="2"/>
<line x1="745.92" y1="1071.60" x2="745.92" y2="1079.60" stroke="#1a1a1a" stroke-width="2"/>
<line x1="766.57" y1="1071.60" x2="766.57" y2="1079.60" stroke="#1a1a1a" stroke-width="2"/>
<line x1="787.21" y1="1071.60" x2="787.21" y2="1079.60" stroke="#1a1a1a" stroke-width="2"/>
<line x1="807.86" y1="1071.60" x2="807.86" y2="1079.60" stroke="#1a1a1a" stroke-width="2"/>
<line x1="828.50" y1="1071.60" x2="828.50" y2="1079.60" stroke="#1a1a1a" stroke-width="2"/>
<text x="642.70" y="1100.20" font-size="22" text-anchor="middle" fill="#000">0</text>
<text x="704.63" y="1100.20" font-size="22" text-anchor="middle" fill="#000">15</text>
<text x="766.57" y="1100.20" font-size="22" text-anchor="middle" fill="#000">30</text>
<text x="828.50" y="1100.20" font-size="22" text-anchor="middle" fill="#000">45</text>
<text x="737.20" y="918.20" font-size="26" text-anchor="middle" fill="#000">PPC</text>
<polygon points="646.8,964.0 647.8,965.1 648.8,966.0 649.9,966.8 650.9,967.5 651.9,968.2 652.9,968.7 653.9,969.1 654.9,969.4 655.9,969.7 656.9,969.8 657.9,969.9 658.9,969.9 659.9,969.7 660.9,969.2 661.9,968.5 663.0,967.7 664.0,966.9 665.0,966.2 666.0,965.6 667.0,965.3 668.0,965.2 669.0,965.4 670.0,965.6 671.0,965.9 672.0,966.3 673.0,966.9 674.0,967.9 675.1,970.0 676.1,973.5 677.1,977.8 678.1,981.9 679.1,985.2 680.1,987.2 681.1,988.8 682.1,990.3 683.1,991.6 684.1,992.8 685.1,994.0 686.1,995.0 687.1,996.0 688.2,996.9 689.2,997.9 690.2,998.8 691.2,999.7 692.2,1000.6 693.2,1001.5 694.2,1002.3 695.2,1003.1 696.2,1003.8 697.2,1004.6 698.2,1005.3 699.2,1006.1 700.3,1006.9 701.3,1007.6 702.3,1008.3 703.3,1009.1 704.3,1009.8 705.3,1010.6 706.3,1011.3 707.3,1012.0 708.3,1012.6 709.3,1013.3 710.3,1014.0 711.3,1014.7 712.3,1015.3 713.4,1016.0 714.4,1016.6 715.4,1017.2 716.4,1017.8 717.4,1018.4 718.4,1019.0 719.4,1019.5 720.4,1020.1 721.4,1020.7 722.4,1021.2 723.4,1021.8 724.4,1022.2 725.5,1022.8 726.5,1023.2 727.5,1023.6 728.5,1023.9 729.5,1024.4 730.5,1025.1 731.5,1025.7 732.5,1026.1 733.5,1026.5 734.5,1026.8 735.5,1027.2 736.5,1027.7 737.5,1028.3 738.6,1028.7 739.6,1029.2 740.6,1029.5 741.6,1029.9 742.6,1030.4 743.6,1030.6 744.6,1030.9 745.6,1031.3 746.6,1031.9 747.6,1032.2 748.6,1032.3 749.6,1032.7 750.7,1033.0 751.7,1033.4 752.7,1033.7 753.7,1034.2 754.7,1034.6 755.7,1034.9 756.7,1035.2 757.7,1035.3 758.7,1035.7 759.7,1035.9 760.7,1036.1 761.7,1036.1 762.7,1036.4 763.8,1036.7 764.8,1037.3 765.8,1037.8 766.8,1038.0 767.8,1038.1 768.8,1038.0 769.8,1038.2 770.8,1038.7 771.8,1039.2 772.8,1039.3 773.8,1039.4 774.8,1039.6 775.9,1039.7 776.9,1039.8 777.9,1039.7 778.9,1040.1 779.9,1040.5 780.9,1041.0 781.9,1041.1 782.9,1041.1 783.9,1041.1 784.9,1041.2 785.9,1041.6 786.9,1042.0 787.9,1042.3 789.0,1042.5 790.0,1042.5 791.0,1042.9 792.0,1043.2 793.0,1043.7 794.0,1044.1 795.0,1044.2 796.0,1044.2 797.0,1043.9 798.0,1044.2 799.0,1044.6 800.0,1045.0 801.1,1045.1 802.1,1045.0 803.1,1045.4 804.1,1045.7 805.1,1045.8 806.1,1045.9 807.1,1045.9 808.1,1046.1 809.1,1046.1 810.1,1046.3 811.1,1046.8 812.1,1047.2 813.1,1047.5 814.2,1047.2 815.2,1047.4 816.2,1047.4 817.2,1047.7 818.2,1047.6 819.2,1047.9 820.2,1048.3 821.2,1048.6 822.2,1048.5 823.2,1048.3 824.2,1047.8 825.2,1048.0 826.3,1048.2 827.3,1048.6 827.3,1054.6 826.3,1054.1 825.2,1053.9 824.2,1053.7 823.2,1054.1 822.2,1054.4 821.2,1054.5 820.2,1054.1 819.2,1053.7 818.2,1053.4 817.2,1053.4 816.2,1053.2 815.2,1053.1 814.2,1052.9 813.1,1053.2 812.1,1052.9 811.1,1052.5 810.1,1051.9 809.1,1051.7 808.1,1051.7 807.1,1051.5 806.1,1051.5 805.1,1051.3 804.1,1051.2 803.1,1050.9 802.1,1050.5 801.1,1050.5 800.0,1050.5 799.0,1050.1 798.0,1049.7 797.0,1049.3 796.0,1049.6 795.0,1049.6 794.0,1049.4 793.0,1049.0 792.0,1048.5 791.0,1048.2 790.0,1047.8 789.0,1047.7 787.9,1047.5 786.9,1047.2 785.9,1046.8 784.9,1046.4 783.9,1046.2 782.9,1046.2 781.9,1046.2 780.9,1046.1 779.9,1045.6 778.9,1045.2 777.9,1044.7 776.9,1044.8 775.9,1044.7 774.8,1044.6 773.8,1044.3 772.8,1044.3 771.8,1044.1 770.8,1043.6 769.8,1043.1 768.8,1042.8 767.8,1042.9 766.8,1042.8 765.8,1042.6 764.8,1042.0 763.8,1041.5 762.7,1041.1 761.7,1040.8 760.7,1040.8 759.7,1040.5 758.7,1040.4 757.7,1040.0 756.7,1039.9 755.7,1039.5 754.7,1039.2 753.7,1038.7 752.7,1038.2 751.7,1037.9 750.7,1037.5 749.6,1037.1 748.6,1036.7 747.6,1036.6 746.6,1036.3 745.6,1035.7 744.6,1035.3 743.6,1034.9 742.6,1034.7 741.6,1034.2 740.6,1033.8 739.6,1033.5 738.6,1032.9 737.5,1032.5 736.5,1031.9 735.5,1031.4 734.5,1031.0 733.5,1030.6 732.5,1030.3 731.5,1029.8 730.5,1029.2 729.5,1028.5 728.5,1028.0 727.5,1027.6 726.5,1027.2 725.5,1026.8 724.4,1026.1 723.4,1025.7 722.4,1025.2 721.4,1024.6 720.4,1024.0 719.4,1023.4 718.4,1022.9 717.4,1022.3 716.4,1021.6 715.4,1021.0 714.4,1020.4 713.4,1019.8 712.3,1019.1 711.3,1018.4 710.3,1017.7 709.3,1017.0 708.3,1016.3 707.3,1015.6 706.3,1014.9 705.3,1014.2 704.3,1013.4 703.3,1012.7 702.3,1011.9 701.3,1011.1 700.3,1010.4 699.2,1009.6 698.2,1008.8 697.2,1008.0 696.2,1007.3 695.2,1006.5 694.2,1005.7 693.2,1004.8 692.2,1004.0 691.2,1003.1 690.2,1002.1 689.2,1001.2 688.2,1000.2 687.1,999.2 686.1,998.2 685.1,997.2 684.1,996.0 683.1,994.8 682.1,993.5 681.1,992.0 680.1,990.3 679.1,988.3 678.1,985.0 677.1,980.9 676.1,976.6 675.1,973.0 674.0,970.9 673.0,969.9 672.0,969.3 671.0,968.9 670.0,968.5 669.0,968.3 668.0,968.1 667.0,968.1 666.0,968.5 665.0,969.0 664.0,969.7 663.0,970.5 661.9,971.3 660.9,972.0 659.9,972.5 658.9,972.7 657.9,972.6 656.9,972.5 655.9,972.3 654.9,972.1 653.9,971.7 652.9,971.3 651.9,970.7 650.9,970.1 649.9,969.4 648.8,968.5 647.8,967.6 646.8,966.5" fill="#0aad0a" fill-opacity="0.18" stroke="none"/>
<polyline points="646.8,965.3 647.8,966.3 648.8,967.3 649.9,968.1 650.9,968.8 651.9,969.4 652.9,970.0 653.9,970.4 654.9,970.7 655.9,971.0 656.9,971.2 657.9,971.3 658.9,971.3 659.9,971.1 660.9,970.6 661.9,969.9 663.0,969.1 664.0,968.3 665.0,967.6 666.0,967.0 667.0,966.7 668.0,966.7 669.0,966.8 670.0,967.1 671.0,967.4 672.0,967.8 673.0,968.4 674.0,969.4 675.1,971.5 676.1,975.1 677.1,979.3 678.1,983.5 679.1,986.8 680.1,988.7 681.1,990.4 682.1,991.9 683.1,993.2 684.1,994.4 685.1,995.6 686.1,996.6 687.1,997.6 688.2,998.6 689.2,999.5 690.2,1000.5 691.2,1001.4 692.2,1002.3 693.2,1003.2 694.2,1004.0 695.2,1004.8 696.2,1005.6 697.2,1006.3 698.2,1007.1 699.2,1007.9 700.3,1008.6 701.3,1009.4 702.3,1010.1 703.3,1010.9 704.3,1011.6 705.3,1012.4 706.3,1013.1 707.3,1013.8 708.3,1014.4 709.3,1015.1 710.3,1015.9 711.3,1016.6 712.3,1017.2 713.4,1017.9 714.4,1018.5 715.4,1019.1 716.4,1019.7 717.4,1020.3 718.4,1020.9 719.4,1021.5 720.4,1022.0 721.4,1022.7 722.4,1023.2 723.4,1023.8 724.4,1024.2 725.5,1024.8 726.5,1025.2 727.5,1025.6 728.5,1026.0 729.5,1026.5 730.5,1027.2 731.5,1027.8 732.5,1028.2 733.5,1028.6 734.5,1028.9 735.5,1029.3 736.5,1029.8 737.5,1030.4 738.6,1030.8 739.6,1031.4 740.6,1031.7 741.6,1032.1 742.6,1032.5 743.6,1032.7 744.6,1033.1 745.6,1033.5 746.6,1034.1 747.6,1034.4 748.6,1034.5 749.6,1034.9 750.7,1035.3 751.7,1035.7 752.7,1036.0 753.7,1036.4 754.7,1036.9 755.7,1037.2 756.7,1037.6 757.7,1037.7 758.7,1038.0 759.7,1038.2 760.7,1038.5 761.7,1038.5 762.7,1038.8 763.8,1039.1 764.8,1039.6 765.8,1040.2 766.8,1040.4 767.8,1040.5 768.8,1040.4 769.8,1040.7 770.8,1041.1 771.8,1041.7 772.8,1041.8 773.8,1041.9 774.8,1042.1 775.9,1042.2 776.9,1042.3 777.9,1042.2 778.9,1042.6 779.9,1043.0 780.9,1043.6 781.9,1043.6 782.9,1043.7 783.9,1043.6 784.9,1043.8 785.9,1044.2 786.9,1044.6 787.9,1044.9 789.0,1045.1 790.0,1045.1 791.0,1045.5 792.0,1045.8 793.0,1046.3 794.0,1046.7 795.0,1046.9 796.0,1046.9 797.0,1046.6 798.0,1046.9 799.0,1047.3 800.0,1047.8 801.1,1047.8 802.1,1047.8 803.1,1048.1 804.1,1048.4 805.1,1048.6 806.1,1048.7 807.1,1048.7 808.1,1048.9 809.1,1048.9 810.1,1049.1 811.1,1049.6 812.1,1050.1 813.1,1050.3 814.2,1050.0 815.2,1050.2 816.2,1050.3 817.2,1050.5 818.2,1050.5 819.2,1050.8 820.2,1051.2 821.2,1051.5 822.2,1051.5 823.2,1051.2 824.2,1050.8 825.2,1050.9 826.3,1051.2 827.3,1051.6" fill="none" stroke="#0aad0a" stroke-width="2.2" stroke-linejoin="round"/>
<polygon points="646.8,954.3 647.8,956.5 648.8,958.6 649.9,960.6 650.9,962.7 651.9,964.6 652.9,966.8 653.9,969.0 654.9,971.0 655.9,972.4 656.9,973.2 657.9,973.8 658.9,974.2 659.9,974.5 660.9,974.6 661.9,974.4 663.0,973.9 664.0,973.2 665.0,972.4 666.0,971.0 667.0,969.6 668.0,969.0 669.0,969.2 670.0,969.8 671.0,970.3 672.0,970.7 673.0,971.1 674.0,971.7 675.1,973.8 676.1,978.1 677.1,983.3 678.1,988.4 679.1,992.2 680.1,994.2 681.1,995.8 682.1,997.1 683.1,998.3 684.1,999.3 685.1,1000.2 686.1,1001.1 687.1,1002.0 688.2,1002.9 689.2,1003.8 690.2,1004.7 691.2,1005.5 692.2,1006.3 693.2,1007.1 694.2,1007.9 695.2,1008.7 696.2,1009.4 697.2,1010.2 698.2,1010.9 699.2,1011.7 700.3,1012.5 701.3,1013.5 702.3,1014.4 703.3,1015.4 704.3,1016.3 705.3,1017.2 706.3,1018.1 707.3,1019.1 708.3,1020.0 709.3,1020.8 710.3,1021.6 711.3,1022.3 712.3,1022.9 713.4,1023.5 714.4,1024.2 715.4,1024.8 716.4,1025.4 717.4,1026.0 718.4,1026.6 719.4,1027.1 720.4,1027.6 721.4,1028.2 722.4,1028.7 723.4,1029.1 724.4,1029.5 725.5,1029.8 726.5,1030.2 727.5,1030.6 728.5,1031.1 729.5,1031.5 730.5,1032.0 731.5,1032.4 732.5,1032.9 733.5,1033.3 734.5,1033.8 735.5,1034.1 736.5,1034.5 737.5,1034.8 738.6,1035.4 739.6,1035.9 740.6,1036.2 741.6,1036.3 742.6,1036.7 743.6,1037.1 744.6,1037.6 745.6,1037.8 746.6,1038.2 747.6,1038.6 748.6,1038.9 749.6,1039.3 750.7,1039.6 751.7,1039.9 752.7,1040.1 753.7,1040.2 754.7,1040.6 755.7,1041.0 756.7,1041.3 757.7,1041.5 758.7,1041.8 759.7,1042.1 760.7,1042.2 761.7,1042.5 762.7,1042.7 763.8,1042.9 764.8,1042.8 765.8,1042.7 766.8,1042.8 767.8,1043.0 768.8,1043.3 769.8,1043.7 770.8,1043.9 771.8,1044.2 772.8,1044.2 773.8,1044.3 774.8,1044.3 775.9,1044.3 776.9,1044.7 777.9,1045.1 778.9,1045.6 779.9,1045.7 780.9,1046.2 781.9,1046.6 782.9,1047.3 783.9,1047.8 784.9,1048.4 785.9,1048.9 786.9,1049.3 787.9,1049.7 789.0,1050.2 790.0,1050.7 791.0,1050.9 792.0,1051.0 793.0,1051.1 794.0,1051.2 795.0,1051.3 796.0,1051.4 797.0,1051.6 798.0,1052.2 799.0,1052.4 800.0,1052.4 801.1,1052.2 802.1,1052.4 803.1,1052.7 804.1,1053.4 805.1,1054.1 806.1,1054.4 807.1,1054.4 808.1,1054.2 809.1,1054.2 810.1,1054.1 811.1,1054.0 812.1,1054.2 813.1,1054.9 814.2,1055.0 815.2,1055.1 816.2,1054.7 817.2,1054.7 818.2,1055.1 819.2,1055.0 820.2,1055.7 821.2,1055.7 822.2,1056.1 823.2,1055.8 824.2,1055.8 825.2,1056.0 826.3,1056.2 827.3,1056.4 827.3,1061.4 826.3,1061.1 825.2,1060.9 824.2,1060.7 823.2,1060.7 822.2,1061.0 821.2,1060.6 820.2,1060.6 819.2,1059.9 818.2,1060.0 817.2,1059.6 816.2,1059.5 815.2,1059.9 814.2,1059.8 813.1,1059.7 812.1,1058.9 811.1,1058.7 810.1,1058.8 809.1,1059.0 808.1,1058.9 807.1,1059.1 806.1,1059.0 805.1,1058.8 804.1,1058.1 803.1,1057.4 802.1,1057.0 801.1,1056.8 800.0,1057.0 799.0,1057.0 798.0,1056.7 797.0,1056.2 796.0,1056.0 795.0,1055.8 794.0,1055.7 793.0,1055.6 792.0,1055.5 791.0,1055.4 790.0,1055.1 789.0,1054.6 787.9,1054.1 786.9,1053.7 785.9,1053.3 784.9,1052.8 783.9,1052.1 782.9,1051.6 781.9,1050.9 780.9,1050.6 779.9,1050.0 778.9,1049.9 777.9,1049.4 776.9,1049.0 775.9,1048.6 774.8,1048.6 773.8,1048.6 772.8,1048.4 771.8,1048.4 770.8,1048.1 769.8,1047.8 768.8,1047.5 767.8,1047.2 766.8,1047.0 765.8,1046.8 764.8,1046.9 763.8,1047.0 762.7,1046.8 761.7,1046.6 760.7,1046.3 759.7,1046.1 758.7,1045.8 757.7,1045.5 756.7,1045.3 755.7,1045.0 754.7,1044.5 753.7,1044.1 752.7,1044.0 751.7,1043.9 750.7,1043.5 749.6,1043.2 748.6,1042.8 747.6,1042.5 746.6,1042.1 745.6,1041.7 744.6,1041.4 743.6,1040.9 742.6,1040.5 741.6,1040.1 740.6,1040.0 739.6,1039.7 738.6,1039.2 737.5,1038.5 736.5,1038.2 735.5,1037.8 734.5,1037.5 733.5,1037.0 732.5,1036.5 731.5,1036.0 730.5,1035.6 729.5,1035.1 728.5,1034.7 727.5,1034.2 726.5,1033.8 725.5,1033.4 724.4,1033.0 723.4,1032.7 722.4,1032.2 721.4,1031.7 720.4,1031.1 719.4,1030.5 718.4,1030.0 717.4,1029.5 716.4,1028.9 715.4,1028.2 714.4,1027.6 713.4,1026.9 712.3,1026.3 711.3,1025.6 710.3,1024.9 709.3,1024.2 708.3,1023.3 707.3,1022.4 706.3,1021.4 705.3,1020.5 704.3,1019.5 703.3,1018.6 702.3,1017.6 701.3,1016.7 700.3,1015.8 699.2,1014.9 698.2,1014.1 697.2,1013.3 696.2,1012.6 695.2,1011.8 694.2,1011.0 693.2,1010.2 692.2,1009.4 691.2,1008.6 690.2,1007.7 689.2,1006.8 688.2,1005.9 687.1,1005.0 686.1,1004.1 685.1,1003.2 684.1,1002.3 683.1,1001.2 682.1,1000.0 681.1,998.7 680.1,997.1 679.1,995.1 678.1,991.3 677.1,986.2 676.1,981.0 675.1,976.7 674.0,974.6 673.0,973.9 672.0,973.5 671.0,973.1 670.0,972.5 669.0,972.0 668.0,971.8 667.0,972.3 666.0,973.7 665.0,975.1 664.0,975.9 663.0,976.5 661.9,977.1 660.9,977.3 659.9,977.2 658.9,976.9 657.9,976.4 656.9,975.8 655.9,975.0 654.9,973.6 653.9,971.6 652.9,969.3 651.9,967.2 650.9,965.2 649.9,963.1 648.8,961.1 647.8,958.9 646.8,956.7" fill="#ff00ff" fill-opacity="0.18" stroke="none"/>
<polyline points="646.8,955.5 647.8,957.7 648.8,959.8 649.9,961.9 650.9,963.9 651.9,965.9 652.9,968.0 653.9,970.3 654.9,972.3 655.9,973.7 656.9,974.5 657.9,975.1 658.9,975.5 659.9,975.8 660.9,975.9 661.9,975.7 663.0,975.2 664.0,974.5 665.0,973.7 666.0,972.3 667.0,970.9 668.0,970.4 669.0,970.6 670.0,971.1 671.0,971.7 672.0,972.1 673.0,972.5 674.0,973.1 675.1,975.3 676.1,979.5 677.1,984.8 678.1,989.9 679.1,993.7 680.1,995.7 681.1,997.2 682.1,998.6 683.1,999.7 684.1,1000.8 685.1,1001.7 686.1,1002.6 687.1,1003.5 688.2,1004.4 689.2,1005.3 690.2,1006.2 691.2,1007.1 692.2,1007.9 693.2,1008.7 694.2,1009.5 695.2,1010.2 696.2,1011.0 697.2,1011.7 698.2,1012.5 699.2,1013.3 700.3,1014.2 701.3,1015.1 702.3,1016.0 703.3,1017.0 704.3,1017.9 705.3,1018.8 706.3,1019.8 707.3,1020.7 708.3,1021.6 709.3,1022.5 710.3,1023.3 711.3,1023.9 712.3,1024.6 713.4,1025.2 714.4,1025.9 715.4,1026.5 716.4,1027.2 717.4,1027.7 718.4,1028.3 719.4,1028.8 720.4,1029.3 721.4,1029.9 722.4,1030.4 723.4,1030.9 724.4,1031.2 725.5,1031.6 726.5,1032.0 727.5,1032.4 728.5,1032.9 729.5,1033.3 730.5,1033.8 731.5,1034.2 732.5,1034.7 733.5,1035.1 734.5,1035.6 735.5,1036.0 736.5,1036.3 737.5,1036.7 738.6,1037.3 739.6,1037.8 740.6,1038.1 741.6,1038.2 742.6,1038.6 743.6,1039.0 744.6,1039.5 745.6,1039.7 746.6,1040.1 747.6,1040.6 748.6,1040.8 749.6,1041.2 750.7,1041.6 751.7,1041.9 752.7,1042.1 753.7,1042.2 754.7,1042.6 755.7,1043.0 756.7,1043.3 757.7,1043.5 758.7,1043.8 759.7,1044.1 760.7,1044.3 761.7,1044.6 762.7,1044.7 763.8,1045.0 764.8,1044.9 765.8,1044.7 766.8,1044.9 767.8,1045.1 768.8,1045.4 769.8,1045.8 770.8,1046.0 771.8,1046.3 772.8,1046.3 773.8,1046.4 774.8,1046.5 775.9,1046.5 776.9,1046.8 777.9,1047.2 778.9,1047.8 779.9,1047.8 780.9,1048.4 781.9,1048.7 782.9,1049.4 783.9,1049.9 784.9,1050.6 785.9,1051.1 786.9,1051.5 787.9,1051.9 789.0,1052.4 790.0,1052.9 791.0,1053.2 792.0,1053.2 793.0,1053.4 794.0,1053.5 795.0,1053.5 796.0,1053.7 797.0,1053.9 798.0,1054.5 799.0,1054.7 800.0,1054.7 801.1,1054.5 802.1,1054.7 803.1,1055.0 804.1,1055.7 805.1,1056.4 806.1,1056.7 807.1,1056.7 808.1,1056.5 809.1,1056.6 810.1,1056.5 811.1,1056.4 812.1,1056.6 813.1,1057.3 814.2,1057.4 815.2,1057.5 816.2,1057.1 817.2,1057.2 818.2,1057.5 819.2,1057.4 820.2,1058.1 821.2,1058.1 822.2,1058.5 823.2,1058.3 824.2,1058.3 825.2,1058.5 826.3,1058.7 827.3,1058.9" fill="none" stroke="#ff00ff" stroke-width="2.2" stroke-linejoin="round"/>
<line x1="910.90" y1="931.40" x2="910.90" y2="1072.50" stroke="#1a1a1a" stroke-width="2"/>
<line x1="902.30" y1="932.30" x2="910.90" y2="932.30" stroke="#1a1a1a" stroke-width="2"/>
<text transform="translate(887.10 938.90) scale(1 1.1)" font-size="22" text-anchor="end">10</text>
<text transform="translate(886.70 931.50) scale(1 1.04)" font-size="14">-1</text>
<line x1="902.30" y1="978.73" x2="910.90" y2="978.73" stroke="#1a1a1a" stroke-width="2"/>
<text transform="translate(887.10 985.33) scale(1 1.1)" font-size="22" text-anchor="end">10</text>
<text transform="translate(886.70 977.93) scale(1 1.04)" font-size="14">-2</text>
<line x1="902.30" y1="1025.17" x2="910.90" y2="1025.17" stroke="#1a1a1a" stroke-width="2"/>
<text transform="translate(887.10 1031.77) scale(1 1.1)" font-size="22" text-anchor="end">10</text>
<text transform="translate(886.70 1024.37) scale(1 1.04)" font-size="14">-3</text>
<line x1="902.30" y1="1071.60" x2="910.90" y2="1071.60" stroke="#1a1a1a" stroke-width="2"/>
<text transform="translate(887.10 1078.20) scale(1 1.1)" font-size="22" text-anchor="end">10</text>
<text transform="translate(886.70 1070.80) scale(1 1.04)" font-size="14">-4</text>
<line x1="906.40" y1="964.76" x2="910.90" y2="964.76" stroke="#1a1a1a" stroke-width="1.7"/>
<line x1="906.40" y1="956.58" x2="910.90" y2="956.58" stroke="#1a1a1a" stroke-width="1.7"/>
<line x1="906.40" y1="950.78" x2="910.90" y2="950.78" stroke="#1a1a1a" stroke-width="1.7"/>
<line x1="906.40" y1="946.28" x2="910.90" y2="946.28" stroke="#1a1a1a" stroke-width="1.7"/>
<line x1="906.40" y1="942.60" x2="910.90" y2="942.60" stroke="#1a1a1a" stroke-width="1.7"/>
<line x1="906.40" y1="939.49" x2="910.90" y2="939.49" stroke="#1a1a1a" stroke-width="1.7"/>
<line x1="906.40" y1="936.80" x2="910.90" y2="936.80" stroke="#1a1a1a" stroke-width="1.7"/>
<line x1="906.40" y1="934.42" x2="910.90" y2="934.42" stroke="#1a1a1a" stroke-width="1.7"/>
<line x1="906.40" y1="1011.19" x2="910.90" y2="1011.19" stroke="#1a1a1a" stroke-width="1.7"/>
<line x1="906.40" y1="1003.01" x2="910.90" y2="1003.01" stroke="#1a1a1a" stroke-width="1.7"/>
<line x1="906.40" y1="997.21" x2="910.90" y2="997.21" stroke="#1a1a1a" stroke-width="1.7"/>
<line x1="906.40" y1="992.71" x2="910.90" y2="992.71" stroke="#1a1a1a" stroke-width="1.7"/>
<line x1="906.40" y1="989.03" x2="910.90" y2="989.03" stroke="#1a1a1a" stroke-width="1.7"/>
<line x1="906.40" y1="985.93" x2="910.90" y2="985.93" stroke="#1a1a1a" stroke-width="1.7"/>
<line x1="906.40" y1="983.23" x2="910.90" y2="983.23" stroke="#1a1a1a" stroke-width="1.7"/>
<line x1="906.40" y1="980.86" x2="910.90" y2="980.86" stroke="#1a1a1a" stroke-width="1.7"/>
<line x1="906.40" y1="1057.62" x2="910.90" y2="1057.62" stroke="#1a1a1a" stroke-width="1.7"/>
<line x1="906.40" y1="1049.45" x2="910.90" y2="1049.45" stroke="#1a1a1a" stroke-width="1.7"/>
<line x1="906.40" y1="1043.64" x2="910.90" y2="1043.64" stroke="#1a1a1a" stroke-width="1.7"/>
<line x1="906.40" y1="1039.14" x2="910.90" y2="1039.14" stroke="#1a1a1a" stroke-width="1.7"/>
<line x1="906.40" y1="1035.47" x2="910.90" y2="1035.47" stroke="#1a1a1a" stroke-width="1.7"/>
<line x1="906.40" y1="1032.36" x2="910.90" y2="1032.36" stroke="#1a1a1a" stroke-width="1.7"/>
<line x1="906.40" y1="1029.67" x2="910.90" y2="1029.67" stroke="#1a1a1a" stroke-width="1.7"/>
<line x1="906.40" y1="1027.29" x2="910.90" y2="1027.29" stroke="#1a1a1a" stroke-width="1.7"/>
<line x1="902.30" y1="1071.60" x2="1097.60" y2="1071.60" stroke="#1a1a1a" stroke-width="2"/>
<line x1="910.90" y1="1071.60" x2="910.90" y2="1079.60" stroke="#1a1a1a" stroke-width="2"/>
<line x1="931.54" y1="1071.60" x2="931.54" y2="1079.60" stroke="#1a1a1a" stroke-width="2"/>
<line x1="952.19" y1="1071.60" x2="952.19" y2="1079.60" stroke="#1a1a1a" stroke-width="2"/>
<line x1="972.83" y1="1071.60" x2="972.83" y2="1079.60" stroke="#1a1a1a" stroke-width="2"/>
<line x1="993.48" y1="1071.60" x2="993.48" y2="1079.60" stroke="#1a1a1a" stroke-width="2"/>
<line x1="1014.12" y1="1071.60" x2="1014.12" y2="1079.60" stroke="#1a1a1a" stroke-width="2"/>
<line x1="1034.77" y1="1071.60" x2="1034.77" y2="1079.60" stroke="#1a1a1a" stroke-width="2"/>
<line x1="1055.41" y1="1071.60" x2="1055.41" y2="1079.60" stroke="#1a1a1a" stroke-width="2"/>
<line x1="1076.06" y1="1071.60" x2="1076.06" y2="1079.60" stroke="#1a1a1a" stroke-width="2"/>
<line x1="1096.70" y1="1071.60" x2="1096.70" y2="1079.60" stroke="#1a1a1a" stroke-width="2"/>
<text x="910.90" y="1100.20" font-size="22" text-anchor="middle" fill="#000">0</text>
<text x="972.83" y="1100.20" font-size="22" text-anchor="middle" fill="#000">15</text>
<text x="1034.77" y="1100.20" font-size="22" text-anchor="middle" fill="#000">30</text>
<text x="1096.70" y="1100.20" font-size="22" text-anchor="middle" fill="#000">45</text>
<text x="1005.40" y="918.20" font-size="26" text-anchor="middle" fill="#000">HPC</text>
<polygon points="915.4,960.8 916.5,962.1 917.5,963.4 918.5,964.6 919.5,965.8 920.5,966.8 921.5,967.7 922.5,968.6 923.5,969.4 924.5,970.3 925.5,971.0 926.6,971.7 927.6,972.1 928.6,972.3 929.6,972.1 930.6,971.7 931.6,971.1 932.6,970.5 933.6,969.8 934.6,968.9 935.6,968.1 936.7,967.6 937.7,967.7 938.7,968.2 939.7,968.9 940.7,969.7 941.7,971.0 942.7,972.5 943.7,974.6 944.7,977.2 945.8,979.8 946.8,982.1 947.8,983.6 948.8,985.0 949.8,986.2 950.8,987.4 951.8,988.4 952.8,989.4 953.8,990.3 954.8,991.2 955.9,992.0 956.9,992.9 957.9,993.7 958.9,994.4 959.9,995.2 960.9,995.9 961.9,996.6 962.9,997.3 963.9,997.9 964.9,998.6 966.0,999.2 967.0,999.8 968.0,1000.4 969.0,1001.0 970.0,1001.6 971.0,1002.2 972.0,1002.9 973.0,1003.6 974.0,1004.2 975.1,1004.8 976.1,1005.5 977.1,1006.2 978.1,1006.9 979.1,1007.7 980.1,1008.4 981.1,1009.1 982.1,1009.8 983.1,1010.5 984.1,1011.2 985.2,1011.8 986.2,1012.4 987.2,1013.1 988.2,1013.8 989.2,1014.5 990.2,1015.1 991.2,1015.6 992.2,1016.1 993.2,1016.6 994.2,1017.3 995.3,1017.7 996.3,1018.2 997.3,1018.7 998.3,1019.3 999.3,1019.6 1000.3,1020.0 1001.3,1020.7 1002.3,1021.1 1003.3,1021.6 1004.3,1022.0 1005.4,1022.5 1006.4,1022.9 1007.4,1023.3 1008.4,1023.7 1009.4,1024.0 1010.4,1024.4 1011.4,1025.0 1012.4,1025.6 1013.4,1026.0 1014.5,1026.4 1015.5,1026.9 1016.5,1027.2 1017.5,1027.6 1018.5,1028.0 1019.5,1028.6 1020.5,1029.1 1021.5,1029.6 1022.5,1029.9 1023.5,1030.3 1024.6,1030.7 1025.6,1031.1 1026.6,1031.4 1027.6,1031.6 1028.6,1032.1 1029.6,1032.5 1030.6,1032.8 1031.6,1033.3 1032.6,1033.7 1033.6,1034.2 1034.7,1034.3 1035.7,1034.7 1036.7,1035.0 1037.7,1035.3 1038.7,1035.7 1039.7,1035.8 1040.7,1036.3 1041.7,1036.7 1042.7,1037.3 1043.8,1037.8 1044.8,1038.1 1045.8,1038.5 1046.8,1038.5 1047.8,1038.9 1048.8,1038.8 1049.8,1039.6 1050.8,1040.0 1051.8,1040.4 1052.8,1040.5 1053.9,1040.7 1054.9,1041.0 1055.9,1041.3 1056.9,1041.5 1057.9,1042.2 1058.9,1042.4 1059.9,1042.8 1060.9,1042.9 1061.9,1043.1 1062.9,1043.5 1064.0,1043.9 1065.0,1044.3 1066.0,1044.6 1067.0,1044.9 1068.0,1045.3 1069.0,1045.6 1070.0,1045.7 1071.0,1045.9 1072.0,1045.9 1073.1,1046.4 1074.1,1046.8 1075.1,1047.4 1076.1,1047.6 1077.1,1047.7 1078.1,1048.0 1079.1,1048.1 1080.1,1048.4 1081.1,1048.5 1082.1,1049.0 1083.2,1049.1 1084.2,1049.7 1085.2,1049.7 1086.2,1050.0 1087.2,1050.2 1088.2,1050.7 1089.2,1051.4 1090.2,1051.3 1091.2,1051.6 1092.2,1051.6 1093.3,1052.1 1094.3,1052.1 1095.3,1052.5 1096.3,1052.9 1096.3,1057.9 1095.3,1057.5 1094.3,1057.0 1093.3,1057.0 1092.2,1056.6 1091.2,1056.5 1090.2,1056.2 1089.2,1056.3 1088.2,1055.6 1087.2,1055.1 1086.2,1054.8 1085.2,1054.6 1084.2,1054.5 1083.2,1053.9 1082.1,1053.7 1081.1,1053.3 1080.1,1053.2 1079.1,1052.9 1078.1,1052.7 1077.1,1052.4 1076.1,1052.3 1075.1,1052.1 1074.1,1051.5 1073.1,1051.1 1072.0,1050.5 1071.0,1050.5 1070.0,1050.3 1069.0,1050.2 1068.0,1049.9 1067.0,1049.5 1066.0,1049.1 1065.0,1048.9 1064.0,1048.4 1062.9,1048.0 1061.9,1047.6 1060.9,1047.4 1059.9,1047.3 1058.9,1046.9 1057.9,1046.6 1056.9,1045.9 1055.9,1045.7 1054.9,1045.4 1053.9,1045.1 1052.8,1044.9 1051.8,1044.8 1050.8,1044.3 1049.8,1043.9 1048.8,1043.1 1047.8,1043.2 1046.8,1042.8 1045.8,1042.7 1044.8,1042.4 1043.8,1042.1 1042.7,1041.6 1041.7,1040.9 1040.7,1040.5 1039.7,1040.0 1038.7,1039.9 1037.7,1039.5 1036.7,1039.2 1035.7,1038.8 1034.7,1038.5 1033.6,1038.4 1032.6,1037.8 1031.6,1037.4 1030.6,1036.9 1029.6,1036.5 1028.6,1036.1 1027.6,1035.7 1026.6,1035.4 1025.6,1035.1 1024.6,1034.7 1023.5,1034.3 1022.5,1033.9 1021.5,1033.5 1020.5,1033.0 1019.5,1032.5 1018.5,1031.9 1017.5,1031.5 1016.5,1031.1 1015.5,1030.7 1014.5,1030.2 1013.4,1029.8 1012.4,1029.4 1011.4,1028.8 1010.4,1028.2 1009.4,1027.8 1008.4,1027.5 1007.4,1027.1 1006.4,1026.7 1005.4,1026.2 1004.3,1025.7 1003.3,1025.3 1002.3,1024.8 1001.3,1024.3 1000.3,1023.7 999.3,1023.3 998.3,1022.9 997.3,1022.3 996.3,1021.8 995.3,1021.3 994.2,1020.9 993.2,1020.2 992.2,1019.7 991.2,1019.1 990.2,1018.6 989.2,1018.0 988.2,1017.3 987.2,1016.6 986.2,1015.9 985.2,1015.3 984.1,1014.6 983.1,1013.9 982.1,1013.2 981.1,1012.5 980.1,1011.8 979.1,1011.0 978.1,1010.3 977.1,1009.5 976.1,1008.8 975.1,1008.1 974.0,1007.5 973.0,1006.8 972.0,1006.1 971.0,1005.5 970.0,1004.8 969.0,1004.2 968.0,1003.6 967.0,1002.9 966.0,1002.3 964.9,1001.7 963.9,1001.1 962.9,1000.4 961.9,999.8 960.9,999.0 959.9,998.3 958.9,997.5 957.9,996.7 956.9,995.9 955.9,995.1 954.8,994.2 953.8,993.3 952.8,992.4 951.8,991.4 950.8,990.3 949.8,989.2 948.8,987.9 947.8,986.5 946.8,985.0 945.8,982.7 944.7,980.1 943.7,977.5 942.7,975.3 941.7,973.8 940.7,972.6 939.7,971.7 938.7,971.0 937.7,970.5 936.7,970.4 935.6,970.8 934.6,971.6 933.6,972.5 932.6,973.2 931.6,973.8 930.6,974.4 929.6,974.8 928.6,974.9 927.6,974.8 926.6,974.3 925.5,973.6 924.5,972.9 923.5,972.0 922.5,971.1 921.5,970.3 920.5,969.3 919.5,968.3 918.5,967.1 917.5,965.9 916.5,964.6 915.4,963.2" fill="#0aad0a" fill-opacity="0.18" stroke="none"/>
<polyline points="915.4,962.0 916.5,963.4 917.5,964.7 918.5,965.9 919.5,967.0 920.5,968.1 921.5,969.0 922.5,969.8 923.5,970.7 924.5,971.6 925.5,972.3 926.6,973.0 927.6,973.4 928.6,973.6 929.6,973.5 930.6,973.0 931.6,972.5 932.6,971.9 933.6,971.2 934.6,970.3 935.6,969.5 936.7,969.0 937.7,969.1 938.7,969.6 939.7,970.3 940.7,971.2 941.7,972.4 942.7,973.9 943.7,976.1 944.7,978.7 945.8,981.3 946.8,983.5 947.8,985.1 948.8,986.4 949.8,987.7 950.8,988.8 951.8,989.9 952.8,990.9 953.8,991.8 954.8,992.7 955.9,993.6 956.9,994.4 957.9,995.2 958.9,996.0 959.9,996.8 960.9,997.5 961.9,998.2 962.9,998.9 963.9,999.5 964.9,1000.1 966.0,1000.8 967.0,1001.4 968.0,1002.0 969.0,1002.6 970.0,1003.2 971.0,1003.8 972.0,1004.5 973.0,1005.2 974.0,1005.9 975.1,1006.5 976.1,1007.2 977.1,1007.9 978.1,1008.6 979.1,1009.4 980.1,1010.1 981.1,1010.8 982.1,1011.5 983.1,1012.2 984.1,1012.9 985.2,1013.5 986.2,1014.1 987.2,1014.9 988.2,1015.6 989.2,1016.3 990.2,1016.9 991.2,1017.4 992.2,1017.9 993.2,1018.4 994.2,1019.1 995.3,1019.5 996.3,1020.0 997.3,1020.5 998.3,1021.1 999.3,1021.4 1000.3,1021.8 1001.3,1022.5 1002.3,1023.0 1003.3,1023.4 1004.3,1023.9 1005.4,1024.3 1006.4,1024.8 1007.4,1025.2 1008.4,1025.6 1009.4,1025.9 1010.4,1026.3 1011.4,1026.9 1012.4,1027.5 1013.4,1027.9 1014.5,1028.3 1015.5,1028.8 1016.5,1029.1 1017.5,1029.6 1018.5,1030.0 1019.5,1030.5 1020.5,1031.0 1021.5,1031.5 1022.5,1031.9 1023.5,1032.3 1024.6,1032.7 1025.6,1033.1 1026.6,1033.4 1027.6,1033.7 1028.6,1034.1 1029.6,1034.5 1030.6,1034.8 1031.6,1035.3 1032.6,1035.8 1033.6,1036.3 1034.7,1036.4 1035.7,1036.7 1036.7,1037.1 1037.7,1037.4 1038.7,1037.8 1039.7,1037.9 1040.7,1038.4 1041.7,1038.8 1042.7,1039.5 1043.8,1039.9 1044.8,1040.2 1045.8,1040.6 1046.8,1040.6 1047.8,1041.0 1048.8,1041.0 1049.8,1041.7 1050.8,1042.2 1051.8,1042.6 1052.8,1042.7 1053.9,1042.9 1054.9,1043.2 1055.9,1043.5 1056.9,1043.7 1057.9,1044.4 1058.9,1044.7 1059.9,1045.0 1060.9,1045.2 1061.9,1045.3 1062.9,1045.8 1064.0,1046.2 1065.0,1046.6 1066.0,1046.8 1067.0,1047.2 1068.0,1047.6 1069.0,1047.9 1070.0,1048.0 1071.0,1048.2 1072.0,1048.2 1073.1,1048.7 1074.1,1049.2 1075.1,1049.7 1076.1,1049.9 1077.1,1050.1 1078.1,1050.3 1079.1,1050.5 1080.1,1050.8 1081.1,1050.9 1082.1,1051.4 1083.2,1051.5 1084.2,1052.1 1085.2,1052.1 1086.2,1052.4 1087.2,1052.6 1088.2,1053.1 1089.2,1053.8 1090.2,1053.7 1091.2,1054.1 1092.2,1054.1 1093.3,1054.5 1094.3,1054.5 1095.3,1055.0 1096.3,1055.4" fill="none" stroke="#0aad0a" stroke-width="2.2" stroke-linejoin="round"/>
<polygon points="915.4,956.3 916.5,958.7 917.5,960.9 918.5,963.0 919.5,965.0 920.5,966.7 921.5,968.1 922.5,969.3 923.5,970.5 924.5,971.7 925.5,972.7 926.6,973.5 927.6,974.1 928.6,974.3 929.6,974.1 930.6,973.4 931.6,972.6 932.6,971.6 933.6,970.5 934.6,968.8 935.6,967.3 936.7,966.4 937.7,966.5 938.7,967.2 939.7,968.1 940.7,969.1 941.7,970.5 942.7,972.3 943.7,975.1 944.7,978.5 945.8,981.9 946.8,984.8 947.8,986.7 948.8,988.4 949.8,989.9 950.8,991.3 951.8,992.6 952.8,993.8 953.8,994.9 954.8,996.0 955.9,996.9 956.9,997.9 957.9,998.8 958.9,999.7 959.9,1000.5 960.9,1001.3 961.9,1002.1 962.9,1002.9 963.9,1003.5 964.9,1004.2 966.0,1004.9 967.0,1005.5 968.0,1006.1 969.0,1006.7 970.0,1007.4 971.0,1008.0 972.0,1008.6 973.0,1009.1 974.0,1009.7 975.1,1010.3 976.1,1010.8 977.1,1011.4 978.1,1012.0 979.1,1012.5 980.1,1013.1 981.1,1013.7 982.1,1014.2 983.1,1014.7 984.1,1015.2 985.2,1015.8 986.2,1016.3 987.2,1016.8 988.2,1017.2 989.2,1017.6 990.2,1018.0 991.2,1018.4 992.2,1018.8 993.2,1019.2 994.2,1019.5 995.3,1019.9 996.3,1020.2 997.3,1020.7 998.3,1021.0 999.3,1021.3 1000.3,1021.5 1001.3,1021.8 1002.3,1021.9 1003.3,1022.3 1004.3,1022.8 1005.4,1023.3 1006.4,1023.5 1007.4,1023.7 1008.4,1023.8 1009.4,1024.1 1010.4,1024.4 1011.4,1024.8 1012.4,1025.3 1013.4,1025.8 1014.5,1026.1 1015.5,1026.3 1016.5,1026.4 1017.5,1026.6 1018.5,1027.0 1019.5,1027.5 1020.5,1027.9 1021.5,1028.3 1022.5,1028.3 1023.5,1028.6 1024.6,1029.0 1025.6,1029.6 1026.6,1030.1 1027.6,1030.2 1028.6,1030.4 1029.6,1030.6 1030.6,1031.0 1031.6,1031.4 1032.6,1032.0 1033.6,1032.3 1034.7,1032.4 1035.7,1032.6 1036.7,1033.1 1037.7,1033.5 1038.7,1033.6 1039.7,1033.7 1040.7,1033.9 1041.7,1034.2 1042.7,1034.6 1043.8,1035.0 1044.8,1035.2 1045.8,1035.0 1046.8,1035.6 1047.8,1035.9 1048.8,1036.4 1049.8,1036.1 1050.8,1036.4 1051.8,1036.6 1052.8,1037.0 1053.9,1037.4 1054.9,1037.4 1055.9,1037.8 1056.9,1038.0 1057.9,1038.6 1058.9,1038.7 1059.9,1038.8 1060.9,1039.0 1061.9,1039.4 1062.9,1039.6 1064.0,1039.7 1065.0,1040.0 1066.0,1040.3 1067.0,1040.5 1068.0,1040.5 1069.0,1040.7 1070.0,1041.3 1071.0,1041.7 1072.0,1042.2 1073.1,1042.3 1074.1,1043.0 1075.1,1043.2 1076.1,1043.3 1077.1,1043.3 1078.1,1043.5 1079.1,1043.5 1080.1,1043.6 1081.1,1044.1 1082.1,1044.5 1083.2,1045.1 1084.2,1045.1 1085.2,1045.7 1086.2,1045.9 1087.2,1046.4 1088.2,1046.5 1089.2,1046.6 1090.2,1046.9 1091.2,1047.3 1092.2,1047.6 1093.3,1048.0 1094.3,1048.7 1095.3,1049.6 1096.3,1050.0 1096.3,1056.0 1095.3,1055.5 1094.3,1054.7 1093.3,1053.9 1092.2,1053.5 1091.2,1053.2 1090.2,1052.8 1089.2,1052.4 1088.2,1052.4 1087.2,1052.3 1086.2,1051.8 1085.2,1051.5 1084.2,1050.9 1083.2,1050.9 1082.1,1050.3 1081.1,1049.9 1080.1,1049.4 1079.1,1049.3 1078.1,1049.2 1077.1,1049.0 1076.1,1049.0 1075.1,1048.8 1074.1,1048.7 1073.1,1048.0 1072.0,1047.8 1071.0,1047.3 1070.0,1046.8 1069.0,1046.2 1068.0,1046.0 1067.0,1046.1 1066.0,1045.8 1065.0,1045.4 1064.0,1045.2 1062.9,1045.1 1061.9,1044.8 1060.9,1044.5 1059.9,1044.2 1058.9,1044.1 1057.9,1044.0 1056.9,1043.4 1055.9,1043.2 1054.9,1042.7 1053.9,1042.7 1052.8,1042.3 1051.8,1041.8 1050.8,1041.6 1049.8,1041.4 1048.8,1041.6 1047.8,1041.1 1046.8,1040.8 1045.8,1040.2 1044.8,1040.3 1043.8,1040.1 1042.7,1039.8 1041.7,1039.3 1040.7,1039.0 1039.7,1038.8 1038.7,1038.7 1037.7,1038.5 1036.7,1038.2 1035.7,1037.6 1034.7,1037.4 1033.6,1037.3 1032.6,1037.0 1031.6,1036.4 1030.6,1035.9 1029.6,1035.5 1028.6,1035.3 1027.6,1035.0 1026.6,1035.0 1025.6,1034.4 1024.6,1033.8 1023.5,1033.4 1022.5,1033.1 1021.5,1033.1 1020.5,1032.7 1019.5,1032.3 1018.5,1031.8 1017.5,1031.4 1016.5,1031.1 1015.5,1031.0 1014.5,1030.8 1013.4,1030.4 1012.4,1029.9 1011.4,1029.4 1010.4,1029.0 1009.4,1028.7 1008.4,1028.3 1007.4,1028.3 1006.4,1028.0 1005.4,1027.8 1004.3,1027.3 1003.3,1026.8 1002.3,1026.4 1001.3,1026.2 1000.3,1026.0 999.3,1025.7 998.3,1025.4 997.3,1025.1 996.3,1024.6 995.3,1024.3 994.2,1023.9 993.2,1023.5 992.2,1023.1 991.2,1022.7 990.2,1022.3 989.2,1021.8 988.2,1021.4 987.2,1021.0 986.2,1020.5 985.2,1020.0 984.1,1019.4 983.1,1018.9 982.1,1018.4 981.1,1017.8 980.1,1017.2 979.1,1016.6 978.1,1016.0 977.1,1015.5 976.1,1014.9 975.1,1014.3 974.0,1013.7 973.0,1013.1 972.0,1012.5 971.0,1011.9 970.0,1011.3 969.0,1010.7 968.0,1010.0 967.0,1009.4 966.0,1008.8 964.9,1008.1 963.9,1007.4 962.9,1006.7 961.9,1005.9 960.9,1005.1 959.9,1004.3 958.9,1003.5 957.9,1002.6 956.9,1001.6 955.9,1000.7 954.8,999.7 953.8,998.6 952.8,997.5 951.8,996.3 950.8,994.9 949.8,993.5 948.8,992.0 947.8,990.3 946.8,988.4 945.8,985.5 944.7,982.0 943.7,978.6 942.7,975.8 941.7,974.0 940.7,972.6 939.7,971.5 938.7,970.6 937.7,970.0 936.7,969.8 935.6,970.7 934.6,972.2 933.6,973.8 932.6,975.0 931.6,975.9 930.6,976.8 929.6,977.4 928.6,977.6 927.6,977.4 926.6,976.8 925.5,975.9 924.5,974.9 923.5,973.7 922.5,972.5 921.5,971.3 920.5,969.8 919.5,968.1 918.5,966.2 917.5,964.1 916.5,961.8 915.4,959.4" fill="#ff00ff" fill-opacity="0.18" stroke="none"/>
<polyline points="915.4,957.8 916.5,960.2 917.5,962.5 918.5,964.6 919.5,966.5 920.5,968.2 921.5,969.7 922.5,970.9 923.5,972.1 924.5,973.3 925.5,974.3 926.6,975.1 927.6,975.7 928.6,975.9 929.6,975.7 930.6,975.1 931.6,974.2 932.6,973.3 933.6,972.1 934.6,970.5 935.6,969.0 936.7,968.1 937.7,968.2 938.7,968.9 939.7,969.8 940.7,970.8 941.7,972.2 942.7,974.1 943.7,976.9 944.7,980.3 945.8,983.7 946.8,986.6 947.8,988.5 948.8,990.2 949.8,991.7 950.8,993.1 951.8,994.4 952.8,995.6 953.8,996.8 954.8,997.8 955.9,998.8 956.9,999.8 957.9,1000.7 958.9,1001.6 959.9,1002.4 960.9,1003.2 961.9,1004.0 962.9,1004.8 963.9,1005.5 964.9,1006.2 966.0,1006.8 967.0,1007.5 968.0,1008.1 969.0,1008.7 970.0,1009.3 971.0,1009.9 972.0,1010.5 973.0,1011.1 974.0,1011.7 975.1,1012.3 976.1,1012.9 977.1,1013.4 978.1,1014.0 979.1,1014.6 980.1,1015.2 981.1,1015.8 982.1,1016.3 983.1,1016.8 984.1,1017.3 985.2,1017.9 986.2,1018.4 987.2,1018.9 988.2,1019.3 989.2,1019.7 990.2,1020.1 991.2,1020.5 992.2,1020.9 993.2,1021.4 994.2,1021.7 995.3,1022.1 996.3,1022.4 997.3,1022.9 998.3,1023.2 999.3,1023.5 1000.3,1023.7 1001.3,1024.0 1002.3,1024.1 1003.3,1024.6 1004.3,1025.1 1005.4,1025.6 1006.4,1025.8 1007.4,1026.0 1008.4,1026.1 1009.4,1026.4 1010.4,1026.7 1011.4,1027.1 1012.4,1027.6 1013.4,1028.1 1014.5,1028.5 1015.5,1028.7 1016.5,1028.7 1017.5,1029.0 1018.5,1029.4 1019.5,1029.9 1020.5,1030.3 1021.5,1030.7 1022.5,1030.7 1023.5,1031.0 1024.6,1031.4 1025.6,1032.0 1026.6,1032.5 1027.6,1032.6 1028.6,1032.9 1029.6,1033.0 1030.6,1033.4 1031.6,1033.9 1032.6,1034.5 1033.6,1034.8 1034.7,1034.9 1035.7,1035.1 1036.7,1035.6 1037.7,1036.0 1038.7,1036.1 1039.7,1036.3 1040.7,1036.4 1041.7,1036.7 1042.7,1037.2 1043.8,1037.6 1044.8,1037.8 1045.8,1037.6 1046.8,1038.2 1047.8,1038.5 1048.8,1039.0 1049.8,1038.7 1050.8,1039.0 1051.8,1039.2 1052.8,1039.6 1053.9,1040.0 1054.9,1040.1 1055.9,1040.5 1056.9,1040.7 1057.9,1041.3 1058.9,1041.4 1059.9,1041.5 1060.9,1041.8 1061.9,1042.1 1062.9,1042.4 1064.0,1042.4 1065.0,1042.7 1066.0,1043.1 1067.0,1043.3 1068.0,1043.2 1069.0,1043.5 1070.0,1044.1 1071.0,1044.5 1072.0,1045.0 1073.1,1045.2 1074.1,1045.9 1075.1,1046.0 1076.1,1046.1 1077.1,1046.1 1078.1,1046.3 1079.1,1046.4 1080.1,1046.5 1081.1,1047.0 1082.1,1047.4 1083.2,1048.0 1084.2,1048.0 1085.2,1048.6 1086.2,1048.9 1087.2,1049.3 1088.2,1049.4 1089.2,1049.5 1090.2,1049.8 1091.2,1050.3 1092.2,1050.6 1093.3,1050.9 1094.3,1051.7 1095.3,1052.6 1096.3,1053.0" fill="none" stroke="#ff00ff" stroke-width="2.2" stroke-linejoin="round"/>
<line x1="1179.20" y1="931.40" x2="1179.20" y2="1072.50" stroke="#1a1a1a" stroke-width="2"/>
<line x1="1170.60" y1="932.30" x2="1179.20" y2="932.30" stroke="#1a1a1a" stroke-width="2"/>
<text transform="translate(1155.40 938.90) scale(1 1.1)" font-size="22" text-anchor="end">10</text>
<text transform="translate(1155.00 931.50) scale(1 1.04)" font-size="14">-1</text>
<line x1="1170.60" y1="978.73" x2="1179.20" y2="978.73" stroke="#1a1a1a" stroke-width="2"/>
<text transform="translate(1155.40 985.33) scale(1 1.1)" font-size="22" text-anchor="end">10</text>
<text transform="translate(1155.00 977.93) scale(1 1.04)" font-size="14">-2</text>
<line x1="1170.60" y1="1025.17" x2="1179.20" y2="1025.17" stroke="#1a1a1a" stroke-width="2"/>
<text transform="translate(1155.40 1031.77) scale(1 1.1)" font-size="22" text-anchor="end">10</text>
<text transform="translate(1155.00 1024.37) scale(1 1.04)" font-size="14">-3</text>
<line x1="1170.60" y1="1071.60" x2="1179.20" y2="1071.60" stroke="#1a1a1a" stroke-width="2"/>
<text transform="translate(1155.40 1078.20) scale(1 1.1)" font-size="22" text-anchor="end">10</text>
<text transform="translate(1155.00 1070.80) scale(1 1.04)" font-size="14">-4</text>
<line x1="1174.70" y1="964.76" x2="1179.20" y2="964.76" stroke="#1a1a1a" stroke-width="1.7"/>
<line x1="1174.70" y1="956.58" x2="1179.20" y2="956.58" stroke="#1a1a1a" stroke-width="1.7"/>
<line x1="1174.70" y1="950.78" x2="1179.20" y2="950.78" stroke="#1a1a1a" stroke-width="1.7"/>
<line x1="1174.70" y1="946.28" x2="1179.20" y2="946.28" stroke="#1a1a1a" stroke-width="1.7"/>
<line x1="1174.70" y1="942.60" x2="1179.20" y2="942.60" stroke="#1a1a1a" stroke-width="1.7"/>
<line x1="1174.70" y1="939.49" x2="1179.20" y2="939.49" stroke="#1a1a1a" stroke-width="1.7"/>
<line x1="1174.70" y1="936.80" x2="1179.20" y2="936.80" stroke="#1a1a1a" stroke-width="1.7"/>
<line x1="1174.70" y1="934.42" x2="1179.20" y2="934.42" stroke="#1a1a1a" stroke-width="1.7"/>
<line x1="1174.70" y1="1011.19" x2="1179.20" y2="1011.19" stroke="#1a1a1a" stroke-width="1.7"/>
<line x1="1174.70" y1="1003.01" x2="1179.20" y2="1003.01" stroke="#1a1a1a" stroke-width="1.7"/>
<line x1="1174.70" y1="997.21" x2="1179.20" y2="997.21" stroke="#1a1a1a" stroke-width="1.7"/>
<line x1="1174.70" y1="992.71" x2="1179.20" y2="992.71" stroke="#1a1a1a" stroke-width="1.7"/>
<line x1="1174.70" y1="989.03" x2="1179.20" y2="989.03" stroke="#1a1a1a" stroke-width="1.7"/>
<line x1="1174.70" y1="985.93" x2="1179.20" y2="985.93" stroke="#1a1a1a" stroke-width="1.7"/>
<line x1="1174.70" y1="983.23" x2="1179.20" y2="983.23" stroke="#1a1a1a" stroke-width="1.7"/>
<line x1="1174.70" y1="980.86" x2="1179.20" y2="980.86" stroke="#1a1a1a" stroke-width="1.7"/>
<line x1="1174.70" y1="1057.62" x2="1179.20" y2="1057.62" stroke="#1a1a1a" stroke-width="1.7"/>
<line x1="1174.70" y1="1049.45" x2="1179.20" y2="1049.45" stroke="#1a1a1a" stroke-width="1.7"/>
<line x1="1174.70" y1="1043.64" x2="1179.20" y2="1043.64" stroke="#1a1a1a" stroke-width="1.7"/>
<line x1="1174.70" y1="1039.14" x2="1179.20" y2="1039.14" stroke="#1a1a1a" stroke-width="1.7"/>
<line x1="1174.70" y1="1035.47" x2="1179.20" y2="1035.47" stroke="#1a1a1a" stroke-width="1.7"/>
<line x1="1174.70" y1="1032.36" x2="1179.20" y2="1032.36" stroke="#1a1a1a" stroke-width="1.7"/>
<line x1="1174.70" y1="1029.67" x2="1179.20" y2="1029.67" stroke="#1a1a1a" stroke-width="1.7"/>
<line x1="1174.70" y1="1027.29" x2="1179.20" y2="1027.29" stroke="#1a1a1a" stroke-width="1.7"/>
<line x1="1170.60" y1="1071.60" x2="1365.90" y2="1071.60" stroke="#1a1a1a" stroke-width="2"/>
<line x1="1179.20" y1="1071.60" x2="1179.20" y2="1079.60" stroke="#1a1a1a" stroke-width="2"/>
<line x1="1199.84" y1="1071.60" x2="1199.84" y2="1079.60" stroke="#1a1a1a" stroke-width="2"/>
<line x1="1220.49" y1="1071.60" x2="1220.49" y2="1079.60" stroke="#1a1a1a" stroke-width="2"/>
<line x1="1241.13" y1="1071.60" x2="1241.13" y2="1079.60" stroke="#1a1a1a" stroke-width="2"/>
<line x1="1261.78" y1="1071.60" x2="1261.78" y2="1079.60" stroke="#1a1a1a" stroke-width="2"/>
<line x1="1282.42" y1="1071.60" x2="1282.42" y2="1079.60" stroke="#1a1a1a" stroke-width="2"/>
<line x1="1303.07" y1="1071.60" x2="1303.07" y2="1079.60" stroke="#1a1a1a" stroke-width="2"/>
<line x1="1323.71" y1="1071.60" x2="1323.71" y2="1079.60" stroke="#1a1a1a" stroke-width="2"/>
<line x1="1344.36" y1="1071.60" x2="1344.36" y2="1079.60" stroke="#1a1a1a" stroke-width="2"/>
<line x1="1365.00" y1="1071.60" x2="1365.00" y2="1079.60" stroke="#1a1a1a" stroke-width="2"/>
<text x="1179.20" y="1100.20" font-size="22" text-anchor="middle" fill="#000">0</text>
<text x="1241.13" y="1100.20" font-size="22" text-anchor="middle" fill="#000">15</text>
<text x="1303.07" y="1100.20" font-size="22" text-anchor="middle" fill="#000">30</text>
<text x="1365.00" y="1100.20" font-size="22" text-anchor="middle" fill="#000">45</text>
<text x="1273.70" y="918.20" font-size="26" text-anchor="middle" fill="#000">RSC</text>
<polygon points="1183.7,959.4 1184.8,960.8 1185.8,962.2 1186.8,963.5 1187.8,964.7 1188.8,965.9 1189.8,967.1 1190.8,968.2 1191.8,969.4 1192.8,970.7 1193.8,971.9 1194.9,972.9 1195.9,973.6 1196.9,973.7 1197.9,973.6 1198.9,973.3 1199.9,973.0 1200.9,972.6 1201.9,971.8 1202.9,970.8 1203.9,970.0 1205.0,970.0 1206.0,970.3 1207.0,970.9 1208.0,971.5 1209.0,972.6 1210.0,974.1 1211.0,975.8 1212.0,978.3 1213.0,981.2 1214.1,984.2 1215.1,986.8 1216.1,988.6 1217.1,989.8 1218.1,990.9 1219.1,991.9 1220.1,992.8 1221.1,993.6 1222.1,994.4 1223.1,995.1 1224.2,995.7 1225.2,996.4 1226.2,997.1 1227.2,997.7 1228.2,998.4 1229.2,999.2 1230.2,1000.0 1231.2,1000.7 1232.2,1001.5 1233.2,1002.3 1234.3,1003.0 1235.3,1003.8 1236.3,1004.5 1237.3,1005.3 1238.3,1006.0 1239.3,1006.7 1240.3,1007.4 1241.3,1008.2 1242.3,1008.8 1243.4,1009.5 1244.4,1010.2 1245.4,1010.9 1246.4,1011.5 1247.4,1012.1 1248.4,1012.8 1249.4,1013.3 1250.4,1013.9 1251.4,1014.4 1252.4,1014.9 1253.5,1015.4 1254.5,1015.9 1255.5,1016.3 1256.5,1016.7 1257.5,1016.9 1258.5,1017.3 1259.5,1017.7 1260.5,1018.2 1261.5,1018.6 1262.5,1018.9 1263.6,1019.3 1264.6,1019.6 1265.6,1019.9 1266.6,1020.1 1267.6,1020.5 1268.6,1020.7 1269.6,1021.1 1270.6,1021.4 1271.6,1021.7 1272.6,1022.1 1273.7,1022.4 1274.7,1022.8 1275.7,1023.3 1276.7,1023.5 1277.7,1023.7 1278.7,1023.8 1279.7,1024.1 1280.7,1024.2 1281.7,1024.5 1282.8,1024.9 1283.8,1025.3 1284.8,1025.6 1285.8,1025.7 1286.8,1025.8 1287.8,1026.1 1288.8,1026.4 1289.8,1026.8 1290.8,1027.2 1291.8,1027.4 1292.9,1027.6 1293.9,1028.0 1294.9,1028.3 1295.9,1028.7 1296.9,1028.7 1297.9,1029.2 1298.9,1029.4 1299.9,1029.7 1300.9,1029.8 1301.9,1030.2 1303.0,1030.7 1304.0,1030.8 1305.0,1030.9 1306.0,1030.9 1307.0,1031.8 1308.0,1032.3 1309.0,1032.7 1310.0,1032.7 1311.0,1032.8 1312.1,1033.0 1313.1,1033.2 1314.1,1033.6 1315.1,1033.8 1316.1,1034.1 1317.1,1034.0 1318.1,1034.2 1319.1,1034.5 1320.1,1034.8 1321.1,1035.1 1322.2,1035.5 1323.2,1035.9 1324.2,1036.3 1325.2,1036.8 1326.2,1036.7 1327.2,1037.0 1328.2,1036.7 1329.2,1036.9 1330.2,1036.8 1331.2,1037.1 1332.3,1037.4 1333.3,1037.9 1334.3,1038.0 1335.3,1038.6 1336.3,1038.9 1337.3,1039.1 1338.3,1039.0 1339.3,1039.2 1340.3,1039.5 1341.4,1039.5 1342.4,1039.6 1343.4,1039.8 1344.4,1039.9 1345.4,1040.2 1346.4,1040.6 1347.4,1040.9 1348.4,1041.1 1349.4,1041.5 1350.4,1041.9 1351.5,1041.9 1352.5,1041.9 1353.5,1042.1 1354.5,1042.2 1355.5,1042.4 1356.5,1042.4 1357.5,1042.7 1358.5,1043.2 1359.5,1043.2 1360.5,1043.2 1361.6,1043.2 1362.6,1043.6 1363.6,1044.0 1364.6,1043.9 1364.6,1048.9 1363.6,1049.0 1362.6,1048.6 1361.6,1048.2 1360.5,1048.2 1359.5,1048.1 1358.5,1048.1 1357.5,1047.6 1356.5,1047.3 1355.5,1047.2 1354.5,1047.0 1353.5,1046.9 1352.5,1046.7 1351.5,1046.7 1350.4,1046.6 1349.4,1046.3 1348.4,1045.9 1347.4,1045.7 1346.4,1045.3 1345.4,1044.9 1344.4,1044.7 1343.4,1044.5 1342.4,1044.3 1341.4,1044.2 1340.3,1044.1 1339.3,1043.9 1338.3,1043.7 1337.3,1043.7 1336.3,1043.5 1335.3,1043.2 1334.3,1042.5 1333.3,1042.5 1332.3,1042.0 1331.2,1041.6 1330.2,1041.3 1329.2,1041.4 1328.2,1041.2 1327.2,1041.4 1326.2,1041.2 1325.2,1041.3 1324.2,1040.8 1323.2,1040.3 1322.2,1039.9 1321.1,1039.5 1320.1,1039.2 1319.1,1038.8 1318.1,1038.6 1317.1,1038.3 1316.1,1038.4 1315.1,1038.1 1314.1,1037.9 1313.1,1037.4 1312.1,1037.3 1311.0,1037.1 1310.0,1036.9 1309.0,1037.0 1308.0,1036.5 1307.0,1036.0 1306.0,1035.0 1305.0,1035.1 1304.0,1035.0 1303.0,1034.9 1301.9,1034.3 1300.9,1033.9 1299.9,1033.8 1298.9,1033.4 1297.9,1033.2 1296.9,1032.8 1295.9,1032.7 1294.9,1032.3 1293.9,1032.0 1292.9,1031.6 1291.8,1031.4 1290.8,1031.1 1289.8,1030.8 1288.8,1030.4 1287.8,1030.0 1286.8,1029.7 1285.8,1029.6 1284.8,1029.5 1283.8,1029.1 1282.8,1028.7 1281.7,1028.3 1280.7,1028.1 1279.7,1027.9 1278.7,1027.6 1277.7,1027.5 1276.7,1027.2 1275.7,1027.0 1274.7,1026.6 1273.7,1026.1 1272.6,1025.8 1271.6,1025.4 1270.6,1025.1 1269.6,1024.7 1268.6,1024.3 1267.6,1024.1 1266.6,1023.8 1265.6,1023.5 1264.6,1023.2 1263.6,1022.9 1262.5,1022.5 1261.5,1022.2 1260.5,1021.8 1259.5,1021.3 1258.5,1020.8 1257.5,1020.4 1256.5,1020.2 1255.5,1019.8 1254.5,1019.3 1253.5,1018.8 1252.4,1018.3 1251.4,1017.8 1250.4,1017.3 1249.4,1016.7 1248.4,1016.1 1247.4,1015.5 1246.4,1014.9 1245.4,1014.2 1244.4,1013.5 1243.4,1012.8 1242.3,1012.1 1241.3,1011.4 1240.3,1010.7 1239.3,1010.0 1238.3,1009.2 1237.3,1008.5 1236.3,1007.7 1235.3,1006.9 1234.3,1006.2 1233.2,1005.4 1232.2,1004.6 1231.2,1003.9 1230.2,1003.1 1229.2,1002.3 1228.2,1001.5 1227.2,1000.8 1226.2,1000.1 1225.2,999.4 1224.2,998.8 1223.1,998.1 1222.1,997.4 1221.1,996.6 1220.1,995.8 1219.1,994.9 1218.1,993.9 1217.1,992.8 1216.1,991.5 1215.1,989.7 1214.1,987.1 1213.0,984.1 1212.0,981.2 1211.0,978.7 1210.0,976.9 1209.0,975.4 1208.0,974.3 1207.0,973.6 1206.0,973.1 1205.0,972.7 1203.9,972.8 1202.9,973.5 1201.9,974.5 1200.9,975.3 1199.9,975.7 1198.9,976.0 1197.9,976.2 1196.9,976.3 1195.9,976.2 1194.9,975.6 1193.8,974.5 1192.8,973.3 1191.8,972.0 1190.8,970.8 1189.8,969.7 1188.8,968.5 1187.8,967.2 1186.8,966.0 1185.8,964.6 1184.8,963.3 1183.7,961.9" fill="#0aad0a" fill-opacity="0.18" stroke="none"/>
<polyline points="1183.7,960.6 1184.8,962.0 1185.8,963.4 1186.8,964.7 1187.8,966.0 1188.8,967.2 1189.8,968.4 1190.8,969.5 1191.8,970.7 1192.8,972.0 1193.8,973.2 1194.9,974.3 1195.9,974.9 1196.9,975.0 1197.9,974.9 1198.9,974.7 1199.9,974.4 1200.9,974.0 1201.9,973.2 1202.9,972.1 1203.9,971.4 1205.0,971.4 1206.0,971.7 1207.0,972.3 1208.0,972.9 1209.0,974.0 1210.0,975.5 1211.0,977.2 1212.0,979.7 1213.0,982.7 1214.1,985.7 1215.1,988.3 1216.1,990.0 1217.1,991.3 1218.1,992.4 1219.1,993.4 1220.1,994.3 1221.1,995.1 1222.1,995.9 1223.1,996.6 1224.2,997.3 1225.2,997.9 1226.2,998.6 1227.2,999.3 1228.2,1000.0 1229.2,1000.7 1230.2,1001.5 1231.2,1002.3 1232.2,1003.1 1233.2,1003.8 1234.3,1004.6 1235.3,1005.3 1236.3,1006.1 1237.3,1006.9 1238.3,1007.6 1239.3,1008.3 1240.3,1009.1 1241.3,1009.8 1242.3,1010.5 1243.4,1011.2 1244.4,1011.8 1245.4,1012.6 1246.4,1013.2 1247.4,1013.8 1248.4,1014.4 1249.4,1015.0 1250.4,1015.6 1251.4,1016.1 1252.4,1016.6 1253.5,1017.1 1254.5,1017.6 1255.5,1018.1 1256.5,1018.4 1257.5,1018.7 1258.5,1019.0 1259.5,1019.5 1260.5,1020.0 1261.5,1020.4 1262.5,1020.7 1263.6,1021.1 1264.6,1021.4 1265.6,1021.7 1266.6,1021.9 1267.6,1022.3 1268.6,1022.5 1269.6,1022.9 1270.6,1023.2 1271.6,1023.6 1272.6,1023.9 1273.7,1024.3 1274.7,1024.7 1275.7,1025.1 1276.7,1025.3 1277.7,1025.6 1278.7,1025.7 1279.7,1026.0 1280.7,1026.1 1281.7,1026.4 1282.8,1026.8 1283.8,1027.2 1284.8,1027.5 1285.8,1027.6 1286.8,1027.8 1287.8,1028.0 1288.8,1028.4 1289.8,1028.8 1290.8,1029.2 1291.8,1029.4 1292.9,1029.6 1293.9,1030.0 1294.9,1030.3 1295.9,1030.7 1296.9,1030.8 1297.9,1031.2 1298.9,1031.4 1299.9,1031.7 1300.9,1031.8 1301.9,1032.3 1303.0,1032.8 1304.0,1032.9 1305.0,1033.0 1306.0,1033.0 1307.0,1033.9 1308.0,1034.4 1309.0,1034.9 1310.0,1034.8 1311.0,1035.0 1312.1,1035.2 1313.1,1035.3 1314.1,1035.7 1315.1,1036.0 1316.1,1036.3 1317.1,1036.1 1318.1,1036.4 1319.1,1036.7 1320.1,1037.0 1321.1,1037.3 1322.2,1037.7 1323.2,1038.1 1324.2,1038.5 1325.2,1039.0 1326.2,1039.0 1327.2,1039.2 1328.2,1038.9 1329.2,1039.1 1330.2,1039.1 1331.2,1039.3 1332.3,1039.7 1333.3,1040.2 1334.3,1040.3 1335.3,1040.9 1336.3,1041.2 1337.3,1041.4 1338.3,1041.3 1339.3,1041.5 1340.3,1041.8 1341.4,1041.9 1342.4,1042.0 1343.4,1042.1 1344.4,1042.3 1345.4,1042.6 1346.4,1042.9 1347.4,1043.3 1348.4,1043.5 1349.4,1043.9 1350.4,1044.2 1351.5,1044.3 1352.5,1044.3 1353.5,1044.5 1354.5,1044.6 1355.5,1044.8 1356.5,1044.8 1357.5,1045.2 1358.5,1045.6 1359.5,1045.6 1360.5,1045.7 1361.6,1045.7 1362.6,1046.1 1363.6,1046.5 1364.6,1046.4" fill="none" stroke="#0aad0a" stroke-width="2.2" stroke-linejoin="round"/>
<polygon points="1183.7,958.0 1184.8,961.2 1185.8,964.3 1186.8,967.1 1187.8,969.6 1188.8,971.8 1189.8,973.7 1190.8,975.2 1191.8,976.5 1192.8,977.7 1193.8,978.7 1194.9,979.6 1195.9,980.1 1196.9,980.1 1197.9,979.7 1198.9,978.9 1199.9,978.0 1200.9,977.1 1201.9,975.7 1202.9,974.2 1203.9,973.2 1205.0,973.2 1206.0,973.7 1207.0,974.4 1208.0,975.2 1209.0,976.2 1210.0,977.4 1211.0,978.8 1212.0,980.7 1213.0,982.9 1214.1,985.1 1215.1,987.1 1216.1,988.5 1217.1,989.5 1218.1,990.4 1219.1,991.2 1220.1,992.0 1221.1,992.7 1222.1,993.3 1223.1,993.9 1224.2,994.5 1225.2,995.0 1226.2,995.6 1227.2,996.3 1228.2,996.9 1229.2,997.6 1230.2,998.4 1231.2,999.1 1232.2,999.8 1233.2,1000.6 1234.3,1001.3 1235.3,1002.1 1236.3,1002.8 1237.3,1003.6 1238.3,1004.3 1239.3,1005.0 1240.3,1005.7 1241.3,1006.4 1242.3,1007.1 1243.4,1007.7 1244.4,1008.3 1245.4,1009.0 1246.4,1009.6 1247.4,1010.1 1248.4,1010.6 1249.4,1011.1 1250.4,1011.6 1251.4,1012.2 1252.4,1012.6 1253.5,1013.1 1254.5,1013.5 1255.5,1014.0 1256.5,1014.5 1257.5,1015.0 1258.5,1015.4 1259.5,1015.7 1260.5,1016.1 1261.5,1016.5 1262.5,1017.0 1263.6,1017.4 1264.6,1017.8 1265.6,1018.3 1266.6,1018.7 1267.6,1019.1 1268.6,1019.3 1269.6,1019.7 1270.6,1020.2 1271.6,1020.5 1272.6,1020.8 1273.7,1020.9 1274.7,1021.3 1275.7,1021.7 1276.7,1022.1 1277.7,1022.6 1278.7,1022.8 1279.7,1023.1 1280.7,1023.2 1281.7,1023.8 1282.8,1024.3 1283.8,1024.7 1284.8,1024.9 1285.8,1025.1 1286.8,1025.4 1287.8,1025.7 1288.8,1026.0 1289.8,1026.2 1290.8,1026.5 1291.8,1027.0 1292.9,1027.3 1293.9,1027.7 1294.9,1027.8 1295.9,1028.2 1296.9,1028.4 1297.9,1028.8 1298.9,1028.9 1299.9,1029.3 1300.9,1029.6 1301.9,1030.1 1303.0,1030.4 1304.0,1030.7 1305.0,1030.9 1306.0,1031.2 1307.0,1031.3 1308.0,1031.5 1309.0,1031.8 1310.0,1032.1 1311.0,1032.4 1312.1,1032.6 1313.1,1032.8 1314.1,1033.3 1315.1,1033.9 1316.1,1034.5 1317.1,1034.6 1318.1,1034.8 1319.1,1034.8 1320.1,1035.2 1321.1,1035.4 1322.2,1035.7 1323.2,1035.6 1324.2,1035.9 1325.2,1036.2 1326.2,1036.8 1327.2,1036.7 1328.2,1036.7 1329.2,1036.7 1330.2,1037.0 1331.2,1037.5 1332.3,1037.6 1333.3,1038.0 1334.3,1037.7 1335.3,1038.0 1336.3,1038.2 1337.3,1039.1 1338.3,1039.3 1339.3,1039.4 1340.3,1039.2 1341.4,1039.4 1342.4,1040.0 1343.4,1040.1 1344.4,1040.4 1345.4,1040.4 1346.4,1040.5 1347.4,1040.6 1348.4,1040.5 1349.4,1040.8 1350.4,1041.1 1351.5,1041.6 1352.5,1042.4 1353.5,1042.9 1354.5,1043.5 1355.5,1043.6 1356.5,1043.7 1357.5,1043.6 1358.5,1043.8 1359.5,1044.3 1360.5,1044.3 1361.6,1044.5 1362.6,1044.7 1363.6,1045.0 1364.6,1045.1 1364.6,1051.1 1363.6,1051.0 1362.6,1050.6 1361.6,1050.4 1360.5,1050.2 1359.5,1050.2 1358.5,1049.6 1357.5,1049.5 1356.5,1049.5 1355.5,1049.4 1354.5,1049.3 1353.5,1048.7 1352.5,1048.2 1351.5,1047.3 1350.4,1046.8 1349.4,1046.5 1348.4,1046.2 1347.4,1046.2 1346.4,1046.2 1345.4,1046.0 1344.4,1046.0 1343.4,1045.7 1342.4,1045.5 1341.4,1044.9 1340.3,1044.7 1339.3,1044.9 1338.3,1044.8 1337.3,1044.5 1336.3,1043.6 1335.3,1043.5 1334.3,1043.1 1333.3,1043.4 1332.3,1043.0 1331.2,1042.9 1330.2,1042.3 1329.2,1042.0 1328.2,1042.0 1327.2,1041.9 1326.2,1042.0 1325.2,1041.4 1324.2,1041.2 1323.2,1040.8 1322.2,1040.8 1321.1,1040.5 1320.1,1040.3 1319.1,1039.9 1318.1,1039.8 1317.1,1039.7 1316.1,1039.5 1315.1,1038.9 1314.1,1038.4 1313.1,1037.8 1312.1,1037.6 1311.0,1037.4 1310.0,1037.0 1309.0,1036.7 1308.0,1036.4 1307.0,1036.2 1306.0,1036.1 1305.0,1035.8 1304.0,1035.6 1303.0,1035.2 1301.9,1034.9 1300.9,1034.3 1299.9,1034.0 1298.9,1033.7 1297.9,1033.5 1296.9,1033.1 1295.9,1032.9 1294.9,1032.4 1293.9,1032.3 1292.9,1031.9 1291.8,1031.6 1290.8,1031.1 1289.8,1030.7 1288.8,1030.6 1287.8,1030.2 1286.8,1029.9 1285.8,1029.5 1284.8,1029.4 1283.8,1029.2 1282.8,1028.7 1281.7,1028.1 1280.7,1027.6 1279.7,1027.4 1278.7,1027.1 1277.7,1026.9 1276.7,1026.4 1275.7,1026.0 1274.7,1025.5 1273.7,1025.2 1272.6,1025.0 1271.6,1024.7 1270.6,1024.4 1269.6,1023.9 1268.6,1023.5 1267.6,1023.2 1266.6,1022.8 1265.6,1022.4 1264.6,1021.9 1263.6,1021.4 1262.5,1021.0 1261.5,1020.5 1260.5,1020.1 1259.5,1019.7 1258.5,1019.3 1257.5,1018.9 1256.5,1018.4 1255.5,1017.8 1254.5,1017.3 1253.5,1016.9 1252.4,1016.5 1251.4,1016.0 1250.4,1015.4 1249.4,1014.8 1248.4,1014.3 1247.4,1013.8 1246.4,1013.3 1245.4,1012.6 1244.4,1012.0 1243.4,1011.3 1242.3,1010.7 1241.3,1010.0 1240.3,1009.3 1239.3,1008.6 1238.3,1007.9 1237.3,1007.1 1236.3,1006.3 1235.3,1005.6 1234.3,1004.8 1233.2,1004.0 1232.2,1003.3 1231.2,1002.5 1230.2,1001.8 1229.2,1001.0 1228.2,1000.3 1227.2,999.6 1226.2,998.9 1225.2,998.3 1224.2,997.7 1223.1,997.1 1222.1,996.5 1221.1,995.9 1220.1,995.2 1219.1,994.4 1218.1,993.6 1217.1,992.6 1216.1,991.6 1215.1,990.2 1214.1,988.2 1213.0,986.0 1212.0,983.8 1211.0,981.8 1210.0,980.4 1209.0,979.1 1208.0,978.1 1207.0,977.3 1206.0,976.6 1205.0,976.1 1203.9,976.1 1202.9,977.1 1201.9,978.6 1200.9,979.9 1199.9,980.8 1198.9,981.7 1197.9,982.5 1196.9,982.9 1195.9,982.8 1194.9,982.3 1193.8,981.4 1192.8,980.3 1191.8,979.1 1190.8,977.8 1189.8,976.3 1188.8,974.4 1187.8,972.2 1186.8,969.6 1185.8,966.8 1184.8,963.7 1183.7,960.5" fill="#ff00ff" fill-opacity="0.18" stroke="none"/>
<polyline points="1183.7,959.2 1184.8,962.5 1185.8,965.5 1186.8,968.4 1187.8,970.9 1188.8,973.1 1189.8,975.0 1190.8,976.5 1191.8,977.8 1192.8,979.0 1193.8,980.1 1194.9,980.9 1195.9,981.4 1196.9,981.5 1197.9,981.1 1198.9,980.3 1199.9,979.4 1200.9,978.5 1201.9,977.2 1202.9,975.7 1203.9,974.7 1205.0,974.6 1206.0,975.1 1207.0,975.9 1208.0,976.7 1209.0,977.7 1210.0,978.9 1211.0,980.3 1212.0,982.2 1213.0,984.5 1214.1,986.7 1215.1,988.6 1216.1,990.0 1217.1,991.1 1218.1,992.0 1219.1,992.8 1220.1,993.6 1221.1,994.3 1222.1,994.9 1223.1,995.5 1224.2,996.1 1225.2,996.7 1226.2,997.3 1227.2,997.9 1228.2,998.6 1229.2,999.3 1230.2,1000.1 1231.2,1000.8 1232.2,1001.5 1233.2,1002.3 1234.3,1003.1 1235.3,1003.8 1236.3,1004.6 1237.3,1005.4 1238.3,1006.1 1239.3,1006.8 1240.3,1007.5 1241.3,1008.2 1242.3,1008.9 1243.4,1009.5 1244.4,1010.1 1245.4,1010.8 1246.4,1011.5 1247.4,1012.0 1248.4,1012.5 1249.4,1013.0 1250.4,1013.5 1251.4,1014.1 1252.4,1014.6 1253.5,1015.0 1254.5,1015.4 1255.5,1015.9 1256.5,1016.4 1257.5,1016.9 1258.5,1017.3 1259.5,1017.7 1260.5,1018.1 1261.5,1018.5 1262.5,1019.0 1263.6,1019.4 1264.6,1019.9 1265.6,1020.3 1266.6,1020.8 1267.6,1021.1 1268.6,1021.4 1269.6,1021.8 1270.6,1022.3 1271.6,1022.6 1272.6,1022.9 1273.7,1023.1 1274.7,1023.4 1275.7,1023.8 1276.7,1024.3 1277.7,1024.7 1278.7,1025.0 1279.7,1025.2 1280.7,1025.4 1281.7,1025.9 1282.8,1026.5 1283.8,1026.9 1284.8,1027.1 1285.8,1027.3 1286.8,1027.7 1287.8,1028.0 1288.8,1028.3 1289.8,1028.5 1290.8,1028.8 1291.8,1029.3 1292.9,1029.6 1293.9,1030.0 1294.9,1030.1 1295.9,1030.5 1296.9,1030.7 1297.9,1031.2 1298.9,1031.3 1299.9,1031.6 1300.9,1031.9 1301.9,1032.5 1303.0,1032.8 1304.0,1033.2 1305.0,1033.4 1306.0,1033.7 1307.0,1033.8 1308.0,1034.0 1309.0,1034.3 1310.0,1034.6 1311.0,1034.9 1312.1,1035.1 1313.1,1035.3 1314.1,1035.9 1315.1,1036.4 1316.1,1037.0 1317.1,1037.2 1318.1,1037.3 1319.1,1037.3 1320.1,1037.7 1321.1,1038.0 1322.2,1038.3 1323.2,1038.2 1324.2,1038.6 1325.2,1038.8 1326.2,1039.4 1327.2,1039.3 1328.2,1039.4 1329.2,1039.3 1330.2,1039.6 1331.2,1040.2 1332.3,1040.3 1333.3,1040.7 1334.3,1040.4 1335.3,1040.7 1336.3,1040.9 1337.3,1041.8 1338.3,1042.0 1339.3,1042.1 1340.3,1042.0 1341.4,1042.1 1342.4,1042.7 1343.4,1042.9 1344.4,1043.2 1345.4,1043.2 1346.4,1043.4 1347.4,1043.4 1348.4,1043.4 1349.4,1043.6 1350.4,1043.9 1351.5,1044.4 1352.5,1045.3 1353.5,1045.8 1354.5,1046.4 1355.5,1046.5 1356.5,1046.6 1357.5,1046.5 1358.5,1046.7 1359.5,1047.2 1360.5,1047.2 1361.6,1047.4 1362.6,1047.6 1363.6,1048.0 1364.6,1048.1" fill="none" stroke="#ff00ff" stroke-width="2.2" stroke-linejoin="round"/>
<line x1="1448.00" y1="931.40" x2="1448.00" y2="1072.50" stroke="#1a1a1a" stroke-width="2"/>
<line x1="1439.40" y1="932.30" x2="1448.00" y2="932.30" stroke="#1a1a1a" stroke-width="2"/>
<text transform="translate(1424.20 938.90) scale(1 1.1)" font-size="22" text-anchor="end">10</text>
<text transform="translate(1423.80 931.50) scale(1 1.04)" font-size="14">-1</text>
<line x1="1439.40" y1="978.73" x2="1448.00" y2="978.73" stroke="#1a1a1a" stroke-width="2"/>
<text transform="translate(1424.20 985.33) scale(1 1.1)" font-size="22" text-anchor="end">10</text>
<text transform="translate(1423.80 977.93) scale(1 1.04)" font-size="14">-2</text>
<line x1="1439.40" y1="1025.17" x2="1448.00" y2="1025.17" stroke="#1a1a1a" stroke-width="2"/>
<text transform="translate(1424.20 1031.77) scale(1 1.1)" font-size="22" text-anchor="end">10</text>
<text transform="translate(1423.80 1024.37) scale(1 1.04)" font-size="14">-3</text>
<line x1="1439.40" y1="1071.60" x2="1448.00" y2="1071.60" stroke="#1a1a1a" stroke-width="2"/>
<text transform="translate(1424.20 1078.20) scale(1 1.1)" font-size="22" text-anchor="end">10</text>
<text transform="translate(1423.80 1070.80) scale(1 1.04)" font-size="14">-4</text>
<line x1="1443.50" y1="964.76" x2="1448.00" y2="964.76" stroke="#1a1a1a" stroke-width="1.7"/>
<line x1="1443.50" y1="956.58" x2="1448.00" y2="956.58" stroke="#1a1a1a" stroke-width="1.7"/>
<line x1="1443.50" y1="950.78" x2="1448.00" y2="950.78" stroke="#1a1a1a" stroke-width="1.7"/>
<line x1="1443.50" y1="946.28" x2="1448.00" y2="946.28" stroke="#1a1a1a" stroke-width="1.7"/>
<line x1="1443.50" y1="942.60" x2="1448.00" y2="942.60" stroke="#1a1a1a" stroke-width="1.7"/>
<line x1="1443.50" y1="939.49" x2="1448.00" y2="939.49" stroke="#1a1a1a" stroke-width="1.7"/>
<line x1="1443.50" y1="936.80" x2="1448.00" y2="936.80" stroke="#1a1a1a" stroke-width="1.7"/>
<line x1="1443.50" y1="934.42" x2="1448.00" y2="934.42" stroke="#1a1a1a" stroke-width="1.7"/>
<line x1="1443.50" y1="1011.19" x2="1448.00" y2="1011.19" stroke="#1a1a1a" stroke-width="1.7"/>
<line x1="1443.50" y1="1003.01" x2="1448.00" y2="1003.01" stroke="#1a1a1a" stroke-width="1.7"/>
<line x1="1443.50" y1="997.21" x2="1448.00" y2="997.21" stroke="#1a1a1a" stroke-width="1.7"/>
<line x1="1443.50" y1="992.71" x2="1448.00" y2="992.71" stroke="#1a1a1a" stroke-width="1.7"/>
<line x1="1443.50" y1="989.03" x2="1448.00" y2="989.03" stroke="#1a1a1a" stroke-width="1.7"/>
<line x1="1443.50" y1="985.93" x2="1448.00" y2="985.93" stroke="#1a1a1a" stroke-width="1.7"/>
<line x1="1443.50" y1="983.23" x2="1448.00" y2="983.23" stroke="#1a1a1a" stroke-width="1.7"/>
<line x1="1443.50" y1="980.86" x2="1448.00" y2="980.86" stroke="#1a1a1a" stroke-width="1.7"/>
<line x1="1443.50" y1="1057.62" x2="1448.00" y2="1057.62" stroke="#1a1a1a" stroke-width="1.7"/>
<line x1="1443.50" y1="1049.45" x2="1448.00" y2="1049.45" stroke="#1a1a1a" stroke-width="1.7"/>
<line x1="1443.50" y1="1043.64" x2="1448.00" y2="1043.64" stroke="#1a1a1a" stroke-width="1.7"/>
<line x1="1443.50" y1="1039.14" x2="1448.00" y2="1039.14" stroke="#1a1a1a" stroke-width="1.7"/>
<line x1="1443.50" y1="1035.47" x2="1448.00" y2="1035.47" stroke="#1a1a1a" stroke-width="1.7"/>
<line x1="1443.50" y1="1032.36" x2="1448.00" y2="1032.36" stroke="#1a1a1a" stroke-width="1.7"/>
<line x1="1443.50" y1="1029.67" x2="1448.00" y2="1029.67" stroke="#1a1a1a" stroke-width="1.7"/>
<line x1="1443.50" y1="1027.29" x2="1448.00" y2="1027.29" stroke="#1a1a1a" stroke-width="1.7"/>
<line x1="1439.40" y1="1071.60" x2="1634.70" y2="1071.60" stroke="#1a1a1a" stroke-width="2"/>
<line x1="1448.00" y1="1071.60" x2="1448.00" y2="1079.60" stroke="#1a1a1a" stroke-width="2"/>
<line x1="1468.64" y1="1071.60" x2="1468.64" y2="1079.60" stroke="#1a1a1a" stroke-width="2"/>
<line x1="1489.29" y1="1071.60" x2="1489.29" y2="1079.60" stroke="#1a1a1a" stroke-width="2"/>
<line x1="1509.93" y1="1071.60" x2="1509.93" y2="1079.60" stroke="#1a1a1a" stroke-width="2"/>
<line x1="1530.58" y1="1071.60" x2="1530.58" y2="1079.60" stroke="#1a1a1a" stroke-width="2"/>
<line x1="1551.22" y1="1071.60" x2="1551.22" y2="1079.60" stroke="#1a1a1a" stroke-width="2"/>
<line x1="1571.87" y1="1071.60" x2="1571.87" y2="1079.60" stroke="#1a1a1a" stroke-width="2"/>
<line x1="1592.51" y1="1071.60" x2="1592.51" y2="1079.60" stroke="#1a1a1a" stroke-width="2"/>
<line x1="1613.16" y1="1071.60" x2="1613.16" y2="1079.60" stroke="#1a1a1a" stroke-width="2"/>
<line x1="1633.80" y1="1071.60" x2="1633.80" y2="1079.60" stroke="#1a1a1a" stroke-width="2"/>
<text x="1448.00" y="1100.20" font-size="22" text-anchor="middle" fill="#000">0</text>
<text x="1509.93" y="1100.20" font-size="22" text-anchor="middle" fill="#000">15</text>
<text x="1571.87" y="1100.20" font-size="22" text-anchor="middle" fill="#000">30</text>
<text x="1633.80" y="1100.20" font-size="22" text-anchor="middle" fill="#000">45</text>
<text x="1542.50" y="918.20" font-size="26" text-anchor="middle" fill="#000">V1</text>
<polygon points="1451.9,958.1 1452.9,959.1 1453.9,960.0 1455.0,961.0 1456.0,961.9 1457.0,962.8 1458.0,963.7 1459.0,964.7 1460.0,965.8 1461.0,967.0 1462.0,968.1 1463.0,969.0 1464.1,969.4 1465.1,969.5 1466.1,969.3 1467.1,969.0 1468.1,968.7 1469.1,968.3 1470.1,967.8 1471.1,967.3 1472.2,966.7 1473.2,966.1 1474.2,965.6 1475.2,965.2 1476.2,965.1 1477.2,965.8 1478.2,967.1 1479.2,968.7 1480.2,971.2 1481.3,974.4 1482.3,977.7 1483.3,980.7 1484.3,982.8 1485.3,984.5 1486.3,986.1 1487.3,987.6 1488.3,989.0 1489.3,990.3 1490.4,991.4 1491.4,992.5 1492.4,993.6 1493.4,994.6 1494.4,995.5 1495.4,996.5 1496.4,997.4 1497.4,998.2 1498.4,999.0 1499.5,999.8 1500.5,1000.5 1501.5,1001.3 1502.5,1002.0 1503.5,1002.7 1504.5,1003.3 1505.5,1004.0 1506.5,1004.6 1507.6,1005.3 1508.6,1005.9 1509.6,1006.5 1510.6,1007.1 1511.6,1007.7 1512.6,1008.3 1513.6,1009.0 1514.6,1009.7 1515.6,1010.4 1516.7,1011.0 1517.7,1011.6 1518.7,1012.3 1519.7,1013.0 1520.7,1013.8 1521.7,1014.5 1522.7,1015.2 1523.7,1015.9 1524.7,1016.4 1525.8,1017.1 1526.8,1017.7 1527.8,1018.5 1528.8,1019.2 1529.8,1019.8 1530.8,1020.4 1531.8,1021.0 1532.8,1021.6 1533.9,1022.2 1534.9,1023.0 1535.9,1023.5 1536.9,1024.1 1537.9,1024.5 1538.9,1025.2 1539.9,1025.8 1540.9,1026.3 1541.9,1026.6 1543.0,1027.2 1544.0,1027.6 1545.0,1028.1 1546.0,1028.5 1547.0,1029.0 1548.0,1029.4 1549.0,1029.8 1550.0,1030.2 1551.0,1030.7 1552.1,1031.1 1553.1,1031.4 1554.1,1031.8 1555.1,1032.1 1556.1,1032.5 1557.1,1032.5 1558.1,1032.8 1559.1,1033.2 1560.1,1033.6 1561.2,1034.1 1562.2,1034.2 1563.2,1034.6 1564.2,1035.0 1565.2,1035.3 1566.2,1035.5 1567.2,1035.5 1568.2,1035.8 1569.3,1036.3 1570.3,1036.6 1571.3,1036.8 1572.3,1037.0 1573.3,1037.3 1574.3,1037.7 1575.3,1037.7 1576.3,1037.8 1577.3,1037.9 1578.4,1038.1 1579.4,1038.2 1580.4,1038.3 1581.4,1038.7 1582.4,1039.2 1583.4,1039.4 1584.4,1039.6 1585.4,1039.8 1586.4,1040.2 1587.5,1040.5 1588.5,1040.8 1589.5,1041.0 1590.5,1040.7 1591.5,1040.6 1592.5,1040.8 1593.5,1041.3 1594.5,1041.8 1595.6,1041.8 1596.6,1041.9 1597.6,1042.0 1598.6,1042.1 1599.6,1042.4 1600.6,1042.9 1601.6,1043.2 1602.6,1043.1 1603.6,1042.8 1604.7,1043.0 1605.7,1043.2 1606.7,1043.6 1607.7,1043.6 1608.7,1043.7 1609.7,1043.5 1610.7,1043.4 1611.7,1043.6 1612.7,1043.8 1613.8,1044.3 1614.8,1044.1 1615.8,1044.0 1616.8,1043.9 1617.8,1044.1 1618.8,1044.4 1619.8,1044.6 1620.8,1044.9 1621.8,1045.3 1622.9,1045.1 1623.9,1044.7 1624.9,1044.3 1625.9,1044.9 1626.9,1045.1 1627.9,1045.3 1628.9,1045.1 1629.9,1045.4 1631.0,1045.2 1632.0,1045.1 1633.0,1045.1 1633.0,1055.1 1632.0,1055.0 1631.0,1055.1 1629.9,1055.2 1628.9,1054.9 1627.9,1055.1 1626.9,1054.8 1625.9,1054.6 1624.9,1054.0 1623.9,1054.3 1622.9,1054.7 1621.8,1054.9 1620.8,1054.4 1619.8,1054.1 1618.8,1053.8 1617.8,1053.5 1616.8,1053.3 1615.8,1053.3 1614.8,1053.3 1613.8,1053.5 1612.7,1053.0 1611.7,1052.8 1610.7,1052.5 1609.7,1052.6 1608.7,1052.8 1607.7,1052.6 1606.7,1052.5 1605.7,1052.1 1604.7,1051.9 1603.6,1051.6 1602.6,1052.0 1601.6,1051.9 1600.6,1051.6 1599.6,1051.1 1598.6,1050.7 1597.6,1050.6 1596.6,1050.5 1595.6,1050.4 1594.5,1050.3 1593.5,1049.8 1592.5,1049.3 1591.5,1049.0 1590.5,1049.1 1589.5,1049.3 1588.5,1049.1 1587.5,1048.8 1586.4,1048.4 1585.4,1047.9 1584.4,1047.8 1583.4,1047.5 1582.4,1047.3 1581.4,1046.7 1580.4,1046.3 1579.4,1046.2 1578.4,1046.0 1577.3,1045.8 1576.3,1045.6 1575.3,1045.5 1574.3,1045.4 1573.3,1045.0 1572.3,1044.7 1571.3,1044.4 1570.3,1044.2 1569.3,1043.8 1568.2,1043.4 1567.2,1043.0 1566.2,1043.0 1565.2,1042.7 1564.2,1042.4 1563.2,1042.0 1562.2,1041.5 1561.2,1041.4 1560.1,1040.8 1559.1,1040.4 1558.1,1039.9 1557.1,1039.7 1556.1,1039.5 1555.1,1039.1 1554.1,1038.8 1553.1,1038.4 1552.1,1038.1 1551.0,1037.6 1550.0,1037.1 1549.0,1036.6 1548.0,1036.2 1547.0,1035.7 1546.0,1035.2 1545.0,1034.8 1544.0,1034.2 1543.0,1033.8 1541.9,1033.2 1540.9,1032.8 1539.9,1032.3 1538.9,1031.7 1537.9,1030.9 1536.9,1030.4 1535.9,1029.8 1534.9,1029.3 1533.9,1028.5 1532.8,1027.8 1531.8,1027.2 1530.8,1026.5 1529.8,1025.9 1528.8,1025.2 1527.8,1024.5 1526.8,1023.7 1525.8,1023.0 1524.7,1022.3 1523.7,1021.7 1522.7,1021.0 1521.7,1020.3 1520.7,1019.5 1519.7,1018.7 1518.7,1018.0 1517.7,1017.2 1516.7,1016.6 1515.6,1015.9 1514.6,1015.2 1513.6,1014.5 1512.6,1013.8 1511.6,1013.1 1510.6,1012.5 1509.6,1011.8 1508.6,1011.2 1507.6,1010.5 1506.5,1009.8 1505.5,1009.2 1504.5,1008.4 1503.5,1007.8 1502.5,1007.0 1501.5,1006.3 1500.5,1005.5 1499.5,1004.7 1498.4,1003.9 1497.4,1003.1 1496.4,1002.2 1495.4,1001.3 1494.4,1000.3 1493.4,999.3 1492.4,998.3 1491.4,997.2 1490.4,996.0 1489.3,994.8 1488.3,993.5 1487.3,992.1 1486.3,990.6 1485.3,988.9 1484.3,987.2 1483.3,985.0 1482.3,982.0 1481.3,978.6 1480.2,975.4 1479.2,972.9 1478.2,971.3 1477.2,969.9 1476.2,969.2 1475.2,969.2 1474.2,969.5 1473.2,970.0 1472.2,970.6 1471.1,971.1 1470.1,971.7 1469.1,972.1 1468.1,972.4 1467.1,972.7 1466.1,973.0 1465.1,973.1 1464.1,973.0 1463.0,972.5 1462.0,971.7 1461.0,970.5 1460.0,969.3 1459.0,968.1 1458.0,967.1 1457.0,966.2 1456.0,965.2 1455.0,964.2 1453.9,963.2 1452.9,962.3 1451.9,961.3" fill="#0aad0a" fill-opacity="0.18" stroke="none"/>
<polyline points="1451.9,959.7 1452.9,960.7 1453.9,961.6 1455.0,962.6 1456.0,963.5 1457.0,964.5 1458.0,965.4 1459.0,966.4 1460.0,967.6 1461.0,968.8 1462.0,969.9 1463.0,970.8 1464.1,971.2 1465.1,971.3 1466.1,971.1 1467.1,970.8 1468.1,970.5 1469.1,970.2 1470.1,969.8 1471.1,969.2 1472.2,968.6 1473.2,968.0 1474.2,967.6 1475.2,967.2 1476.2,967.1 1477.2,967.8 1478.2,969.2 1479.2,970.8 1480.2,973.3 1481.3,976.5 1482.3,979.9 1483.3,982.9 1484.3,985.0 1485.3,986.7 1486.3,988.4 1487.3,989.9 1488.3,991.2 1489.3,992.5 1490.4,993.7 1491.4,994.9 1492.4,995.9 1493.4,996.9 1494.4,997.9 1495.4,998.9 1496.4,999.8 1497.4,1000.6 1498.4,1001.5 1499.5,1002.3 1500.5,1003.0 1501.5,1003.8 1502.5,1004.5 1503.5,1005.2 1504.5,1005.9 1505.5,1006.6 1506.5,1007.2 1507.6,1007.9 1508.6,1008.5 1509.6,1009.2 1510.6,1009.8 1511.6,1010.4 1512.6,1011.0 1513.6,1011.8 1514.6,1012.5 1515.6,1013.1 1516.7,1013.8 1517.7,1014.4 1518.7,1015.2 1519.7,1015.9 1520.7,1016.6 1521.7,1017.4 1522.7,1018.1 1523.7,1018.8 1524.7,1019.4 1525.8,1020.0 1526.8,1020.7 1527.8,1021.5 1528.8,1022.2 1529.8,1022.9 1530.8,1023.5 1531.8,1024.1 1532.8,1024.7 1533.9,1025.4 1534.9,1026.1 1535.9,1026.6 1536.9,1027.3 1537.9,1027.7 1538.9,1028.5 1539.9,1029.0 1540.9,1029.5 1541.9,1029.9 1543.0,1030.5 1544.0,1030.9 1545.0,1031.5 1546.0,1031.8 1547.0,1032.3 1548.0,1032.8 1549.0,1033.2 1550.0,1033.7 1551.0,1034.1 1552.1,1034.6 1553.1,1034.9 1554.1,1035.3 1555.1,1035.6 1556.1,1036.0 1557.1,1036.1 1558.1,1036.4 1559.1,1036.8 1560.1,1037.2 1561.2,1037.7 1562.2,1037.9 1563.2,1038.3 1564.2,1038.7 1565.2,1039.0 1566.2,1039.2 1567.2,1039.3 1568.2,1039.6 1569.3,1040.0 1570.3,1040.4 1571.3,1040.6 1572.3,1040.8 1573.3,1041.1 1574.3,1041.5 1575.3,1041.6 1576.3,1041.7 1577.3,1041.8 1578.4,1042.1 1579.4,1042.2 1580.4,1042.3 1581.4,1042.7 1582.4,1043.3 1583.4,1043.5 1584.4,1043.7 1585.4,1043.8 1586.4,1044.3 1587.5,1044.6 1588.5,1044.9 1589.5,1045.1 1590.5,1044.9 1591.5,1044.8 1592.5,1045.1 1593.5,1045.5 1594.5,1046.1 1595.6,1046.1 1596.6,1046.2 1597.6,1046.3 1598.6,1046.4 1599.6,1046.8 1600.6,1047.2 1601.6,1047.5 1602.6,1047.6 1603.6,1047.2 1604.7,1047.4 1605.7,1047.7 1606.7,1048.1 1607.7,1048.1 1608.7,1048.2 1609.7,1048.1 1610.7,1048.0 1611.7,1048.2 1612.7,1048.4 1613.8,1048.9 1614.8,1048.7 1615.8,1048.7 1616.8,1048.6 1617.8,1048.8 1618.8,1049.1 1619.8,1049.3 1620.8,1049.7 1621.8,1050.1 1622.9,1049.9 1623.9,1049.5 1624.9,1049.2 1625.9,1049.7 1626.9,1049.9 1627.9,1050.2 1628.9,1050.0 1629.9,1050.3 1631.0,1050.1 1632.0,1050.1 1633.0,1050.1" fill="none" stroke="#0aad0a" stroke-width="2.2" stroke-linejoin="round"/>
<polygon points="1451.9,953.1 1452.9,954.5 1453.9,956.0 1455.0,957.5 1456.0,958.9 1457.0,960.4 1458.0,961.8 1459.0,963.4 1460.0,965.2 1461.0,967.1 1462.0,968.9 1463.0,970.2 1464.1,971.0 1465.1,971.1 1466.1,971.1 1467.1,971.1 1468.1,971.0 1469.1,970.3 1470.1,969.0 1471.1,967.6 1472.2,966.8 1473.2,966.1 1474.2,965.5 1475.2,965.1 1476.2,965.0 1477.2,965.6 1478.2,966.7 1479.2,968.2 1480.2,970.8 1481.3,974.3 1482.3,978.2 1483.3,981.8 1484.3,984.4 1485.3,986.7 1486.3,989.0 1487.3,991.2 1488.3,993.2 1489.3,995.1 1490.4,996.9 1491.4,998.5 1492.4,999.9 1493.4,1001.2 1494.4,1002.2 1495.4,1003.1 1496.4,1004.0 1497.4,1004.7 1498.4,1005.4 1499.5,1006.1 1500.5,1006.7 1501.5,1007.2 1502.5,1007.8 1503.5,1008.3 1504.5,1008.8 1505.5,1009.3 1506.5,1009.9 1507.6,1010.4 1508.6,1011.0 1509.6,1011.7 1510.6,1012.3 1511.6,1013.1 1512.6,1013.8 1513.6,1014.7 1514.6,1015.5 1515.6,1016.3 1516.7,1017.2 1517.7,1018.0 1518.7,1018.8 1519.7,1019.6 1520.7,1020.4 1521.7,1021.2 1522.7,1022.1 1523.7,1022.9 1524.7,1023.6 1525.8,1024.3 1526.8,1024.9 1527.8,1025.4 1528.8,1026.1 1529.8,1026.7 1530.8,1027.3 1531.8,1027.7 1532.8,1028.2 1533.9,1028.8 1534.9,1029.3 1535.9,1029.8 1536.9,1030.4 1537.9,1031.0 1538.9,1031.4 1539.9,1031.9 1540.9,1032.3 1541.9,1032.7 1543.0,1033.1 1544.0,1033.6 1545.0,1034.0 1546.0,1034.6 1547.0,1034.9 1548.0,1035.3 1549.0,1035.5 1550.0,1036.2 1551.0,1036.4 1552.1,1036.8 1553.1,1037.1 1554.1,1037.4 1555.1,1037.8 1556.1,1038.1 1557.1,1038.4 1558.1,1038.9 1559.1,1039.1 1560.1,1039.6 1561.2,1039.9 1562.2,1040.3 1563.2,1040.7 1564.2,1041.2 1565.2,1041.5 1566.2,1041.8 1567.2,1042.2 1568.2,1042.7 1569.3,1043.3 1570.3,1043.5 1571.3,1043.8 1572.3,1043.9 1573.3,1044.5 1574.3,1045.1 1575.3,1045.7 1576.3,1046.0 1577.3,1046.2 1578.4,1046.4 1579.4,1046.9 1580.4,1047.1 1581.4,1047.7 1582.4,1047.9 1583.4,1048.5 1584.4,1048.7 1585.4,1048.9 1586.4,1049.1 1587.5,1049.5 1588.5,1050.0 1589.5,1050.1 1590.5,1050.3 1591.5,1050.3 1592.5,1050.6 1593.5,1050.8 1594.5,1051.0 1595.6,1051.3 1596.6,1051.5 1597.6,1051.6 1598.6,1051.8 1599.6,1052.1 1600.6,1052.2 1601.6,1052.2 1602.6,1052.0 1603.6,1052.3 1604.7,1052.2 1605.7,1052.4 1606.7,1052.7 1607.7,1053.0 1608.7,1053.2 1609.7,1053.0 1610.7,1053.5 1611.7,1053.4 1612.7,1053.4 1613.8,1053.2 1614.8,1053.8 1615.8,1053.9 1616.8,1054.2 1617.8,1054.0 1618.8,1054.9 1619.8,1055.1 1620.8,1055.7 1621.8,1055.9 1622.9,1055.7 1623.9,1055.9 1624.9,1055.6 1625.9,1056.0 1626.9,1056.1 1627.9,1056.4 1628.9,1056.6 1629.9,1056.8 1631.0,1057.1 1632.0,1057.4 1633.0,1057.7 1633.0,1062.7 1632.0,1062.4 1631.0,1062.1 1629.9,1061.7 1628.9,1061.6 1627.9,1061.4 1626.9,1061.0 1625.9,1061.0 1624.9,1060.6 1623.9,1060.8 1622.9,1060.6 1621.8,1060.8 1620.8,1060.6 1619.8,1060.0 1618.8,1059.7 1617.8,1058.9 1616.8,1059.0 1615.8,1058.7 1614.8,1058.6 1613.8,1058.0 1612.7,1058.1 1611.7,1058.2 1610.7,1058.3 1609.7,1057.8 1608.7,1057.9 1607.7,1057.7 1606.7,1057.4 1605.7,1057.1 1604.7,1056.8 1603.6,1056.9 1602.6,1056.7 1601.6,1056.8 1600.6,1056.8 1599.6,1056.7 1598.6,1056.4 1597.6,1056.2 1596.6,1056.1 1595.6,1055.9 1594.5,1055.6 1593.5,1055.3 1592.5,1055.2 1591.5,1054.9 1590.5,1054.8 1589.5,1054.6 1588.5,1054.5 1587.5,1054.0 1586.4,1053.6 1585.4,1053.4 1584.4,1053.2 1583.4,1052.9 1582.4,1052.4 1581.4,1052.1 1580.4,1051.6 1579.4,1051.3 1578.4,1050.8 1577.3,1050.6 1576.3,1050.4 1575.3,1050.1 1574.3,1049.5 1573.3,1048.8 1572.3,1048.2 1571.3,1048.1 1570.3,1047.8 1569.3,1047.6 1568.2,1047.0 1567.2,1046.5 1566.2,1046.0 1565.2,1045.7 1564.2,1045.4 1563.2,1045.0 1562.2,1044.5 1561.2,1044.1 1560.1,1043.8 1559.1,1043.3 1558.1,1043.0 1557.1,1042.6 1556.1,1042.3 1555.1,1041.9 1554.1,1041.5 1553.1,1041.2 1552.1,1040.9 1551.0,1040.5 1550.0,1040.3 1549.0,1039.6 1548.0,1039.4 1547.0,1038.9 1546.0,1038.7 1545.0,1038.1 1544.0,1037.6 1543.0,1037.2 1541.9,1036.8 1540.9,1036.3 1539.9,1035.9 1538.9,1035.4 1537.9,1034.9 1536.9,1034.3 1535.9,1033.8 1534.9,1033.2 1533.9,1032.7 1532.8,1032.1 1531.8,1031.6 1530.8,1031.2 1529.8,1030.6 1528.8,1029.9 1527.8,1029.3 1526.8,1028.7 1525.8,1028.1 1524.7,1027.5 1523.7,1026.7 1522.7,1025.9 1521.7,1025.0 1520.7,1024.2 1519.7,1023.3 1518.7,1022.6 1517.7,1021.8 1516.7,1020.9 1515.6,1020.1 1514.6,1019.2 1513.6,1018.4 1512.6,1017.5 1511.6,1016.7 1510.6,1016.0 1509.6,1015.3 1508.6,1014.7 1507.6,1014.1 1506.5,1013.5 1505.5,1013.0 1504.5,1012.4 1503.5,1011.9 1502.5,1011.4 1501.5,1010.8 1500.5,1010.2 1499.5,1009.6 1498.4,1009.0 1497.4,1008.3 1496.4,1007.5 1495.4,1006.6 1494.4,1005.7 1493.4,1004.7 1492.4,1003.4 1491.4,1001.9 1490.4,1000.3 1489.3,998.5 1488.3,996.6 1487.3,994.6 1486.3,992.4 1485.3,990.1 1484.3,987.8 1483.3,985.1 1482.3,981.6 1481.3,977.7 1480.2,974.1 1479.2,971.5 1478.2,970.1 1477.2,968.9 1476.2,968.3 1475.2,968.4 1474.2,968.8 1473.2,969.4 1472.2,970.0 1471.1,970.9 1470.1,972.2 1469.1,973.5 1468.1,974.3 1467.1,974.3 1466.1,974.3 1465.1,974.3 1464.1,974.2 1463.0,973.4 1462.0,972.0 1461.0,970.3 1460.0,968.3 1459.0,966.5 1458.0,965.0 1457.0,963.5 1456.0,962.0 1455.0,960.6 1453.9,959.1 1452.9,957.6 1451.9,956.1" fill="#ff00ff" fill-opacity="0.18" stroke="none"/>
<polyline points="1451.9,954.6 1452.9,956.1 1453.9,957.5 1455.0,959.0 1456.0,960.5 1457.0,961.9 1458.0,963.4 1459.0,964.9 1460.0,966.8 1461.0,968.7 1462.0,970.4 1463.0,971.8 1464.1,972.6 1465.1,972.7 1466.1,972.7 1467.1,972.7 1468.1,972.7 1469.1,971.9 1470.1,970.6 1471.1,969.3 1472.2,968.4 1473.2,967.8 1474.2,967.2 1475.2,966.8 1476.2,966.7 1477.2,967.2 1478.2,968.4 1479.2,969.9 1480.2,972.5 1481.3,976.0 1482.3,979.9 1483.3,983.4 1484.3,986.1 1485.3,988.4 1486.3,990.7 1487.3,992.9 1488.3,994.9 1489.3,996.8 1490.4,998.6 1491.4,1000.2 1492.4,1001.7 1493.4,1002.9 1494.4,1004.0 1495.4,1004.9 1496.4,1005.7 1497.4,1006.5 1498.4,1007.2 1499.5,1007.8 1500.5,1008.5 1501.5,1009.0 1502.5,1009.6 1503.5,1010.1 1504.5,1010.6 1505.5,1011.1 1506.5,1011.7 1507.6,1012.3 1508.6,1012.9 1509.6,1013.5 1510.6,1014.2 1511.6,1014.9 1512.6,1015.7 1513.6,1016.5 1514.6,1017.3 1515.6,1018.2 1516.7,1019.1 1517.7,1019.9 1518.7,1020.7 1519.7,1021.4 1520.7,1022.3 1521.7,1023.1 1522.7,1024.0 1523.7,1024.8 1524.7,1025.6 1525.8,1026.2 1526.8,1026.8 1527.8,1027.3 1528.8,1028.0 1529.8,1028.7 1530.8,1029.2 1531.8,1029.6 1532.8,1030.1 1533.9,1030.7 1534.9,1031.3 1535.9,1031.8 1536.9,1032.4 1537.9,1032.9 1538.9,1033.4 1539.9,1033.9 1540.9,1034.3 1541.9,1034.7 1543.0,1035.1 1544.0,1035.6 1545.0,1036.1 1546.0,1036.6 1547.0,1036.9 1548.0,1037.3 1549.0,1037.6 1550.0,1038.2 1551.0,1038.5 1552.1,1038.8 1553.1,1039.1 1554.1,1039.5 1555.1,1039.8 1556.1,1040.2 1557.1,1040.5 1558.1,1040.9 1559.1,1041.2 1560.1,1041.7 1561.2,1042.0 1562.2,1042.4 1563.2,1042.8 1564.2,1043.3 1565.2,1043.6 1566.2,1043.9 1567.2,1044.3 1568.2,1044.8 1569.3,1045.4 1570.3,1045.7 1571.3,1045.9 1572.3,1046.1 1573.3,1046.6 1574.3,1047.3 1575.3,1047.9 1576.3,1048.2 1577.3,1048.4 1578.4,1048.6 1579.4,1049.1 1580.4,1049.3 1581.4,1049.9 1582.4,1050.1 1583.4,1050.7 1584.4,1050.9 1585.4,1051.2 1586.4,1051.4 1587.5,1051.7 1588.5,1052.3 1589.5,1052.3 1590.5,1052.5 1591.5,1052.6 1592.5,1052.9 1593.5,1053.1 1594.5,1053.3 1595.6,1053.6 1596.6,1053.8 1597.6,1053.9 1598.6,1054.1 1599.6,1054.4 1600.6,1054.5 1601.6,1054.5 1602.6,1054.3 1603.6,1054.6 1604.7,1054.5 1605.7,1054.8 1606.7,1055.1 1607.7,1055.3 1608.7,1055.5 1609.7,1055.4 1610.7,1055.9 1611.7,1055.8 1612.7,1055.8 1613.8,1055.6 1614.8,1056.2 1615.8,1056.3 1616.8,1056.6 1617.8,1056.5 1618.8,1057.3 1619.8,1057.5 1620.8,1058.1 1621.8,1058.3 1622.9,1058.2 1623.9,1058.3 1624.9,1058.1 1625.9,1058.5 1626.9,1058.5 1627.9,1058.9 1628.9,1059.1 1629.9,1059.2 1631.0,1059.6 1632.0,1059.9 1633.0,1060.2" fill="none" stroke="#ff00ff" stroke-width="2.2" stroke-linejoin="round"/>
<text x="174.60" y="954.50" font-size="19.7" text-anchor="start" fill="#ff00ff">Susceptible</text>
<text x="174.60" y="974.50" font-size="19.7" text-anchor="start" fill="#0aad0a">Resilient</text>
<text x="47.50" y="996.30" font-size="23" text-anchor="middle" fill="#000" transform="rotate(-90 47.50 996.30)">Normalized power</text>
<text x="888.00" y="1136.80" font-size="23.2" text-anchor="middle" fill="#000">Frequency (Hz)</text>
</svg>
</body></html>
